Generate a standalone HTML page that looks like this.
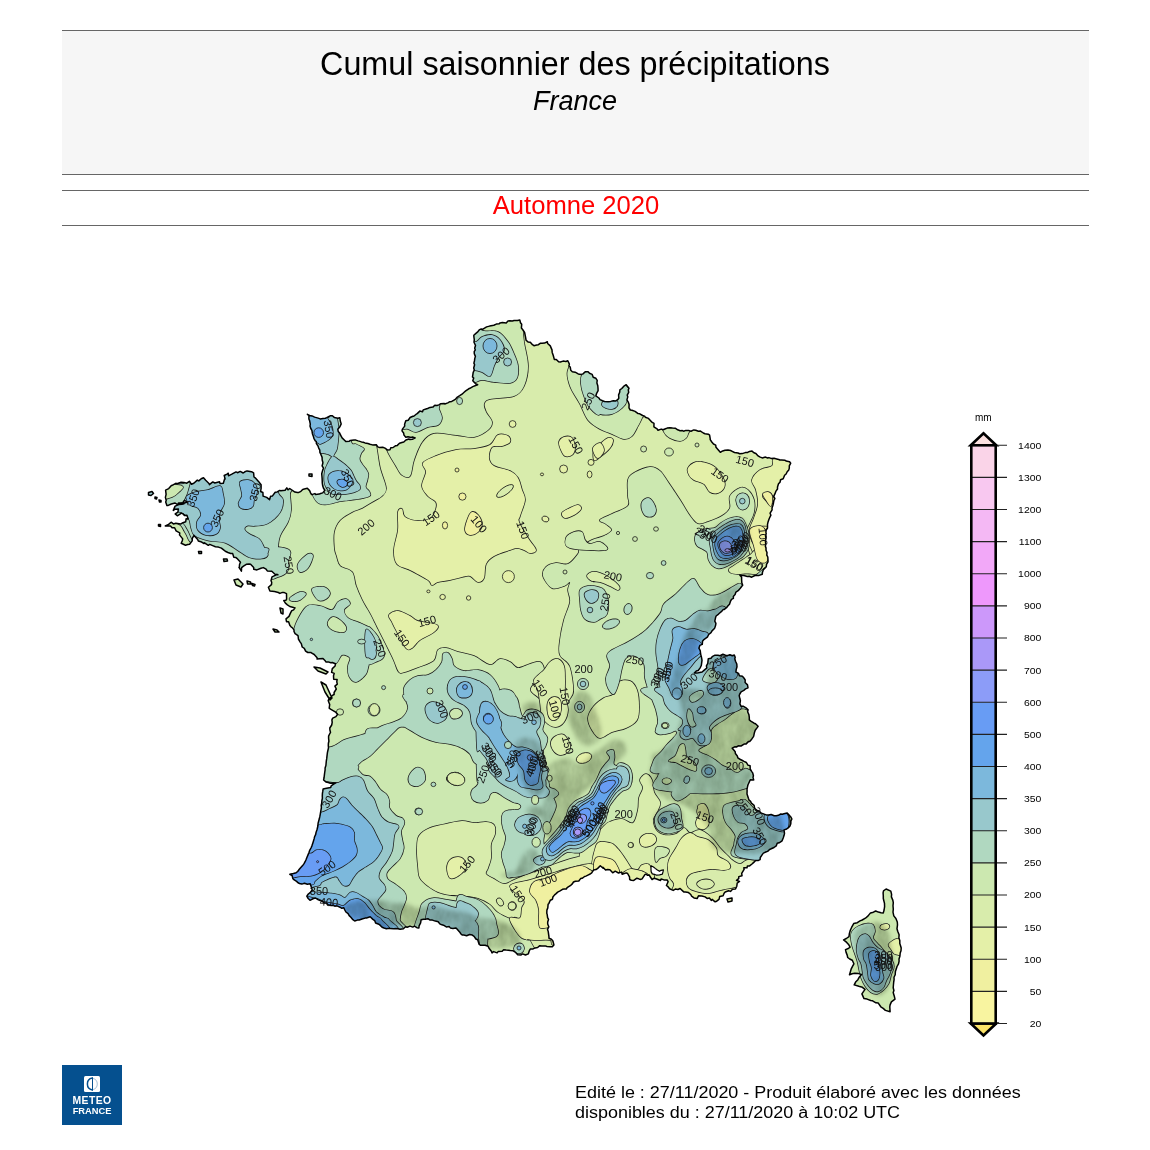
<!DOCTYPE html>
<html lang="fr"><head><meta charset="utf-8"><title>Cumul saisonnier des précipitations - France - Automne 2020</title>
<style>
html,body{margin:0;padding:0;background:#fff;}
body{width:1150px;height:1150px;position:relative;overflow:hidden;font-family:"Liberation Sans",sans-serif;color:#000;}
.hdr{position:absolute;left:62px;top:30px;width:1027px;height:145px;background:#f6f6f6;border-top:1px solid #666;border-bottom:1px solid #666;box-sizing:border-box;}
.t1{position:absolute;left:0;width:1150px;top:46px;text-align:center;font-size:32.3px;line-height:37px;white-space:nowrap;}
.t2{position:absolute;left:0;width:1150px;top:86px;text-align:center;font-size:27px;line-height:31px;font-style:italic;white-space:nowrap;}
.ln{position:absolute;left:62px;width:1027px;height:1px;background:#666;}
.t3{position:absolute;left:0;width:1152px;top:190px;text-align:center;font-size:25.6px;line-height:30px;color:#f00;white-space:nowrap;}
.logo{position:absolute;left:62px;top:1065px;width:60px;height:60px;background:#05508f;}
.logo .ic{position:absolute;left:22px;top:11px;width:16px;height:16px;}
.logo .w{position:absolute;left:0;width:60px;text-align:center;color:#fff;font-weight:bold;font-size:10.4px;line-height:11px;white-space:nowrap;}
.ft{position:absolute;left:575px;top:1083px;font-size:16px;line-height:20px;white-space:nowrap;transform:scaleX(1.122);transform-origin:0 0;}
svg{position:absolute;left:0;top:0;}
.lg{font-family:"Liberation Sans",sans-serif;font-size:9.5px;fill:#000;}
.cl{font-family:"Liberation Sans",sans-serif;font-size:11px;fill:#111;}
</style></head><body>
<div class="hdr"></div>
<div class="t1">Cumul saisonnier des précipitations</div>
<div class="t2">France</div>
<div class="ln" style="top:190px"></div>
<div class="t3">Automne 2020</div>
<div class="ln" style="top:225px"></div>
<svg width="1150" height="1150" viewBox="0 0 1150 1150">
<defs><clipPath id="fr"><path d="M519.8 320.0 L520.5 322.7 L521.7 324.2 L521.4 328.1 L522.8 329.8 L524.6 332.4 L525.1 335.0 L525.5 336.9 L526.1 340.3 L528.0 341.9 L530.3 342.2 L532.5 344.7 L533.9 345.7 L536.7 345.0 L538.4 344.7 L540.2 343.3 L542.1 343.2 L544.6 343.1 L547.3 341.7 L547.6 343.5 L550.3 345.9 L551.0 347.6 L552.0 349.9 L552.2 352.4 L553.2 355.2 L553.8 357.5 L554.3 359.4 L556.3 359.4 L558.6 361.8 L560.3 362.0 L563.1 361.1 L565.9 361.5 L567.8 360.7 L569.4 364.1 L568.9 365.9 L570.2 367.0 L570.8 370.3 L572.3 371.7 L575.2 372.2 L578.2 373.9 L581.2 374.4 L583.0 373.9 L585.2 371.7 L588.1 371.7 L589.5 373.3 L592.2 374.4 L593.2 377.2 L595.9 378.3 L597.2 380.3 L596.9 383.0 L597.8 385.7 L598.0 388.1 L598.1 390.7 L596.5 393.7 L595.8 395.9 L598.9 398.0 L600.0 399.6 L602.5 400.8 L604.5 401.5 L608.1 401.7 L610.7 401.4 L613.3 400.7 L615.9 400.9 L617.7 399.7 L618.8 398.3 L618.6 394.9 L619.7 392.2 L619.9 389.9 L621.8 388.5 L623.6 386.4 L626.2 384.7 L629.0 388.2 L628.3 389.9 L628.7 392.3 L627.2 395.1 L627.8 396.9 L626.9 399.9 L628.4 402.4 L629.1 404.4 L629.0 407.8 L630.3 410.0 L632.0 410.3 L635.1 411.4 L638.1 413.6 L639.8 413.8 L642.6 415.5 L644.6 416.1 L645.3 417.2 L648.5 418.4 L649.9 419.9 L651.5 421.8 L654.0 423.4 L653.9 426.8 L657.1 428.9 L658.0 430.3 L661.2 429.1 L663.2 429.8 L665.5 428.8 L667.2 428.1 L669.8 427.7 L672.5 428.1 L675.2 428.2 L677.7 429.8 L680.1 430.7 L682.4 430.6 L683.6 431.2 L685.8 430.4 L689.1 430.6 L691.0 431.2 L693.8 429.9 L695.8 430.3 L698.4 431.3 L700.5 431.1 L703.3 433.0 L705.0 433.7 L708.3 434.2 L709.6 435.1 L710.2 438.7 L710.2 439.6 L711.8 442.0 L713.5 444.0 L715.7 445.1 L716.0 447.3 L717.7 449.2 L720.3 452.3 L721.9 451.3 L725.0 450.3 L727.9 450.1 L730.6 450.5 L732.2 451.3 L734.5 452.5 L738.0 453.0 L739.7 453.8 L742.2 453.6 L745.3 452.6 L747.7 452.4 L749.5 451.4 L752.0 451.1 L753.9 452.8 L755.9 453.5 L758.1 455.9 L759.7 456.9 L762.2 457.9 L765.5 457.1 L767.7 458.0 L768.9 457.6 L771.0 458.4 L774.1 458.3 L776.7 458.9 L778.7 459.4 L779.7 460.0 L781.6 459.9 L785.1 460.3 L786.0 461.0 L789.6 461.8 L790.7 463.2 L789.3 465.9 L789.3 468.1 L788.8 469.9 L787.2 471.7 L786.1 474.0 L784.6 475.3 L783.2 478.8 L780.6 479.7 L780.0 482.2 L778.5 483.8 L777.5 487.0 L777.5 489.0 L775.8 491.4 L774.9 493.9 L773.7 496.3 L774.9 498.5 L773.9 500.4 L773.3 503.8 L772.8 505.7 L772.0 508.1 L772.1 509.8 L770.1 513.2 L770.9 515.2 L769.5 518.0 L768.8 519.8 L767.9 522.6 L767.5 524.3 L767.5 528.0 L766.2 530.0 L765.9 532.3 L766.2 533.8 L765.5 535.6 L766.0 538.5 L765.4 540.7 L765.7 543.7 L765.4 546.4 L766.0 547.9 L766.0 550.2 L767.0 552.5 L766.8 555.2 L767.8 557.0 L768.0 560.4 L768.0 561.8 L766.5 564.4 L766.3 566.8 L765.6 567.5 L763.4 569.6 L762.4 572.4 L762.3 574.3 L759.1 575.4 L756.7 575.4 L754.9 575.5 L751.7 577.2 L749.2 576.3 L747.3 576.5 L743.9 575.5 L742.3 575.4 L739.8 575.1 L741.6 577.3 L741.6 579.3 L741.8 582.8 L742.7 585.3 L742.0 586.0 L740.3 588.3 L738.2 590.7 L735.9 592.1 L735.1 594.6 L733.3 596.5 L733.4 598.3 L731.5 599.3 L730.3 601.7 L729.5 604.3 L728.0 605.8 L726.5 607.7 L724.0 609.6 L723.1 609.6 L721.9 611.1 L719.1 613.5 L717.9 614.7 L716.1 616.0 L715.5 617.8 L714.8 621.2 L715.9 623.3 L715.6 625.3 L714.8 627.9 L714.2 628.8 L712.0 630.9 L711.0 632.7 L708.7 634.5 L707.6 636.8 L705.9 638.2 L703.9 639.6 L702.5 641.3 L702.3 644.4 L699.8 645.4 L698.9 648.2 L700.2 650.6 L700.4 651.8 L700.6 654.0 L701.4 656.9 L701.8 658.8 L702.0 660.4 L701.5 664.2 L701.3 665.5 L700.0 668.1 L698.2 670.5 L696.3 671.0 L694.3 673.0 L696.8 673.1 L698.4 672.8 L702.1 672.0 L704.5 669.9 L706.8 668.0 L706.4 665.8 L707.8 663.4 L707.9 662.1 L708.3 658.7 L711.0 658.2 L712.2 656.7 L715.0 655.2 L718.0 655.3 L720.0 655.7 L722.9 654.3 L725.5 655.2 L727.9 655.4 L729.9 654.7 L732.3 655.8 L734.3 655.0 L735.2 657.2 L734.8 658.7 L735.5 661.2 L736.8 664.0 L737.0 666.7 L736.2 669.6 L735.9 672.0 L738.5 673.3 L739.4 675.7 L742.4 676.3 L743.9 678.0 L745.2 680.0 L745.1 682.5 L747.5 684.9 L748.0 687.8 L745.5 688.9 L743.8 690.4 L741.1 691.8 L739.8 694.0 L739.2 695.6 L739.9 698.8 L740.4 700.7 L739.9 703.9 L741.1 706.3 L743.5 706.3 L746.0 707.9 L748.1 709.9 L747.6 711.7 L748.9 714.6 L749.3 717.4 L749.3 719.9 L750.8 721.1 L754.1 723.2 L755.5 723.8 L758.1 726.3 L757.2 727.6 L755.2 730.3 L754.4 732.7 L753.7 736.1 L753.1 737.1 L751.7 739.2 L749.7 741.6 L748.4 741.6 L745.9 744.1 L744.5 743.9 L741.0 746.0 L738.3 745.8 L736.4 747.0 L735.1 746.7 L732.2 748.2 L733.8 750.1 L735.2 751.8 L735.4 753.5 L737.3 756.0 L737.8 757.8 L740.4 759.5 L742.4 760.5 L744.0 761.4 L746.4 762.5 L747.9 765.1 L750.1 765.7 L750.2 769.0 L751.6 771.3 L752.7 772.9 L753.4 775.8 L753.0 777.4 L753.7 779.9 L750.3 779.7 L749.5 781.5 L748.0 784.7 L747.7 785.8 L747.0 789.1 L747.1 790.6 L747.0 794.1 L747.5 795.6 L748.4 798.3 L749.1 800.2 L750.6 801.4 L751.4 803.2 L754.1 805.3 L754.7 808.3 L756.7 810.2 L758.8 810.9 L761.3 813.1 L764.1 814.1 L766.9 815.1 L768.5 815.0 L771.1 814.5 L774.2 815.8 L776.2 815.8 L778.3 815.3 L780.8 814.0 L782.3 814.2 L784.0 813.7 L787.2 812.9 L789.3 815.2 L790.8 816.9 L791.9 819.0 L790.9 820.9 L790.8 823.8 L790.0 825.9 L788.2 827.9 L786.0 829.3 L784.0 829.9 L784.5 833.4 L784.1 835.3 L783.2 837.9 L782.1 840.8 L779.1 842.8 L777.2 843.3 L776.2 845.9 L774.0 847.5 L771.2 848.8 L769.6 849.5 L767.6 851.4 L766.3 851.8 L763.4 853.1 L762.6 854.1 L760.3 857.5 L760.1 859.6 L758.5 860.4 L755.7 860.5 L753.5 862.6 L752.0 864.0 L749.6 865.9 L747.4 865.9 L747.0 867.8 L743.8 867.7 L744.1 869.4 L741.7 873.4 L742.0 875.7 L738.8 876.6 L738.7 878.6 L736.5 880.3 L739.5 881.5 L737.2 883.1 L736.8 886.2 L735.5 889.0 L732.5 889.3 L730.5 891.4 L728.6 890.8 L725.2 892.0 L724.1 893.2 L723.1 895.8 L719.7 896.6 L719.0 899.4 L716.7 901.2 L715.1 901.8 L712.1 899.4 L711.4 900.4 L709.4 898.0 L707.1 898.4 L705.1 896.9 L701.9 896.0 L698.5 895.8 L697.1 898.6 L694.0 897.9 L691.6 896.2 L690.8 894.5 L688.5 892.6 L685.5 892.1 L683.8 891.9 L682.9 891.1 L680.1 888.5 L677.9 889.5 L675.3 889.1 L673.2 890.4 L669.6 888.8 L668.0 886.7 L666.4 885.5 L668.1 881.7 L667.1 880.0 L663.9 879.9 L661.2 878.9 L660.5 880.5 L656.6 879.0 L654.2 878.2 L652.1 879.5 L650.0 876.5 L649.4 875.0 L647.7 875.3 L645.9 874.1 L644.9 874.6 L642.1 878.9 L640.9 879.4 L639.0 878.9 L636.9 878.2 L633.8 880.4 L631.3 880.2 L629.7 879.5 L629.5 876.9 L627.6 873.5 L626.2 872.9 L622.2 874.3 L621.5 872.1 L618.5 873.0 L615.2 871.2 L612.7 872.8 L609.9 869.8 L607.6 869.6 L605.6 870.1 L602.9 867.2 L603.1 868.3 L600.3 865.8 L597.7 868.4 L596.0 869.6 L593.7 869.9 L591.7 872.8 L590.2 874.0 L587.9 875.1 L585.9 876.1 L584.6 876.5 L582.1 878.3 L580.6 878.6 L578.8 881.0 L575.4 881.2 L573.5 882.0 L572.3 883.9 L570.3 885.7 L567.1 887.7 L566.5 888.9 L564.3 889.0 L562.5 889.3 L560.1 890.9 L557.7 892.1 L556.1 893.6 L554.6 894.9 L552.9 897.0 L552.5 899.2 L550.3 900.2 L548.9 903.4 L548.1 904.3 L547.8 907.9 L546.9 910.1 L546.8 913.2 L547.2 914.6 L547.6 917.7 L548.5 919.4 L547.7 921.9 L547.7 923.9 L548.8 926.8 L547.5 929.3 L548.3 931.9 L548.4 932.8 L548.9 936.4 L549.0 938.3 L551.4 939.3 L552.9 941.0 L553.9 944.9 L552.3 946.7 L550.1 946.7 L547.0 946.5 L545.2 945.9 L541.7 945.9 L539.8 945.7 L537.6 947.5 L535.1 947.9 L533.1 948.9 L530.3 949.0 L529.3 950.8 L528.3 953.9 L525.5 955.0 L522.6 953.9 L521.1 954.9 L517.7 954.7 L515.2 952.1 L513.2 950.8 L510.3 950.5 L508.4 950.2 L506.1 950.1 L503.6 949.8 L502.2 951.3 L498.3 951.4 L497.1 952.9 L493.6 951.6 L492.0 952.9 L491.4 951.3 L489.0 948.2 L488.1 946.3 L485.2 945.3 L482.8 945.3 L480.4 945.3 L479.0 944.1 L477.7 939.8 L475.9 939.0 L474.1 936.3 L472.3 935.1 L469.6 934.5 L466.6 935.7 L463.8 935.1 L462.1 934.9 L461.0 934.0 L459.6 931.9 L457.0 929.0 L456.0 927.9 L452.9 928.4 L450.5 928.1 L449.3 926.6 L446.3 926.9 L443.5 925.2 L441.2 924.5 L439.8 923.9 L438.2 921.7 L435.3 921.1 L432.4 920.1 L430.1 920.1 L427.9 918.7 L425.2 919.2 L423.5 919.2 L421.1 919.8 L420.6 922.9 L419.1 925.8 L418.9 928.0 L416.9 927.7 L414.4 926.2 L412.8 927.1 L410.0 926.1 L407.2 927.3 L405.5 926.7 L403.4 928.7 L400.1 929.3 L398.0 928.8 L396.1 928.5 L393.8 928.8 L390.3 928.6 L389.3 928.3 L386.4 928.8 L384.0 928.0 L382.1 927.2 L379.5 924.6 L378.2 924.0 L375.6 923.0 L374.7 920.6 L372.9 919.4 L370.2 916.8 L366.5 918.0 L365.1 918.1 L362.0 919.0 L359.2 920.0 L357.4 920.1 L354.7 921.0 L352.9 919.7 L350.9 917.3 L349.2 915.6 L348.1 913.7 L345.9 912.0 L344.8 910.0 L343.8 907.7 L341.8 908.3 L340.1 907.2 L337.0 905.9 L334.5 906.0 L333.4 905.2 L331.1 905.4 L328.0 904.8 L326.8 903.3 L324.1 902.7 L321.5 901.0 L320.9 900.9 L318.4 899.9 L315.7 898.1 L313.5 898.5 L310.0 900.3 L308.2 898.5 L306.8 896.1 L308.3 894.0 L310.1 892.7 L312.2 890.0 L311.3 886.9 L310.2 883.8 L307.4 884.2 L304.5 883.2 L301.8 884.1 L299.5 883.5 L298.0 882.8 L296.6 881.4 L293.9 879.7 L292.8 878.4 L292.1 875.5 L289.8 874.3 L293.4 873.5 L296.2 872.7 L297.7 871.5 L299.3 869.2 L300.6 867.7 L302.6 865.6 L303.9 863.9 L305.1 861.7 L306.0 859.7 L307.1 857.0 L308.1 854.6 L308.9 852.7 L309.8 850.1 L311.0 848.0 L312.0 845.6 L312.7 843.4 L313.4 841.2 L314.1 838.9 L314.6 836.7 L315.7 834.4 L316.1 832.2 L316.9 830.0 L317.5 827.8 L317.9 825.5 L318.1 823.1 L318.7 821.0 L319.3 818.8 L319.8 816.7 L320.2 814.6 L320.6 812.2 L321.0 809.9 L321.4 807.7 L321.2 805.5 L321.7 803.1 L321.9 800.5 L322.4 798.2 L322.3 796.2 L322.4 793.7 L322.8 791.2 L323.1 789.0 L325.3 788.5 L327.9 788.0 L330.7 787.5 L331.2 785.8 L333.6 784.2 L335.9 782.9 L332.8 783.0 L330.3 783.3 L328.3 782.5 L325.9 781.9 L323.6 780.0 L324.1 777.5 L324.4 774.8 L324.7 772.5 L325.1 769.9 L325.1 767.9 L325.9 765.5 L326.1 763.4 L326.3 761.1 L326.7 758.7 L326.9 756.8 L327.2 754.4 L327.5 752.2 L328.0 750.0 L328.5 747.8 L328.3 745.5 L328.4 743.2 L328.9 741.2 L328.6 738.3 L328.6 736.1 L329.6 734.0 L330.5 732.3 L329.9 730.0 L329.8 728.0 L331.7 725.0 L332.2 722.4 L331.9 719.9 L332.7 718.1 L335.9 716.6 L337.6 714.3 L335.7 712.2 L333.5 710.8 L330.5 709.2 L329.2 708.2 L329.7 704.5 L329.3 703.4 L328.2 700.5 L329.1 698.7 L333.0 695.0 L334.1 694.5 L334.1 692.5 L336.3 689.0 L334.9 686.1 L337.3 684.2 L336.8 681.9 L337.1 679.4 L333.7 679.2 L333.5 675.7 L334.2 673.4 L331.6 672.4 L332.3 668.6 L335.1 666.0 L335.4 663.8 L332.3 662.5 L330.8 662.7 L328.3 661.9 L325.9 662.0 L325.4 661.1 L323.0 658.6 L319.7 658.7 L317.1 659.1 L317.1 657.7 L314.2 654.5 L311.8 653.2 L311.1 652.6 L307.8 652.5 L305.6 651.1 L304.3 648.4 L302.2 647.0 L301.3 643.6 L300.2 642.1 L298.4 639.0 L298.2 636.8 L298.0 635.6 L295.1 633.6 L294.0 631.5 L294.0 629.9 L292.2 627.6 L291.3 627.1 L289.8 625.2 L288.6 621.7 L286.5 621.7 L286.0 618.9 L289.0 616.4 L290.2 613.6 L291.7 610.7 L293.6 609.9 L295.0 607.9 L292.7 607.2 L289.8 606.5 L287.4 604.8 L285.4 603.2 L283.8 600.6 L286.0 600.2 L286.6 599.1 L286.5 593.6 L283.8 592.4 L282.4 592.4 L279.9 593.4 L278.3 592.5 L274.5 591.6 L269.9 591.1 L268.4 587.2 L271.5 584.6 L271.7 582.3 L271.0 580.8 L272.0 576.9 L276.8 574.6 L277.9 574.8 L275.0 574.2 L271.8 571.3 L267.3 570.9 L266.1 569.2 L263.3 567.6 L261.0 568.3 L256.9 569.9 L253.7 569.2 L253.7 567.6 L250.6 564.3 L249.1 564.1 L246.3 564.3 L243.5 566.2 L241.6 567.7 L241.4 571.2 L239.0 567.3 L239.3 567.4 L239.6 564.3 L240.5 562.2 L236.9 558.3 L236.0 557.6 L233.8 557.2 L232.7 553.6 L230.7 553.5 L227.9 552.5 L225.3 551.3 L223.3 549.6 L221.4 548.1 L218.4 547.1 L215.4 546.8 L213.3 545.9 L209.7 544.4 L208.3 545.3 L204.5 542.8 L204.0 543.5 L200.8 541.7 L198.3 541.0 L197.7 539.4 L194.0 535.4 L192.3 538.4 L192.2 540.9 L189.6 544.2 L187.8 544.6 L185.5 545.2 L181.2 543.3 L182.2 541.0 L182.7 538.9 L179.5 534.9 L179.7 533.7 L179.7 532.8 L176.1 530.9 L174.6 527.7 L172.1 527.8 L170.5 525.9 L165.3 526.0 L168.6 524.4 L171.1 522.2 L173.4 523.9 L175.8 523.3 L180.6 524.1 L182.9 522.7 L185.7 521.7 L186.1 518.8 L188.2 518.9 L186.9 515.2 L184.7 515.6 L183.0 513.9 L181.5 513.1 L177.3 515.8 L175.2 513.9 L177.9 512.1 L178.4 509.0 L174.8 509.3 L173.3 510.4 L175.1 506.1 L178.8 504.6 L182.0 504.2 L184.0 503.7 L184.3 502.9 L187.5 502.1 L184.4 500.3 L182.8 502.9 L178.5 503.1 L177.8 504.9 L175.1 503.0 L171.3 504.0 L168.2 505.4 L166.9 505.5 L165.7 501.9 L166.2 500.4 L165.4 497.4 L166.1 494.3 L165.6 490.1 L168.7 488.6 L171.4 485.5 L171.7 485.6 L175.8 483.3 L177.0 483.7 L181.1 482.2 L183.9 482.4 L186.8 483.2 L189.4 481.3 L191.4 484.2 L193.8 483.2 L197.3 480.1 L198.8 480.9 L201.2 478.8 L203.5 477.7 L205.7 480.3 L209.2 483.7 L209.4 484.7 L212.8 481.9 L214.8 483.0 L219.5 481.7 L220.0 483.4 L223.3 483.2 L224.6 479.0 L225.1 478.9 L224.2 475.5 L227.0 474.1 L228.3 473.2 L228.5 475.8 L231.8 474.2 L236.0 471.9 L237.5 472.7 L240.2 471.4 L243.2 473.0 L244.8 471.8 L247.1 470.9 L251.5 471.7 L253.6 472.9 L254.0 477.0 L255.2 477.8 L258.5 481.4 L261.1 484.8 L261.1 488.5 L260.6 491.5 L262.9 492.5 L263.1 496.1 L266.7 497.4 L269.5 499.7 L270.6 496.2 L272.5 495.9 L275.2 492.2 L277.2 491.9 L279.7 490.4 L280.7 490.8 L285.1 490.2 L286.8 487.9 L288.0 489.8 L289.7 488.5 L294.9 492.1 L297.4 492.6 L298.4 492.6 L300.9 491.3 L302.7 489.4 L304.3 489.0 L307.3 488.3 L309.6 490.6 L310.7 493.1 L311.6 494.6 L314.9 493.6 L315.6 494.4 L319.2 494.1 L320.6 493.5 L322.7 492.9 L324.9 490.2 L323.5 488.3 L322.7 485.8 L322.3 483.1 L322.2 480.3 L322.1 478.1 L321.9 476.0 L321.7 473.8 L322.7 470.1 L323.5 468.2 L322.1 465.9 L322.7 463.8 L322.9 462.5 L322.2 460.0 L322.1 457.4 L320.8 454.2 L319.9 452.4 L319.8 450.2 L318.7 448.1 L318.1 446.2 L316.4 443.6 L316.3 441.5 L315.3 440.8 L313.9 438.3 L313.4 436.4 L312.4 433.7 L311.9 430.3 L310.8 428.5 L310.0 426.1 L310.3 424.1 L309.6 420.6 L308.9 419.0 L308.9 415.5 L307.4 414.3 L309.6 415.4 L312.1 415.9 L314.6 417.1 L318.2 418.1 L320.2 418.9 L322.9 418.4 L325.4 418.2 L326.7 417.6 L330.1 415.8 L332.4 415.8 L334.5 417.6 L337.9 418.2 L339.8 417.7 L340.3 421.0 L341.2 423.9 L339.9 426.7 L337.8 429.2 L338.2 431.4 L339.4 432.7 L341.0 435.8 L342.1 437.9 L344.8 440.5 L345.8 441.6 L349.3 441.3 L350.3 440.4 L353.9 439.9 L355.9 440.1 L358.1 440.9 L361.5 441.9 L363.2 442.2 L365.0 442.9 L367.9 443.5 L370.0 444.2 L372.5 444.9 L376.3 444.7 L377.8 446.9 L379.6 447.6 L382.7 447.2 L385.0 448.1 L387.3 449.9 L390.0 449.7 L390.8 447.8 L393.1 447.5 L395.7 445.7 L397.3 445.4 L399.5 443.3 L401.9 442.5 L403.8 442.0 L405.9 440.0 L408.9 439.0 L409.9 439.6 L412.4 439.2 L415.2 437.9 L412.4 437.0 L411.2 437.4 L408.0 436.7 L405.8 437.3 L404.0 435.1 L403.6 433.0 L402.0 430.9 L402.4 429.1 L404.7 426.1 L404.6 424.2 L405.8 420.8 L408.2 420.2 L410.1 417.5 L412.9 416.2 L413.7 416.3 L416.2 414.2 L417.2 413.6 L419.8 411.1 L422.5 411.8 L423.2 409.9 L426.7 408.7 L427.6 408.5 L430.0 407.4 L432.9 407.1 L434.8 405.3 L437.0 405.5 L438.9 404.9 L440.8 403.7 L444.1 403.4 L444.8 404.0 L447.8 402.9 L449.9 401.7 L451.7 401.4 L453.6 400.3 L455.6 399.1 L457.4 397.1 L459.7 395.7 L462.0 394.2 L464.1 392.3 L465.7 390.9 L468.7 388.8 L469.9 388.3 L472.8 386.6 L476.2 385.3 L477.7 384.7 L475.4 383.6 L472.8 380.8 L473.7 378.0 L472.5 376.9 L472.9 374.4 L473.2 372.4 L474.3 370.0 L473.7 368.0 L474.6 364.8 L473.9 363.1 L474.5 360.7 L474.8 358.4 L475.4 356.4 L474.3 353.7 L474.2 351.7 L475.3 349.9 L474.7 348.3 L475.5 345.5 L474.0 342.2 L474.3 339.6 L473.9 337.0 L473.8 335.2 L475.9 333.4 L477.4 332.2 L479.6 329.6 L481.2 329.0 L482.9 329.2 L485.8 327.4 L486.6 326.9 L489.6 326.1 L491.1 325.8 L493.8 325.2 L496.3 324.1 L499.2 323.8 L500.1 322.9 L502.3 322.6 L506.2 322.9 L508.0 320.9 L509.8 320.8 L512.3 321.0 L514.1 320.5 L517.4 320.5Z M886.1 889.0 L890.8 891.1 L891.6 894.4 L891.4 896.9 L892.8 900.1 L893.3 902.6 L893.0 905.8 L893.3 909.2 L893.0 912.1 L893.8 915.9 L895.9 918.5 L897.3 922.0 L897.5 924.8 L897.0 928.7 L897.7 931.2 L899.1 934.8 L898.9 937.9 L899.8 940.5 L899.8 943.6 L900.7 946.2 L901.2 948.0 L901.0 950.7 L900.2 953.0 L899.9 956.2 L899.0 958.9 L899.1 961.2 L898.5 963.9 L897.0 966.5 L896.4 968.6 L895.4 971.5 L895.2 974.8 L894.0 977.3 L894.1 979.7 L893.7 982.0 L893.4 985.3 L893.2 987.7 L893.9 990.5 L893.2 992.5 L894.3 996.2 L895.0 999.2 L891.4 1001.9 L890.1 1004.9 L889.8 1006.9 L890.1 1011.7 L885.4 1010.4 L883.2 1008.4 L880.8 1006.8 L878.1 1002.9 L875.9 1002.8 L872.6 1000.8 L870.7 1000.5 L867.1 999.1 L864.0 998.6 L861.9 993.9 L863.1 992.1 L865.0 989.3 L862.4 987.3 L858.8 986.3 L854.2 984.9 L855.6 982.1 L857.9 979.7 L859.4 976.9 L861.5 974.5 L858.6 973.6 L854.8 973.2 L852.1 973.8 L849.5 974.8 L850.1 972.7 L851.1 969.2 L852.5 966.3 L853.9 963.8 L852.3 960.2 L849.7 959.0 L847.7 957.5 L847.2 955.1 L846.1 952.4 L845.5 949.6 L848.3 948.5 L850.1 947.2 L848.8 944.8 L846.7 942.4 L843.6 939.9 L846.3 938.5 L849.0 936.7 L849.4 933.4 L850.3 930.2 L851.7 927.2 L853.7 923.6 L857.3 922.7 L860.0 920.9 L862.2 920.0 L865.4 918.2 L868.1 915.9 L870.5 912.9 L873.4 912.2 L875.7 911.0 L878.4 912.1 L881.0 912.7 L883.3 912.9 L884.1 910.0 L884.6 906.6 L884.5 903.4 L883.9 901.0 L883.3 898.5 L883.3 895.7 L883.1 892.9 L883.5 890.8Z M234.0 580.0 L238.0 579.0 L243.0 584.0 L241.0 587.0 L236.0 585.0ZM280.0 608.0 L283.0 609.0 L283.0 614.0 L281.0 613.0ZM273.0 629.0 L277.0 630.0 L279.0 632.0 L275.0 632.0ZM314.0 667.0 L320.0 668.0 L328.0 672.0 L326.0 674.0 L318.0 671.0ZM321.0 682.0 L326.0 685.0 L332.0 698.0 L330.0 700.0 L325.0 692.0ZM148.5 492.5 L152.0 491.5 L153.5 493.5 L151.0 495.5 L148.5 495.0ZM155.0 497.0 L157.0 497.5 L156.5 499.0 L155.0 498.5ZM159.0 500.0 L161.0 500.5 L161.0 502.0 L159.5 502.0ZM158.5 524.5 L160.5 524.5 L160.5 526.5 L158.5 526.0ZM198.5 551.5 L201.5 551.5 L201.5 553.5 L199.0 553.5ZM223.5 559.0 L227.0 559.0 L227.5 561.0 L224.0 561.5ZM247.0 581.0 L250.5 582.0 L251.0 584.0 L247.5 584.0ZM252.0 583.5 L255.0 584.5 L254.5 586.0 L252.5 585.5ZM727.0 899.0 L732.0 898.0 L732.0 901.0 L728.0 902.0ZM309.0 474.0 L312.0 474.0 L312.0 476.5 L309.0 476.0Z"/></clipPath>
<filter id="b1" x="-20%" y="-20%" width="140%" height="140%"><feGaussianBlur stdDeviation="1.6"/></filter>
<filter id="rl" x="0" y="0" width="100%" height="100%" filterUnits="userSpaceOnUse" color-interpolation-filters="sRGB"><feTurbulence type="fractalNoise" baseFrequency="0.09 0.05" numOctaves="3" seed="7" result="n"/><feColorMatrix in="n" type="matrix" values="0 0 0 0 0.58  0 0 0 0 0.60  0 0 0 0 0.55  0.55 0 0 0 0.22" result="na"/><feGaussianBlur in="SourceGraphic" stdDeviation="2.2" result="b"/><feComposite in="na" in2="b" operator="in"/></filter>
</defs>
<g clip-path="url(#fr)">
<rect x="130" y="310" width="790" height="720" fill="#d8ecac"/>
<path d="M130.0 460.0 C158.3 393.3 259.7 403.3 300.0 400.0 C340.3 396.7 359.3 432.5 372.0 440.0 C384.7 447.5 374.7 440.3 376.0 445.0 C377.3 449.7 378.3 460.8 380.0 468.0 C381.7 475.2 385.7 483.3 386.0 488.0 C386.3 492.7 384.3 493.7 382.0 496.0 C379.7 498.3 375.3 500.0 372.0 502.0 C368.7 504.0 365.3 506.3 362.0 508.0 C358.7 509.7 355.7 510.0 352.0 512.0 C348.3 514.0 343.0 516.7 340.0 520.0 C337.0 523.3 335.0 527.3 334.0 532.0 C333.0 536.7 333.7 544.0 334.0 548.0 C334.3 552.0 335.0 553.0 336.0 556.0 C337.0 559.0 337.3 563.3 340.0 566.0 C342.7 568.7 349.3 568.7 352.0 572.0 C354.7 575.3 354.3 581.3 356.0 586.0 C357.7 590.7 359.7 595.3 362.0 600.0 C364.3 604.7 367.3 609.0 370.0 614.0 C372.7 619.0 374.3 622.7 378.0 630.0 C381.7 637.3 388.7 651.0 392.0 658.0 C395.3 665.0 396.0 669.5 398.0 672.0 C400.0 674.5 400.7 673.7 404.0 673.0 C407.3 672.3 413.0 670.0 418.0 668.0 C423.0 666.0 430.7 664.0 434.0 661.0 C437.3 658.0 436.0 652.2 438.0 650.0 C440.0 647.8 442.7 647.7 446.0 648.0 C449.3 648.3 453.3 650.7 458.0 652.0 C462.7 653.3 468.7 653.8 474.0 656.0 C479.3 658.2 485.7 664.5 490.0 665.0 C494.3 665.5 496.7 659.5 500.0 659.0 C503.3 658.5 507.0 660.5 510.0 662.0 C513.0 663.5 514.7 667.7 518.0 668.0 C521.3 668.3 526.3 665.0 530.0 664.0 C533.7 663.0 537.7 661.0 540.0 662.0 C542.3 663.0 544.3 667.3 544.0 670.0 C543.7 672.7 540.3 674.7 538.0 678.0 C535.7 681.3 529.7 686.3 530.0 690.0 C530.3 693.7 537.0 696.3 540.0 700.0 C543.0 703.7 545.3 708.7 548.0 712.0 C550.7 715.3 553.7 720.0 556.0 720.0 C558.3 720.0 559.7 715.3 562.0 712.0 C564.3 708.7 568.0 703.7 570.0 700.0 C572.0 696.3 574.0 695.7 574.0 690.0 C574.0 684.3 572.3 671.8 570.0 666.0 C567.7 660.2 561.7 659.3 560.0 655.0 C558.3 650.7 559.3 645.8 560.0 640.0 C560.7 634.2 562.3 626.3 564.0 620.0 C565.7 613.7 569.3 607.0 570.0 602.0 C570.7 597.0 568.0 593.3 568.0 590.0 C568.0 586.7 570.7 582.7 570.0 582.0 C569.3 581.3 567.0 585.0 564.0 586.0 C561.0 587.0 555.5 589.7 552.0 588.0 C548.5 586.3 544.0 579.5 543.0 576.0 C542.0 572.5 543.8 569.2 546.0 567.0 C548.2 564.8 552.3 563.5 556.0 563.0 C559.7 562.5 564.3 565.5 568.0 564.0 C571.7 562.5 576.0 556.7 578.0 554.0 C580.0 551.3 577.7 550.3 580.0 548.0 C582.3 545.7 588.0 542.0 592.0 540.0 C596.0 538.0 600.7 537.7 604.0 536.0 C607.3 534.3 611.7 532.0 612.0 530.0 C612.3 528.0 608.0 525.7 606.0 524.0 C604.0 522.3 599.0 521.7 600.0 520.0 C601.0 518.3 607.3 516.3 612.0 514.0 C616.7 511.7 625.3 509.0 628.0 506.0 C630.7 503.0 628.0 500.3 628.0 496.0 C628.0 491.7 627.0 483.8 628.0 480.0 C629.0 476.2 630.3 475.2 634.0 473.0 C637.7 470.8 645.7 467.3 650.0 467.0 C654.3 466.7 657.0 468.5 660.0 471.0 C663.0 473.5 664.7 477.2 668.0 482.0 C671.3 486.8 676.3 494.3 680.0 500.0 C683.7 505.7 687.0 512.0 690.0 516.0 C693.0 520.0 695.0 523.0 698.0 524.0 C701.0 525.0 704.0 523.3 708.0 522.0 C712.0 520.7 718.3 518.3 722.0 516.0 C725.7 513.7 728.7 511.3 730.0 508.0 C731.3 504.7 728.3 499.3 730.0 496.0 C731.7 492.7 737.0 489.0 740.0 488.0 C743.0 487.0 745.7 488.0 748.0 490.0 C750.3 492.0 753.0 496.3 754.0 500.0 C755.0 503.7 754.7 508.3 754.0 512.0 C753.3 515.7 751.7 518.0 750.0 522.0 C748.3 526.0 744.3 531.3 744.0 536.0 C743.7 540.7 746.7 546.0 748.0 550.0 C749.3 554.0 750.0 556.3 752.0 560.0 C754.0 563.7 752.0 570.0 760.0 572.0 C768.0 574.0 793.3 500.7 800.0 572.0 C806.7 643.3 840.0 928.7 800.0 1000.0 C760.0 1071.3 643.3 1000.0 560.0 1000.0 C476.7 1000.0 371.7 1033.3 300.0 1000.0 C228.3 966.7 158.3 890.0 130.0 800.0 C101.7 710.0 101.7 526.7 130.0 460.0Z M390.0 420.0 C398.0 411.3 420.0 398.0 430.0 380.0 C440.0 362.0 435.3 323.3 450.0 312.0 C464.7 300.7 506.0 310.0 518.0 312.0 C530.0 314.0 521.0 319.0 522.0 324.0 C523.0 329.0 523.0 335.0 524.0 342.0 C525.0 349.0 528.0 358.7 528.0 366.0 C528.0 373.3 526.3 381.0 524.0 386.0 C521.7 391.0 519.7 393.8 514.0 396.0 C508.3 398.2 495.0 397.7 490.0 399.0 C485.0 400.3 484.7 401.8 484.0 404.0 C483.3 406.2 484.7 409.0 486.0 412.0 C487.3 415.0 491.7 419.0 492.0 422.0 C492.3 425.0 491.0 427.5 488.0 430.0 C485.0 432.5 479.3 436.2 474.0 437.0 C468.7 437.8 462.7 435.7 456.0 435.0 C449.3 434.3 439.7 431.8 434.0 433.0 C428.3 434.2 425.3 437.5 422.0 442.0 C418.7 446.5 416.0 454.3 414.0 460.0 C412.0 465.7 412.0 473.5 410.0 476.0 C408.0 478.5 404.3 476.7 402.0 475.0 C399.7 473.3 398.5 470.2 396.0 466.0 C393.5 461.8 389.3 455.7 387.0 450.0 C384.7 444.3 381.5 437.0 382.0 432.0 C382.5 427.0 382.0 428.7 390.0 420.0Z M580.0 360.0 C588.7 361.7 609.0 372.0 620.0 380.0 C631.0 388.0 642.3 401.7 646.0 408.0 C649.7 414.3 643.3 415.0 642.0 418.0 C640.7 421.0 639.7 423.0 638.0 426.0 C636.3 429.0 634.3 433.8 632.0 436.0 C629.7 438.2 627.3 439.3 624.0 439.0 C620.7 438.7 616.0 435.7 612.0 434.0 C608.0 432.3 604.0 431.3 600.0 429.0 C596.0 426.7 591.3 424.2 588.0 420.0 C584.7 415.8 583.0 409.7 580.0 404.0 C577.0 398.3 572.0 391.7 570.0 386.0 C568.0 380.3 566.3 374.3 568.0 370.0 C569.7 365.7 571.3 358.3 580.0 360.0Z M690.0 424.0 C694.0 425.7 688.7 431.7 688.0 434.0 C687.3 436.3 687.3 436.8 686.0 438.0 C684.7 439.2 682.7 441.0 680.0 441.0 C677.3 441.0 672.7 439.5 670.0 438.0 C667.3 436.5 665.0 434.3 664.0 432.0 C663.0 429.7 659.7 425.3 664.0 424.0 C668.3 422.7 686.0 422.3 690.0 424.0Z M733.3 501.7 C734.1 499.7 734.4 496.4 735.6 494.3 C736.7 492.2 738.2 489.9 740.1 489.2 C742.0 488.6 745.0 489.2 746.9 490.3 C748.8 491.5 750.3 493.7 751.4 496.0 C752.5 498.3 753.7 501.3 753.7 503.9 C753.7 506.6 752.3 509.6 751.4 511.8 C750.4 514.1 748.8 515.6 748.0 517.5 C747.2 519.4 747.8 522.8 746.9 523.1 C745.9 523.5 744.0 520.7 742.3 519.7 C740.7 518.8 738.4 518.6 736.7 517.5 C735.0 516.3 733.1 514.8 732.2 513.0 C731.2 511.1 730.9 508.1 731.0 506.2 C731.2 504.3 732.6 503.6 733.3 501.7Z M839.1 883.0 C850.0 861.3 893.5 861.3 904.3 883.0 C915.2 904.8 915.2 991.7 904.3 1013.5 C893.5 1035.2 850.0 1035.2 839.1 1013.5 C828.3 991.7 828.3 904.8 839.1 883.0Z" fill="none" stroke="#1c1c1c" stroke-width="1.5"/>
<path d="M130.0 460.0 C158.3 393.3 259.7 403.3 300.0 400.0 C340.3 396.7 359.3 432.5 372.0 440.0 C384.7 447.5 374.7 440.3 376.0 445.0 C377.3 449.7 378.3 460.8 380.0 468.0 C381.7 475.2 385.7 483.3 386.0 488.0 C386.3 492.7 384.3 493.7 382.0 496.0 C379.7 498.3 375.3 500.0 372.0 502.0 C368.7 504.0 365.3 506.3 362.0 508.0 C358.7 509.7 355.7 510.0 352.0 512.0 C348.3 514.0 343.0 516.7 340.0 520.0 C337.0 523.3 335.0 527.3 334.0 532.0 C333.0 536.7 333.7 544.0 334.0 548.0 C334.3 552.0 335.0 553.0 336.0 556.0 C337.0 559.0 337.3 563.3 340.0 566.0 C342.7 568.7 349.3 568.7 352.0 572.0 C354.7 575.3 354.3 581.3 356.0 586.0 C357.7 590.7 359.7 595.3 362.0 600.0 C364.3 604.7 367.3 609.0 370.0 614.0 C372.7 619.0 374.3 622.7 378.0 630.0 C381.7 637.3 388.7 651.0 392.0 658.0 C395.3 665.0 396.0 669.5 398.0 672.0 C400.0 674.5 400.7 673.7 404.0 673.0 C407.3 672.3 413.0 670.0 418.0 668.0 C423.0 666.0 430.7 664.0 434.0 661.0 C437.3 658.0 436.0 652.2 438.0 650.0 C440.0 647.8 442.7 647.7 446.0 648.0 C449.3 648.3 453.3 650.7 458.0 652.0 C462.7 653.3 468.7 653.8 474.0 656.0 C479.3 658.2 485.7 664.5 490.0 665.0 C494.3 665.5 496.7 659.5 500.0 659.0 C503.3 658.5 507.0 660.5 510.0 662.0 C513.0 663.5 514.7 667.7 518.0 668.0 C521.3 668.3 526.3 665.0 530.0 664.0 C533.7 663.0 537.7 661.0 540.0 662.0 C542.3 663.0 544.3 667.3 544.0 670.0 C543.7 672.7 540.3 674.7 538.0 678.0 C535.7 681.3 529.7 686.3 530.0 690.0 C530.3 693.7 537.0 696.3 540.0 700.0 C543.0 703.7 545.3 708.7 548.0 712.0 C550.7 715.3 553.7 720.0 556.0 720.0 C558.3 720.0 559.7 715.3 562.0 712.0 C564.3 708.7 568.0 703.7 570.0 700.0 C572.0 696.3 574.0 695.7 574.0 690.0 C574.0 684.3 572.3 671.8 570.0 666.0 C567.7 660.2 561.7 659.3 560.0 655.0 C558.3 650.7 559.3 645.8 560.0 640.0 C560.7 634.2 562.3 626.3 564.0 620.0 C565.7 613.7 569.3 607.0 570.0 602.0 C570.7 597.0 568.0 593.3 568.0 590.0 C568.0 586.7 570.7 582.7 570.0 582.0 C569.3 581.3 567.0 585.0 564.0 586.0 C561.0 587.0 555.5 589.7 552.0 588.0 C548.5 586.3 544.0 579.5 543.0 576.0 C542.0 572.5 543.8 569.2 546.0 567.0 C548.2 564.8 552.3 563.5 556.0 563.0 C559.7 562.5 564.3 565.5 568.0 564.0 C571.7 562.5 576.0 556.7 578.0 554.0 C580.0 551.3 577.7 550.3 580.0 548.0 C582.3 545.7 588.0 542.0 592.0 540.0 C596.0 538.0 600.7 537.7 604.0 536.0 C607.3 534.3 611.7 532.0 612.0 530.0 C612.3 528.0 608.0 525.7 606.0 524.0 C604.0 522.3 599.0 521.7 600.0 520.0 C601.0 518.3 607.3 516.3 612.0 514.0 C616.7 511.7 625.3 509.0 628.0 506.0 C630.7 503.0 628.0 500.3 628.0 496.0 C628.0 491.7 627.0 483.8 628.0 480.0 C629.0 476.2 630.3 475.2 634.0 473.0 C637.7 470.8 645.7 467.3 650.0 467.0 C654.3 466.7 657.0 468.5 660.0 471.0 C663.0 473.5 664.7 477.2 668.0 482.0 C671.3 486.8 676.3 494.3 680.0 500.0 C683.7 505.7 687.0 512.0 690.0 516.0 C693.0 520.0 695.0 523.0 698.0 524.0 C701.0 525.0 704.0 523.3 708.0 522.0 C712.0 520.7 718.3 518.3 722.0 516.0 C725.7 513.7 728.7 511.3 730.0 508.0 C731.3 504.7 728.3 499.3 730.0 496.0 C731.7 492.7 737.0 489.0 740.0 488.0 C743.0 487.0 745.7 488.0 748.0 490.0 C750.3 492.0 753.0 496.3 754.0 500.0 C755.0 503.7 754.7 508.3 754.0 512.0 C753.3 515.7 751.7 518.0 750.0 522.0 C748.3 526.0 744.3 531.3 744.0 536.0 C743.7 540.7 746.7 546.0 748.0 550.0 C749.3 554.0 750.0 556.3 752.0 560.0 C754.0 563.7 752.0 570.0 760.0 572.0 C768.0 574.0 793.3 500.7 800.0 572.0 C806.7 643.3 840.0 928.7 800.0 1000.0 C760.0 1071.3 643.3 1000.0 560.0 1000.0 C476.7 1000.0 371.7 1033.3 300.0 1000.0 C228.3 966.7 158.3 890.0 130.0 800.0 C101.7 710.0 101.7 526.7 130.0 460.0Z M390.0 420.0 C398.0 411.3 420.0 398.0 430.0 380.0 C440.0 362.0 435.3 323.3 450.0 312.0 C464.7 300.7 506.0 310.0 518.0 312.0 C530.0 314.0 521.0 319.0 522.0 324.0 C523.0 329.0 523.0 335.0 524.0 342.0 C525.0 349.0 528.0 358.7 528.0 366.0 C528.0 373.3 526.3 381.0 524.0 386.0 C521.7 391.0 519.7 393.8 514.0 396.0 C508.3 398.2 495.0 397.7 490.0 399.0 C485.0 400.3 484.7 401.8 484.0 404.0 C483.3 406.2 484.7 409.0 486.0 412.0 C487.3 415.0 491.7 419.0 492.0 422.0 C492.3 425.0 491.0 427.5 488.0 430.0 C485.0 432.5 479.3 436.2 474.0 437.0 C468.7 437.8 462.7 435.7 456.0 435.0 C449.3 434.3 439.7 431.8 434.0 433.0 C428.3 434.2 425.3 437.5 422.0 442.0 C418.7 446.5 416.0 454.3 414.0 460.0 C412.0 465.7 412.0 473.5 410.0 476.0 C408.0 478.5 404.3 476.7 402.0 475.0 C399.7 473.3 398.5 470.2 396.0 466.0 C393.5 461.8 389.3 455.7 387.0 450.0 C384.7 444.3 381.5 437.0 382.0 432.0 C382.5 427.0 382.0 428.7 390.0 420.0Z M580.0 360.0 C588.7 361.7 609.0 372.0 620.0 380.0 C631.0 388.0 642.3 401.7 646.0 408.0 C649.7 414.3 643.3 415.0 642.0 418.0 C640.7 421.0 639.7 423.0 638.0 426.0 C636.3 429.0 634.3 433.8 632.0 436.0 C629.7 438.2 627.3 439.3 624.0 439.0 C620.7 438.7 616.0 435.7 612.0 434.0 C608.0 432.3 604.0 431.3 600.0 429.0 C596.0 426.7 591.3 424.2 588.0 420.0 C584.7 415.8 583.0 409.7 580.0 404.0 C577.0 398.3 572.0 391.7 570.0 386.0 C568.0 380.3 566.3 374.3 568.0 370.0 C569.7 365.7 571.3 358.3 580.0 360.0Z M690.0 424.0 C694.0 425.7 688.7 431.7 688.0 434.0 C687.3 436.3 687.3 436.8 686.0 438.0 C684.7 439.2 682.7 441.0 680.0 441.0 C677.3 441.0 672.7 439.5 670.0 438.0 C667.3 436.5 665.0 434.3 664.0 432.0 C663.0 429.7 659.7 425.3 664.0 424.0 C668.3 422.7 686.0 422.3 690.0 424.0Z M733.3 501.7 C734.1 499.7 734.4 496.4 735.6 494.3 C736.7 492.2 738.2 489.9 740.1 489.2 C742.0 488.6 745.0 489.2 746.9 490.3 C748.8 491.5 750.3 493.7 751.4 496.0 C752.5 498.3 753.7 501.3 753.7 503.9 C753.7 506.6 752.3 509.6 751.4 511.8 C750.4 514.1 748.8 515.6 748.0 517.5 C747.2 519.4 747.8 522.8 746.9 523.1 C745.9 523.5 744.0 520.7 742.3 519.7 C740.7 518.8 738.4 518.6 736.7 517.5 C735.0 516.3 733.1 514.8 732.2 513.0 C731.2 511.1 730.9 508.1 731.0 506.2 C731.2 504.3 732.6 503.6 733.3 501.7Z M839.1 883.0 C850.0 861.3 893.5 861.3 904.3 883.0 C915.2 904.8 915.2 991.7 904.3 1013.5 C893.5 1035.2 850.0 1035.2 839.1 1013.5 C828.3 991.7 828.3 904.8 839.1 883.0Z" fill="#cce8b0"/>
<path d="M888.7 944.3 C889.6 942.6 893.9 939.7 896.5 939.1 C899.1 938.6 903.0 938.5 904.3 941.1 C905.7 943.7 905.4 952.5 904.3 954.8 C903.3 957.1 899.6 955.0 897.8 954.8 C896.1 954.6 895.0 954.3 893.9 953.5 C892.8 952.6 892.2 951.1 891.3 949.6 C890.4 948.0 887.8 946.1 888.7 944.3Z M880.2 927.4 C880.2 926.6 881.0 925.3 882.2 924.8 C883.4 924.2 886.2 923.8 887.4 924.1 C888.6 924.5 889.5 925.9 889.3 926.7 C889.2 927.6 887.9 928.9 886.7 929.3 C885.5 929.8 883.3 929.7 882.2 929.3 C881.1 929.0 880.2 928.2 880.2 927.4Z" fill="none" stroke="#1c1c1c" stroke-width="1.5"/>
<path d="M888.7 944.3 C889.6 942.6 893.9 939.7 896.5 939.1 C899.1 938.6 903.0 938.5 904.3 941.1 C905.7 943.7 905.4 952.5 904.3 954.8 C903.3 957.1 899.6 955.0 897.8 954.8 C896.1 954.6 895.0 954.3 893.9 953.5 C892.8 952.6 892.2 951.1 891.3 949.6 C890.4 948.0 887.8 946.1 888.7 944.3Z M880.2 927.4 C880.2 926.6 881.0 925.3 882.2 924.8 C883.4 924.2 886.2 923.8 887.4 924.1 C888.6 924.5 889.5 925.9 889.3 926.7 C889.2 927.6 887.9 928.9 886.7 929.3 C885.5 929.8 883.3 929.7 882.2 929.3 C881.1 929.0 880.2 928.2 880.2 927.4Z" fill="#e4f0a8"/>
<path d="M419.0 836.0 C421.2 832.3 425.5 830.0 430.0 828.0 C434.5 826.0 440.7 825.2 446.0 824.0 C451.3 822.8 457.3 821.2 462.0 821.0 C466.7 820.8 470.0 822.8 474.0 823.0 C478.0 823.2 482.7 821.7 486.0 822.0 C489.3 822.3 492.5 823.0 494.0 825.0 C495.5 827.0 495.5 830.8 495.0 834.0 C494.5 837.2 491.7 840.0 491.0 844.0 C490.3 848.0 491.5 854.0 491.0 858.0 C490.5 862.0 488.8 865.3 488.0 868.0 C487.2 870.7 485.0 872.2 486.0 874.0 C487.0 875.8 491.0 877.3 494.0 879.0 C497.0 880.7 500.7 883.8 504.0 884.0 C507.3 884.2 510.0 881.7 514.0 880.0 C518.0 878.3 524.0 875.5 528.0 874.0 C532.0 872.5 534.3 872.3 538.0 871.0 C541.7 869.7 544.7 868.0 550.0 866.0 C555.3 864.0 563.3 861.0 570.0 859.0 C576.7 857.0 583.3 856.2 590.0 854.0 C596.7 851.8 606.7 835.0 610.0 846.0 C613.3 857.0 620.0 901.0 610.0 920.0 C600.0 939.0 565.0 960.0 550.0 960.0 C535.0 960.0 526.7 927.0 520.0 920.0 C513.3 913.0 513.7 919.3 510.0 918.0 C506.3 916.7 501.3 914.3 498.0 912.0 C494.7 909.7 493.3 906.3 490.0 904.0 C486.7 901.7 482.0 899.3 478.0 898.0 C474.0 896.7 470.7 896.5 466.0 896.0 C461.3 895.5 454.7 895.7 450.0 895.0 C445.3 894.3 441.7 893.5 438.0 892.0 C434.3 890.5 431.0 888.3 428.0 886.0 C425.0 883.7 421.7 881.3 420.0 878.0 C418.3 874.7 418.5 870.7 418.0 866.0 C417.5 861.3 416.8 855.0 417.0 850.0 C417.2 845.0 416.8 839.7 419.0 836.0Z M604.0 826.0 C608.0 821.8 609.0 822.2 612.0 821.0 C615.0 819.8 618.5 818.7 622.0 819.0 C625.5 819.3 630.3 824.5 633.0 823.0 C635.7 821.5 637.0 814.2 638.0 810.0 C639.0 805.8 638.2 801.7 639.0 798.0 C639.8 794.3 642.8 791.0 643.0 788.0 C643.2 785.0 639.5 782.3 640.0 780.0 C640.5 777.7 644.0 774.0 646.0 774.0 C648.0 774.0 650.7 777.0 652.0 780.0 C653.3 783.0 652.7 788.3 654.0 792.0 C655.3 795.7 659.3 799.0 660.0 802.0 C660.7 805.0 659.2 807.0 658.0 810.0 C656.8 813.0 653.3 816.7 653.0 820.0 C652.7 823.3 654.2 827.5 656.0 830.0 C657.8 832.5 660.7 834.3 664.0 835.0 C667.3 835.7 672.7 835.2 676.0 834.0 C679.3 832.8 681.7 828.2 684.0 828.0 C686.3 827.8 687.3 832.7 690.0 833.0 C692.7 833.3 696.3 829.2 700.0 830.0 C703.7 830.8 708.7 835.0 712.0 838.0 C715.3 841.0 717.3 845.0 720.0 848.0 C722.7 851.0 726.0 854.0 728.0 856.0 C730.0 858.0 730.0 858.7 732.0 860.0 C734.0 861.3 737.3 864.0 740.0 864.0 C742.7 864.0 744.7 860.0 748.0 860.0 C751.3 860.0 758.0 854.0 760.0 864.0 C762.0 874.0 786.7 910.7 760.0 920.0 C733.3 929.3 630.0 930.0 600.0 920.0 C570.0 910.0 582.0 872.3 580.0 860.0 C578.0 847.7 584.0 851.7 588.0 846.0 C592.0 840.3 600.0 830.2 604.0 826.0Z M614.0 694.0 C616.5 691.3 616.3 684.2 619.0 682.0 C621.7 679.8 627.0 679.7 630.0 681.0 C633.0 682.3 635.5 685.8 637.0 690.0 C638.5 694.2 639.0 701.0 639.0 706.0 C639.0 711.0 639.2 716.3 637.0 720.0 C634.8 723.7 630.2 726.0 626.0 728.0 C621.8 730.0 616.3 730.3 612.0 732.0 C607.7 733.7 603.3 738.3 600.0 738.0 C596.7 737.7 594.0 733.3 592.0 730.0 C590.0 726.7 587.7 722.0 588.0 718.0 C588.3 714.0 591.3 709.3 594.0 706.0 C596.7 702.7 600.7 700.0 604.0 698.0 C607.3 696.0 611.5 696.7 614.0 694.0Z M544.0 670.0 C546.7 667.0 547.7 663.8 550.0 662.0 C552.3 660.2 555.7 658.3 558.0 659.0 C560.3 659.7 562.8 662.5 564.0 666.0 C565.2 669.5 564.8 675.0 565.0 680.0 C565.2 685.0 564.5 691.0 565.0 696.0 C565.5 701.0 568.2 705.7 568.0 710.0 C567.8 714.3 566.0 719.2 564.0 722.0 C562.0 724.8 558.7 726.7 556.0 727.0 C553.3 727.3 550.3 725.8 548.0 724.0 C545.7 722.2 543.3 719.7 542.0 716.0 C540.7 712.3 540.7 706.3 540.0 702.0 C539.3 697.7 539.0 693.7 538.0 690.0 C537.0 686.3 533.0 683.3 534.0 680.0 C535.0 676.7 541.3 673.0 544.0 670.0Z M551.0 742.0 C551.5 739.7 553.8 737.2 556.0 736.0 C558.2 734.8 561.7 733.5 564.0 735.0 C566.3 736.5 569.3 742.2 570.0 745.0 C570.7 747.8 569.7 750.3 568.0 752.0 C566.3 753.7 562.5 755.3 560.0 755.0 C557.5 754.7 554.5 752.2 553.0 750.0 C551.5 747.8 550.5 744.3 551.0 742.0Z M587.0 576.0 C587.0 574.5 589.8 572.5 592.0 572.0 C594.2 571.5 597.0 572.0 600.0 573.0 C603.0 574.0 606.8 575.8 610.0 578.0 C613.2 580.2 617.7 584.0 619.0 586.0 C620.3 588.0 619.5 590.0 618.0 590.0 C616.5 590.0 613.0 587.3 610.0 586.0 C607.0 584.7 603.0 582.8 600.0 582.0 C597.0 581.2 594.2 582.0 592.0 581.0 C589.8 580.0 587.0 577.5 587.0 576.0Z M447.0 780.0 C446.0 778.2 448.2 775.2 450.0 774.0 C451.8 772.8 455.7 772.0 458.0 773.0 C460.3 774.0 464.3 778.0 464.0 780.0 C463.7 782.0 458.8 785.0 456.0 785.0 C453.2 785.0 448.0 781.8 447.0 780.0Z" fill="none" stroke="#1c1c1c" stroke-width="1.5"/>
<path d="M419.0 836.0 C421.2 832.3 425.5 830.0 430.0 828.0 C434.5 826.0 440.7 825.2 446.0 824.0 C451.3 822.8 457.3 821.2 462.0 821.0 C466.7 820.8 470.0 822.8 474.0 823.0 C478.0 823.2 482.7 821.7 486.0 822.0 C489.3 822.3 492.5 823.0 494.0 825.0 C495.5 827.0 495.5 830.8 495.0 834.0 C494.5 837.2 491.7 840.0 491.0 844.0 C490.3 848.0 491.5 854.0 491.0 858.0 C490.5 862.0 488.8 865.3 488.0 868.0 C487.2 870.7 485.0 872.2 486.0 874.0 C487.0 875.8 491.0 877.3 494.0 879.0 C497.0 880.7 500.7 883.8 504.0 884.0 C507.3 884.2 510.0 881.7 514.0 880.0 C518.0 878.3 524.0 875.5 528.0 874.0 C532.0 872.5 534.3 872.3 538.0 871.0 C541.7 869.7 544.7 868.0 550.0 866.0 C555.3 864.0 563.3 861.0 570.0 859.0 C576.7 857.0 583.3 856.2 590.0 854.0 C596.7 851.8 606.7 835.0 610.0 846.0 C613.3 857.0 620.0 901.0 610.0 920.0 C600.0 939.0 565.0 960.0 550.0 960.0 C535.0 960.0 526.7 927.0 520.0 920.0 C513.3 913.0 513.7 919.3 510.0 918.0 C506.3 916.7 501.3 914.3 498.0 912.0 C494.7 909.7 493.3 906.3 490.0 904.0 C486.7 901.7 482.0 899.3 478.0 898.0 C474.0 896.7 470.7 896.5 466.0 896.0 C461.3 895.5 454.7 895.7 450.0 895.0 C445.3 894.3 441.7 893.5 438.0 892.0 C434.3 890.5 431.0 888.3 428.0 886.0 C425.0 883.7 421.7 881.3 420.0 878.0 C418.3 874.7 418.5 870.7 418.0 866.0 C417.5 861.3 416.8 855.0 417.0 850.0 C417.2 845.0 416.8 839.7 419.0 836.0Z M604.0 826.0 C608.0 821.8 609.0 822.2 612.0 821.0 C615.0 819.8 618.5 818.7 622.0 819.0 C625.5 819.3 630.3 824.5 633.0 823.0 C635.7 821.5 637.0 814.2 638.0 810.0 C639.0 805.8 638.2 801.7 639.0 798.0 C639.8 794.3 642.8 791.0 643.0 788.0 C643.2 785.0 639.5 782.3 640.0 780.0 C640.5 777.7 644.0 774.0 646.0 774.0 C648.0 774.0 650.7 777.0 652.0 780.0 C653.3 783.0 652.7 788.3 654.0 792.0 C655.3 795.7 659.3 799.0 660.0 802.0 C660.7 805.0 659.2 807.0 658.0 810.0 C656.8 813.0 653.3 816.7 653.0 820.0 C652.7 823.3 654.2 827.5 656.0 830.0 C657.8 832.5 660.7 834.3 664.0 835.0 C667.3 835.7 672.7 835.2 676.0 834.0 C679.3 832.8 681.7 828.2 684.0 828.0 C686.3 827.8 687.3 832.7 690.0 833.0 C692.7 833.3 696.3 829.2 700.0 830.0 C703.7 830.8 708.7 835.0 712.0 838.0 C715.3 841.0 717.3 845.0 720.0 848.0 C722.7 851.0 726.0 854.0 728.0 856.0 C730.0 858.0 730.0 858.7 732.0 860.0 C734.0 861.3 737.3 864.0 740.0 864.0 C742.7 864.0 744.7 860.0 748.0 860.0 C751.3 860.0 758.0 854.0 760.0 864.0 C762.0 874.0 786.7 910.7 760.0 920.0 C733.3 929.3 630.0 930.0 600.0 920.0 C570.0 910.0 582.0 872.3 580.0 860.0 C578.0 847.7 584.0 851.7 588.0 846.0 C592.0 840.3 600.0 830.2 604.0 826.0Z M614.0 694.0 C616.5 691.3 616.3 684.2 619.0 682.0 C621.7 679.8 627.0 679.7 630.0 681.0 C633.0 682.3 635.5 685.8 637.0 690.0 C638.5 694.2 639.0 701.0 639.0 706.0 C639.0 711.0 639.2 716.3 637.0 720.0 C634.8 723.7 630.2 726.0 626.0 728.0 C621.8 730.0 616.3 730.3 612.0 732.0 C607.7 733.7 603.3 738.3 600.0 738.0 C596.7 737.7 594.0 733.3 592.0 730.0 C590.0 726.7 587.7 722.0 588.0 718.0 C588.3 714.0 591.3 709.3 594.0 706.0 C596.7 702.7 600.7 700.0 604.0 698.0 C607.3 696.0 611.5 696.7 614.0 694.0Z M544.0 670.0 C546.7 667.0 547.7 663.8 550.0 662.0 C552.3 660.2 555.7 658.3 558.0 659.0 C560.3 659.7 562.8 662.5 564.0 666.0 C565.2 669.5 564.8 675.0 565.0 680.0 C565.2 685.0 564.5 691.0 565.0 696.0 C565.5 701.0 568.2 705.7 568.0 710.0 C567.8 714.3 566.0 719.2 564.0 722.0 C562.0 724.8 558.7 726.7 556.0 727.0 C553.3 727.3 550.3 725.8 548.0 724.0 C545.7 722.2 543.3 719.7 542.0 716.0 C540.7 712.3 540.7 706.3 540.0 702.0 C539.3 697.7 539.0 693.7 538.0 690.0 C537.0 686.3 533.0 683.3 534.0 680.0 C535.0 676.7 541.3 673.0 544.0 670.0Z M551.0 742.0 C551.5 739.7 553.8 737.2 556.0 736.0 C558.2 734.8 561.7 733.5 564.0 735.0 C566.3 736.5 569.3 742.2 570.0 745.0 C570.7 747.8 569.7 750.3 568.0 752.0 C566.3 753.7 562.5 755.3 560.0 755.0 C557.5 754.7 554.5 752.2 553.0 750.0 C551.5 747.8 550.5 744.3 551.0 742.0Z M587.0 576.0 C587.0 574.5 589.8 572.5 592.0 572.0 C594.2 571.5 597.0 572.0 600.0 573.0 C603.0 574.0 606.8 575.8 610.0 578.0 C613.2 580.2 617.7 584.0 619.0 586.0 C620.3 588.0 619.5 590.0 618.0 590.0 C616.5 590.0 613.0 587.3 610.0 586.0 C607.0 584.7 603.0 582.8 600.0 582.0 C597.0 581.2 594.2 582.0 592.0 581.0 C589.8 580.0 587.0 577.5 587.0 576.0Z M447.0 780.0 C446.0 778.2 448.2 775.2 450.0 774.0 C451.8 772.8 455.7 772.0 458.0 773.0 C460.3 774.0 464.3 778.0 464.0 780.0 C463.7 782.0 458.8 785.0 456.0 785.0 C453.2 785.0 448.0 781.8 447.0 780.0Z" fill="#d8ecac"/>
<path d="M656.0 848.0 C657.2 846.8 659.8 846.7 662.0 847.0 C664.2 847.3 668.3 848.5 669.0 850.0 C669.7 851.5 667.5 854.7 666.0 856.0 C664.5 857.3 661.7 857.0 660.0 858.0 C658.3 859.0 656.8 862.7 656.0 862.0 C655.2 861.3 655.0 856.3 655.0 854.0 C655.0 851.7 654.8 849.2 656.0 848.0Z" fill="none" stroke="#1c1c1c" stroke-width="1.5"/>
<path d="M656.0 848.0 C657.2 846.8 659.8 846.7 662.0 847.0 C664.2 847.3 668.3 848.5 669.0 850.0 C669.7 851.5 667.5 854.7 666.0 856.0 C664.5 857.3 661.7 857.0 660.0 858.0 C658.3 859.0 656.8 862.7 656.0 862.0 C655.2 861.3 655.0 856.3 655.0 854.0 C655.0 851.7 654.8 849.2 656.0 848.0Z" fill="#cce8b0"/>
<path d="M596.0 846.0 C598.3 839.2 606.3 842.5 610.0 843.0 C613.7 843.5 615.3 846.2 618.0 849.0 C620.7 851.8 623.7 856.7 626.0 860.0 C628.3 863.3 630.0 867.3 632.0 869.0 C634.0 870.7 636.3 870.7 638.0 870.0 C639.7 869.3 640.0 865.7 642.0 865.0 C644.0 864.3 648.7 862.8 650.0 866.0 C651.3 869.2 659.0 881.0 650.0 884.0 C641.0 887.0 605.0 890.3 596.0 884.0 C587.0 877.7 593.7 852.8 596.0 846.0Z" fill="none" stroke="#1c1c1c" stroke-width="1.5"/>
<path d="M596.0 846.0 C598.3 839.2 606.3 842.5 610.0 843.0 C613.7 843.5 615.3 846.2 618.0 849.0 C620.7 851.8 623.7 856.7 626.0 860.0 C628.3 863.3 630.0 867.3 632.0 869.0 C634.0 870.7 636.3 870.7 638.0 870.0 C639.7 869.3 640.0 865.7 642.0 865.0 C644.0 864.3 648.7 862.8 650.0 866.0 C651.3 869.2 659.0 881.0 650.0 884.0 C641.0 887.0 605.0 890.3 596.0 884.0 C587.0 877.7 593.7 852.8 596.0 846.0Z" fill="#e4f0a8"/>
<path d="M423.0 463.0 C424.7 460.3 430.5 458.2 436.0 456.0 C441.5 453.8 449.7 451.2 456.0 450.0 C462.3 448.8 468.3 449.8 474.0 449.0 C479.7 448.2 486.0 447.3 490.0 445.0 C494.0 442.7 495.0 436.5 498.0 435.0 C501.0 433.5 506.0 434.8 508.0 436.0 C510.0 437.2 511.0 440.3 510.0 442.0 C509.0 443.7 505.0 445.2 502.0 446.0 C499.0 446.8 494.2 445.0 492.0 447.0 C489.8 449.0 488.7 454.8 489.0 458.0 C489.3 461.2 490.5 463.8 494.0 466.0 C497.5 468.2 506.0 469.0 510.0 471.0 C514.0 473.0 516.0 474.8 518.0 478.0 C520.0 481.2 520.8 486.3 522.0 490.0 C523.2 493.7 525.3 495.7 525.0 500.0 C524.7 504.3 521.0 512.3 520.0 516.0 C519.0 519.7 517.7 518.3 519.0 522.0 C520.3 525.7 525.2 533.3 528.0 538.0 C530.8 542.7 535.7 547.5 536.0 550.0 C536.3 552.5 532.0 553.0 530.0 553.0 C528.0 553.0 526.2 550.8 524.0 550.0 C521.8 549.2 519.3 548.0 517.0 548.0 C514.7 548.0 513.8 548.7 510.0 550.0 C506.2 551.3 498.0 553.7 494.0 556.0 C490.0 558.3 487.7 560.3 486.0 564.0 C484.3 567.7 485.3 575.0 484.0 578.0 C482.7 581.0 480.3 582.3 478.0 582.0 C475.7 581.7 472.7 576.8 470.0 576.0 C467.3 575.2 465.3 576.3 462.0 577.0 C458.7 577.7 454.0 579.2 450.0 580.0 C446.0 580.8 441.0 581.2 438.0 582.0 C435.0 582.8 433.7 585.3 432.0 585.0 C430.3 584.7 431.7 582.5 428.0 580.0 C424.3 577.5 415.2 572.7 410.0 570.0 C404.8 567.3 399.7 567.3 397.0 564.0 C394.3 560.7 393.8 555.7 394.0 550.0 C394.2 544.3 397.3 536.3 398.0 530.0 C398.7 523.7 397.3 515.5 398.0 512.0 C398.7 508.5 400.8 508.2 402.0 509.0 C403.2 509.8 402.3 515.0 405.0 517.0 C407.7 519.0 413.7 520.8 418.0 521.0 C422.3 521.2 428.0 520.0 431.0 518.0 C434.0 516.0 435.2 511.7 436.0 509.0 C436.8 506.3 437.3 504.2 436.0 502.0 C434.7 499.8 430.3 498.7 428.0 496.0 C425.7 493.3 422.3 490.0 422.0 486.0 C421.7 482.0 425.8 475.8 426.0 472.0 C426.2 468.2 421.3 465.7 423.0 463.0Z M389.0 615.0 C390.0 613.2 394.5 610.8 398.0 611.0 C401.5 611.2 406.7 614.3 410.0 616.0 C413.3 617.7 413.5 619.5 418.0 621.0 C422.5 622.5 434.3 623.2 437.0 625.0 C439.7 626.8 436.8 629.5 434.0 632.0 C431.2 634.5 423.7 637.3 420.0 640.0 C416.3 642.7 414.3 646.7 412.0 648.0 C409.7 649.3 408.7 651.0 406.0 648.0 C403.3 645.0 398.3 634.3 396.0 630.0 C393.7 625.7 393.2 624.5 392.0 622.0 C390.8 619.5 388.0 616.8 389.0 615.0Z M548.0 702.0 C549.0 699.2 552.0 697.3 554.0 697.0 C556.0 696.7 558.8 697.8 560.0 700.0 C561.2 702.2 561.3 707.0 561.0 710.0 C560.7 713.0 559.5 716.3 558.0 718.0 C556.5 719.7 553.7 720.7 552.0 720.0 C550.3 719.3 548.7 717.0 548.0 714.0 C547.3 711.0 547.0 704.8 548.0 702.0Z M594.0 448.0 C595.0 445.3 597.7 445.7 600.0 444.0 C602.3 442.3 605.8 438.7 608.0 438.0 C610.2 437.3 612.7 438.3 613.0 440.0 C613.3 441.7 612.2 445.2 610.0 448.0 C607.8 450.8 602.7 455.0 600.0 457.0 C597.3 459.0 595.0 461.5 594.0 460.0 C593.0 458.5 593.0 450.7 594.0 448.0Z M688.0 468.0 C689.2 465.8 693.0 462.8 696.0 462.0 C699.0 461.2 702.7 462.0 706.0 463.0 C709.3 464.0 713.0 465.2 716.0 468.0 C719.0 470.8 722.7 476.7 724.0 480.0 C725.3 483.3 725.0 485.8 724.0 488.0 C723.0 490.2 720.3 492.3 718.0 493.0 C715.7 493.7 712.3 493.5 710.0 492.0 C707.7 490.5 706.7 486.0 704.0 484.0 C701.3 482.0 696.5 481.5 694.0 480.0 C691.5 478.5 690.0 477.0 689.0 475.0 C688.0 473.0 686.8 470.2 688.0 468.0Z M800.0 458.0 C804.2 476.7 803.3 550.7 800.0 570.0 C796.7 589.3 785.3 573.7 780.0 574.0 C774.7 574.3 771.3 573.0 768.0 572.0 C764.7 571.0 762.0 570.0 760.0 568.0 C758.0 566.0 757.3 563.0 756.0 560.0 C754.7 557.0 753.3 553.3 752.0 550.0 C750.7 546.7 748.3 543.7 748.0 540.0 C747.7 536.3 749.0 531.7 750.0 528.0 C751.0 524.3 752.7 522.0 754.0 518.0 C755.3 514.0 757.7 508.7 758.0 504.0 C758.3 499.3 757.0 494.0 756.0 490.0 C755.0 486.0 751.3 483.3 752.0 480.0 C752.7 476.7 756.7 472.3 760.0 470.0 C763.3 467.7 769.5 468.0 772.0 466.0 C774.5 464.0 770.3 459.3 775.0 458.0 C779.7 456.7 795.8 439.3 800.0 458.0Z M530.0 880.0 C536.7 878.0 543.3 876.0 550.0 874.0 C556.7 872.0 563.3 869.7 570.0 868.0 C576.7 866.3 585.0 864.0 590.0 864.0 C595.0 864.0 597.0 867.0 600.0 868.0 C603.0 869.0 604.7 869.0 608.0 870.0 C611.3 871.0 616.0 874.2 620.0 874.0 C624.0 873.8 627.0 868.0 632.0 869.0 C637.0 870.0 650.3 871.5 650.0 880.0 C649.7 888.5 645.0 909.3 630.0 920.0 C615.0 930.7 573.3 940.7 560.0 944.0 C546.7 947.3 554.3 940.7 550.0 940.0 C545.7 939.3 538.7 940.3 534.0 940.0 C529.3 939.7 525.3 940.0 522.0 938.0 C518.7 936.0 516.0 931.3 514.0 928.0 C512.0 924.7 509.0 919.7 510.0 918.0 C511.0 916.3 518.0 919.7 520.0 918.0 C522.0 916.3 521.3 911.0 522.0 908.0 C522.7 905.0 526.0 903.7 524.0 900.0 C522.0 896.3 509.0 889.3 510.0 886.0 C511.0 882.7 523.3 882.0 530.0 880.0Z M669.0 860.0 C670.3 856.3 673.8 851.7 676.0 848.0 C678.2 844.3 679.7 840.5 682.0 838.0 C684.3 835.5 687.3 833.2 690.0 833.0 C692.7 832.8 695.0 835.8 698.0 837.0 C701.0 838.2 705.0 838.2 708.0 840.0 C711.0 841.8 714.3 845.3 716.0 848.0 C717.7 850.7 716.0 853.7 718.0 856.0 C720.0 858.3 726.0 860.0 728.0 862.0 C730.0 864.0 730.7 866.7 730.0 868.0 C729.3 869.3 727.0 869.8 724.0 870.0 C721.0 870.2 716.0 868.8 712.0 869.0 C708.0 869.2 703.7 870.2 700.0 871.0 C696.3 871.8 692.3 872.5 690.0 874.0 C687.7 875.5 686.3 877.7 686.0 880.0 C685.7 882.3 686.3 886.0 688.0 888.0 C689.7 890.0 692.7 891.0 696.0 892.0 C699.3 893.0 704.0 894.2 708.0 894.0 C712.0 893.8 716.3 891.8 720.0 891.0 C723.7 890.2 726.7 889.3 730.0 889.0 C733.3 888.7 738.3 885.5 740.0 889.0 C741.7 892.5 750.7 908.2 740.0 910.0 C729.3 911.8 687.0 904.3 676.0 900.0 C665.0 895.7 675.0 887.7 674.0 884.0 C673.0 880.3 671.0 880.3 670.0 878.0 C669.0 875.7 668.2 873.0 668.0 870.0 C667.8 867.0 667.7 863.7 669.0 860.0Z M640.0 839.0 C640.7 837.0 643.7 834.7 646.0 834.0 C648.3 833.3 652.3 833.8 654.0 835.0 C655.7 836.2 656.7 839.2 656.0 841.0 C655.3 842.8 652.3 845.2 650.0 846.0 C647.7 846.8 643.7 847.2 642.0 846.0 C640.3 844.8 639.3 841.0 640.0 839.0Z M698.0 806.0 C698.8 804.3 702.3 803.3 704.0 804.0 C705.7 804.7 707.2 807.7 708.0 810.0 C708.8 812.3 709.0 816.0 709.0 818.0 C709.0 820.0 708.8 820.3 708.0 822.0 C707.2 823.7 705.7 827.0 704.0 828.0 C702.3 829.0 699.3 829.0 698.0 828.0 C696.7 827.0 695.8 824.3 696.0 822.0 C696.2 819.7 698.7 816.7 699.0 814.0 C699.3 811.3 697.2 807.7 698.0 806.0Z M447.0 868.0 C447.0 865.0 448.2 861.8 450.0 860.0 C451.8 858.2 455.7 857.0 458.0 857.0 C460.3 857.0 462.7 858.2 464.0 860.0 C465.3 861.8 467.0 865.3 466.0 868.0 C465.0 870.7 460.7 874.3 458.0 876.0 C455.3 877.7 451.8 879.3 450.0 878.0 C448.2 876.7 447.0 871.0 447.0 868.0Z M697.9 808.3 C698.7 806.9 700.7 804.3 702.1 804.1 C703.5 803.9 705.4 805.0 706.3 806.9 C707.1 808.7 706.5 812.7 707.0 815.2 C707.4 817.8 709.2 820.1 709.0 822.2 C708.9 824.3 707.7 826.6 706.3 827.7 C704.9 828.9 702.3 829.6 700.7 829.1 C699.1 828.7 696.8 826.8 696.5 825.0 C696.3 823.1 699.2 820.1 699.3 818.0 C699.4 815.9 697.4 814.1 697.2 812.4 C697.0 810.8 697.1 809.7 697.9 808.3Z" fill="none" stroke="#1c1c1c" stroke-width="1.5"/>
<path d="M423.0 463.0 C424.7 460.3 430.5 458.2 436.0 456.0 C441.5 453.8 449.7 451.2 456.0 450.0 C462.3 448.8 468.3 449.8 474.0 449.0 C479.7 448.2 486.0 447.3 490.0 445.0 C494.0 442.7 495.0 436.5 498.0 435.0 C501.0 433.5 506.0 434.8 508.0 436.0 C510.0 437.2 511.0 440.3 510.0 442.0 C509.0 443.7 505.0 445.2 502.0 446.0 C499.0 446.8 494.2 445.0 492.0 447.0 C489.8 449.0 488.7 454.8 489.0 458.0 C489.3 461.2 490.5 463.8 494.0 466.0 C497.5 468.2 506.0 469.0 510.0 471.0 C514.0 473.0 516.0 474.8 518.0 478.0 C520.0 481.2 520.8 486.3 522.0 490.0 C523.2 493.7 525.3 495.7 525.0 500.0 C524.7 504.3 521.0 512.3 520.0 516.0 C519.0 519.7 517.7 518.3 519.0 522.0 C520.3 525.7 525.2 533.3 528.0 538.0 C530.8 542.7 535.7 547.5 536.0 550.0 C536.3 552.5 532.0 553.0 530.0 553.0 C528.0 553.0 526.2 550.8 524.0 550.0 C521.8 549.2 519.3 548.0 517.0 548.0 C514.7 548.0 513.8 548.7 510.0 550.0 C506.2 551.3 498.0 553.7 494.0 556.0 C490.0 558.3 487.7 560.3 486.0 564.0 C484.3 567.7 485.3 575.0 484.0 578.0 C482.7 581.0 480.3 582.3 478.0 582.0 C475.7 581.7 472.7 576.8 470.0 576.0 C467.3 575.2 465.3 576.3 462.0 577.0 C458.7 577.7 454.0 579.2 450.0 580.0 C446.0 580.8 441.0 581.2 438.0 582.0 C435.0 582.8 433.7 585.3 432.0 585.0 C430.3 584.7 431.7 582.5 428.0 580.0 C424.3 577.5 415.2 572.7 410.0 570.0 C404.8 567.3 399.7 567.3 397.0 564.0 C394.3 560.7 393.8 555.7 394.0 550.0 C394.2 544.3 397.3 536.3 398.0 530.0 C398.7 523.7 397.3 515.5 398.0 512.0 C398.7 508.5 400.8 508.2 402.0 509.0 C403.2 509.8 402.3 515.0 405.0 517.0 C407.7 519.0 413.7 520.8 418.0 521.0 C422.3 521.2 428.0 520.0 431.0 518.0 C434.0 516.0 435.2 511.7 436.0 509.0 C436.8 506.3 437.3 504.2 436.0 502.0 C434.7 499.8 430.3 498.7 428.0 496.0 C425.7 493.3 422.3 490.0 422.0 486.0 C421.7 482.0 425.8 475.8 426.0 472.0 C426.2 468.2 421.3 465.7 423.0 463.0Z M389.0 615.0 C390.0 613.2 394.5 610.8 398.0 611.0 C401.5 611.2 406.7 614.3 410.0 616.0 C413.3 617.7 413.5 619.5 418.0 621.0 C422.5 622.5 434.3 623.2 437.0 625.0 C439.7 626.8 436.8 629.5 434.0 632.0 C431.2 634.5 423.7 637.3 420.0 640.0 C416.3 642.7 414.3 646.7 412.0 648.0 C409.7 649.3 408.7 651.0 406.0 648.0 C403.3 645.0 398.3 634.3 396.0 630.0 C393.7 625.7 393.2 624.5 392.0 622.0 C390.8 619.5 388.0 616.8 389.0 615.0Z M548.0 702.0 C549.0 699.2 552.0 697.3 554.0 697.0 C556.0 696.7 558.8 697.8 560.0 700.0 C561.2 702.2 561.3 707.0 561.0 710.0 C560.7 713.0 559.5 716.3 558.0 718.0 C556.5 719.7 553.7 720.7 552.0 720.0 C550.3 719.3 548.7 717.0 548.0 714.0 C547.3 711.0 547.0 704.8 548.0 702.0Z M594.0 448.0 C595.0 445.3 597.7 445.7 600.0 444.0 C602.3 442.3 605.8 438.7 608.0 438.0 C610.2 437.3 612.7 438.3 613.0 440.0 C613.3 441.7 612.2 445.2 610.0 448.0 C607.8 450.8 602.7 455.0 600.0 457.0 C597.3 459.0 595.0 461.5 594.0 460.0 C593.0 458.5 593.0 450.7 594.0 448.0Z M688.0 468.0 C689.2 465.8 693.0 462.8 696.0 462.0 C699.0 461.2 702.7 462.0 706.0 463.0 C709.3 464.0 713.0 465.2 716.0 468.0 C719.0 470.8 722.7 476.7 724.0 480.0 C725.3 483.3 725.0 485.8 724.0 488.0 C723.0 490.2 720.3 492.3 718.0 493.0 C715.7 493.7 712.3 493.5 710.0 492.0 C707.7 490.5 706.7 486.0 704.0 484.0 C701.3 482.0 696.5 481.5 694.0 480.0 C691.5 478.5 690.0 477.0 689.0 475.0 C688.0 473.0 686.8 470.2 688.0 468.0Z M800.0 458.0 C804.2 476.7 803.3 550.7 800.0 570.0 C796.7 589.3 785.3 573.7 780.0 574.0 C774.7 574.3 771.3 573.0 768.0 572.0 C764.7 571.0 762.0 570.0 760.0 568.0 C758.0 566.0 757.3 563.0 756.0 560.0 C754.7 557.0 753.3 553.3 752.0 550.0 C750.7 546.7 748.3 543.7 748.0 540.0 C747.7 536.3 749.0 531.7 750.0 528.0 C751.0 524.3 752.7 522.0 754.0 518.0 C755.3 514.0 757.7 508.7 758.0 504.0 C758.3 499.3 757.0 494.0 756.0 490.0 C755.0 486.0 751.3 483.3 752.0 480.0 C752.7 476.7 756.7 472.3 760.0 470.0 C763.3 467.7 769.5 468.0 772.0 466.0 C774.5 464.0 770.3 459.3 775.0 458.0 C779.7 456.7 795.8 439.3 800.0 458.0Z M530.0 880.0 C536.7 878.0 543.3 876.0 550.0 874.0 C556.7 872.0 563.3 869.7 570.0 868.0 C576.7 866.3 585.0 864.0 590.0 864.0 C595.0 864.0 597.0 867.0 600.0 868.0 C603.0 869.0 604.7 869.0 608.0 870.0 C611.3 871.0 616.0 874.2 620.0 874.0 C624.0 873.8 627.0 868.0 632.0 869.0 C637.0 870.0 650.3 871.5 650.0 880.0 C649.7 888.5 645.0 909.3 630.0 920.0 C615.0 930.7 573.3 940.7 560.0 944.0 C546.7 947.3 554.3 940.7 550.0 940.0 C545.7 939.3 538.7 940.3 534.0 940.0 C529.3 939.7 525.3 940.0 522.0 938.0 C518.7 936.0 516.0 931.3 514.0 928.0 C512.0 924.7 509.0 919.7 510.0 918.0 C511.0 916.3 518.0 919.7 520.0 918.0 C522.0 916.3 521.3 911.0 522.0 908.0 C522.7 905.0 526.0 903.7 524.0 900.0 C522.0 896.3 509.0 889.3 510.0 886.0 C511.0 882.7 523.3 882.0 530.0 880.0Z M669.0 860.0 C670.3 856.3 673.8 851.7 676.0 848.0 C678.2 844.3 679.7 840.5 682.0 838.0 C684.3 835.5 687.3 833.2 690.0 833.0 C692.7 832.8 695.0 835.8 698.0 837.0 C701.0 838.2 705.0 838.2 708.0 840.0 C711.0 841.8 714.3 845.3 716.0 848.0 C717.7 850.7 716.0 853.7 718.0 856.0 C720.0 858.3 726.0 860.0 728.0 862.0 C730.0 864.0 730.7 866.7 730.0 868.0 C729.3 869.3 727.0 869.8 724.0 870.0 C721.0 870.2 716.0 868.8 712.0 869.0 C708.0 869.2 703.7 870.2 700.0 871.0 C696.3 871.8 692.3 872.5 690.0 874.0 C687.7 875.5 686.3 877.7 686.0 880.0 C685.7 882.3 686.3 886.0 688.0 888.0 C689.7 890.0 692.7 891.0 696.0 892.0 C699.3 893.0 704.0 894.2 708.0 894.0 C712.0 893.8 716.3 891.8 720.0 891.0 C723.7 890.2 726.7 889.3 730.0 889.0 C733.3 888.7 738.3 885.5 740.0 889.0 C741.7 892.5 750.7 908.2 740.0 910.0 C729.3 911.8 687.0 904.3 676.0 900.0 C665.0 895.7 675.0 887.7 674.0 884.0 C673.0 880.3 671.0 880.3 670.0 878.0 C669.0 875.7 668.2 873.0 668.0 870.0 C667.8 867.0 667.7 863.7 669.0 860.0Z M640.0 839.0 C640.7 837.0 643.7 834.7 646.0 834.0 C648.3 833.3 652.3 833.8 654.0 835.0 C655.7 836.2 656.7 839.2 656.0 841.0 C655.3 842.8 652.3 845.2 650.0 846.0 C647.7 846.8 643.7 847.2 642.0 846.0 C640.3 844.8 639.3 841.0 640.0 839.0Z M698.0 806.0 C698.8 804.3 702.3 803.3 704.0 804.0 C705.7 804.7 707.2 807.7 708.0 810.0 C708.8 812.3 709.0 816.0 709.0 818.0 C709.0 820.0 708.8 820.3 708.0 822.0 C707.2 823.7 705.7 827.0 704.0 828.0 C702.3 829.0 699.3 829.0 698.0 828.0 C696.7 827.0 695.8 824.3 696.0 822.0 C696.2 819.7 698.7 816.7 699.0 814.0 C699.3 811.3 697.2 807.7 698.0 806.0Z M447.0 868.0 C447.0 865.0 448.2 861.8 450.0 860.0 C451.8 858.2 455.7 857.0 458.0 857.0 C460.3 857.0 462.7 858.2 464.0 860.0 C465.3 861.8 467.0 865.3 466.0 868.0 C465.0 870.7 460.7 874.3 458.0 876.0 C455.3 877.7 451.8 879.3 450.0 878.0 C448.2 876.7 447.0 871.0 447.0 868.0Z M697.9 808.3 C698.7 806.9 700.7 804.3 702.1 804.1 C703.5 803.9 705.4 805.0 706.3 806.9 C707.1 808.7 706.5 812.7 707.0 815.2 C707.4 817.8 709.2 820.1 709.0 822.2 C708.9 824.3 707.7 826.6 706.3 827.7 C704.9 828.9 702.3 829.6 700.7 829.1 C699.1 828.7 696.8 826.8 696.5 825.0 C696.3 823.1 699.2 820.1 699.3 818.0 C699.4 815.9 697.4 814.1 697.2 812.4 C697.0 810.8 697.1 809.7 697.9 808.3Z" fill="#e4f0a8"/>
<path d="M750.3 531.0 C751.1 529.3 753.8 528.4 755.9 527.7 C758.0 526.9 760.1 526.3 762.7 526.5 C765.3 526.7 770.2 525.8 771.7 528.8 C773.2 531.8 772.9 542.0 771.7 544.6 C770.6 547.2 767.0 544.2 765.0 544.6 C762.9 545.0 761.2 547.1 759.3 546.9 C757.4 546.7 755.1 545.0 753.7 543.5 C752.2 542.0 751.4 539.9 750.8 537.8 C750.3 535.8 749.4 532.7 750.3 531.0Z M762.7 496.0 C762.7 494.7 764.8 493.0 766.1 492.6 C767.4 492.2 769.3 492.6 770.6 493.7 C771.9 494.9 773.8 497.7 774.0 499.4 C774.2 501.1 772.5 503.2 771.7 503.9 C771.0 504.7 770.4 504.5 769.5 503.9 C768.5 503.3 767.2 501.8 766.1 500.5 C765.0 499.2 762.7 497.3 762.7 496.0Z" fill="none" stroke="#1c1c1c" stroke-width="1.5"/>
<path d="M750.3 531.0 C751.1 529.3 753.8 528.4 755.9 527.7 C758.0 526.9 760.1 526.3 762.7 526.5 C765.3 526.7 770.2 525.8 771.7 528.8 C773.2 531.8 772.9 542.0 771.7 544.6 C770.6 547.2 767.0 544.2 765.0 544.6 C762.9 545.0 761.2 547.1 759.3 546.9 C757.4 546.7 755.1 545.0 753.7 543.5 C752.2 542.0 751.4 539.9 750.8 537.8 C750.3 535.8 749.4 532.7 750.3 531.0Z M762.7 496.0 C762.7 494.7 764.8 493.0 766.1 492.6 C767.4 492.2 769.3 492.6 770.6 493.7 C771.9 494.9 773.8 497.7 774.0 499.4 C774.2 501.1 772.5 503.2 771.7 503.9 C771.0 504.7 770.4 504.5 769.5 503.9 C768.5 503.3 767.2 501.8 766.1 500.5 C765.0 499.2 762.7 497.3 762.7 496.0Z" fill="#f0f0a0"/>
<path d="M728.8 569.5 C729.2 568.3 731.4 567.4 733.3 566.1 C735.2 564.8 737.8 563.1 740.1 561.6 C742.3 560.1 745.0 558.4 746.9 557.0 C748.8 555.7 749.9 555.0 751.4 553.7 C752.9 552.3 754.4 550.1 755.9 549.1 C757.4 548.2 757.8 548.0 760.4 548.0 C763.1 548.0 769.9 545.2 771.7 549.1 C773.6 553.1 773.2 568.0 771.7 571.7 C770.2 575.5 765.3 571.4 762.7 571.7 C760.1 572.1 758.6 573.7 755.9 574.0 C753.3 574.3 749.9 573.4 746.9 573.4 C743.9 573.4 740.5 574.1 737.8 574.0 C735.2 573.9 732.6 573.6 731.0 572.9 C729.5 572.1 728.4 570.6 728.8 569.5Z" fill="none" stroke="#1c1c1c" stroke-width="1.5"/>
<path d="M728.8 569.5 C729.2 568.3 731.4 567.4 733.3 566.1 C735.2 564.8 737.8 563.1 740.1 561.6 C742.3 560.1 745.0 558.4 746.9 557.0 C748.8 555.7 749.9 555.0 751.4 553.7 C752.9 552.3 754.4 550.1 755.9 549.1 C757.4 548.2 757.8 548.0 760.4 548.0 C763.1 548.0 769.9 545.2 771.7 549.1 C773.6 553.1 773.2 568.0 771.7 571.7 C770.2 575.5 765.3 571.4 762.7 571.7 C760.1 572.1 758.6 573.7 755.9 574.0 C753.3 574.3 749.9 573.4 746.9 573.4 C743.9 573.4 740.5 574.1 737.8 574.0 C735.2 573.9 732.6 573.6 731.0 572.9 C729.5 572.1 728.4 570.6 728.8 569.5Z" fill="#d8ecac"/>
<path d="M559.0 442.0 C559.5 439.8 561.8 437.7 564.0 437.0 C566.2 436.3 570.2 436.2 572.0 438.0 C573.8 439.8 575.0 445.2 575.0 448.0 C575.0 450.8 573.7 453.7 572.0 455.0 C570.3 456.3 566.8 456.8 565.0 456.0 C563.2 455.2 562.0 452.3 561.0 450.0 C560.0 447.7 558.5 444.2 559.0 442.0Z M593.0 448.0 C593.7 445.7 598.2 442.7 600.0 443.0 C601.8 443.3 604.0 447.7 604.0 450.0 C604.0 452.3 601.3 455.8 600.0 457.0 C598.7 458.2 597.2 458.5 596.0 457.0 C594.8 455.5 592.3 450.3 593.0 448.0Z M562.0 513.0 C562.8 511.3 567.3 509.3 570.0 508.0 C572.7 506.7 576.2 504.8 578.0 505.0 C579.8 505.2 581.7 507.3 581.0 509.0 C580.3 510.7 576.7 513.5 574.0 515.0 C571.3 516.5 567.0 518.3 565.0 518.0 C563.0 517.7 561.2 514.7 562.0 513.0Z" fill="none" stroke="#1c1c1c" stroke-width="1.5"/>
<path d="M559.0 442.0 C559.5 439.8 561.8 437.7 564.0 437.0 C566.2 436.3 570.2 436.2 572.0 438.0 C573.8 439.8 575.0 445.2 575.0 448.0 C575.0 450.8 573.7 453.7 572.0 455.0 C570.3 456.3 566.8 456.8 565.0 456.0 C563.2 455.2 562.0 452.3 561.0 450.0 C560.0 447.7 558.5 444.2 559.0 442.0Z M593.0 448.0 C593.7 445.7 598.2 442.7 600.0 443.0 C601.8 443.3 604.0 447.7 604.0 450.0 C604.0 452.3 601.3 455.8 600.0 457.0 C598.7 458.2 597.2 458.5 596.0 457.0 C594.8 455.5 592.3 450.3 593.0 448.0Z M562.0 513.0 C562.8 511.3 567.3 509.3 570.0 508.0 C572.7 506.7 576.2 504.8 578.0 505.0 C579.8 505.2 581.7 507.3 581.0 509.0 C580.3 510.7 576.7 513.5 574.0 515.0 C571.3 516.5 567.0 518.3 565.0 518.0 C563.0 517.7 561.2 514.7 562.0 513.0Z" fill="#e4f0a8"/>
<path d="M566.0 538.0 C566.7 535.3 571.3 533.0 574.0 532.0 C576.7 531.0 580.2 530.7 582.0 532.0 C583.8 533.3 583.7 538.0 585.0 540.0 C586.3 542.0 587.5 543.7 590.0 544.0 C592.5 544.3 597.3 541.0 600.0 542.0 C602.7 543.0 611.0 549.0 606.0 550.0 C601.0 551.0 576.7 550.0 570.0 548.0 C563.3 546.0 565.3 540.7 566.0 538.0Z" fill="none" stroke="#1c1c1c" stroke-width="1.5"/>
<path d="M566.0 538.0 C566.7 535.3 571.3 533.0 574.0 532.0 C576.7 531.0 580.2 530.7 582.0 532.0 C583.8 533.3 583.7 538.0 585.0 540.0 C586.3 542.0 587.5 543.7 590.0 544.0 C592.5 544.3 597.3 541.0 600.0 542.0 C602.7 543.0 611.0 549.0 606.0 550.0 C601.0 551.0 576.7 550.0 570.0 548.0 C563.3 546.0 565.3 540.7 566.0 538.0Z" fill="#cce8b0"/>
<path d="M464.0 778.0 C465.5 779.2 458.8 785.0 456.0 785.0 C453.2 785.0 445.7 779.2 447.0 778.0 C448.3 776.8 462.5 776.8 464.0 778.0Z" fill="none" stroke="#1c1c1c" stroke-width="1.5"/>
<path d="M464.0 778.0 C465.5 779.2 458.8 785.0 456.0 785.0 C453.2 785.0 445.7 779.2 447.0 778.0 C448.3 776.8 462.5 776.8 464.0 778.0Z" fill="#e4f0a8"/>
<path d="M697.0 884.0 C697.0 882.6 699.8 880.7 702.0 880.0 C704.2 879.3 708.0 879.3 710.0 880.0 C712.0 880.7 714.0 882.7 714.0 884.0 C714.0 885.3 712.0 887.3 710.0 888.0 C708.0 888.7 704.2 889.1 702.0 888.4 C699.8 887.7 697.0 885.4 697.0 884.0Z" fill="none" stroke="#1c1c1c" stroke-width="1.5"/>
<path d="M697.0 884.0 C697.0 882.6 699.8 880.7 702.0 880.0 C704.2 879.3 708.0 879.3 710.0 880.0 C712.0 880.7 714.0 882.7 714.0 884.0 C714.0 885.3 712.0 887.3 710.0 888.0 C708.0 888.7 704.2 889.1 702.0 888.4 C699.8 887.7 697.0 885.4 697.0 884.0Z" fill="#d8ecac"/>
<path d="M596.0 858.0 C598.3 855.5 606.7 858.0 610.0 859.0 C613.3 860.0 614.7 861.5 616.0 864.0 C617.3 866.5 621.3 872.3 618.0 874.0 C614.7 875.7 599.7 876.7 596.0 874.0 C592.3 871.3 593.7 860.5 596.0 858.0Z" fill="none" stroke="#1c1c1c" stroke-width="1.5"/>
<path d="M596.0 858.0 C598.3 855.5 606.7 858.0 610.0 859.0 C613.3 860.0 614.7 861.5 616.0 864.0 C617.3 866.5 621.3 872.3 618.0 874.0 C614.7 875.7 599.7 876.7 596.0 874.0 C592.3 871.3 593.7 860.5 596.0 858.0Z" fill="#f0f0a0"/>
<path d="M548.0 878.0 C552.3 876.3 554.7 874.0 560.0 872.0 C565.3 870.0 575.0 866.3 580.0 866.0 C585.0 865.7 586.7 868.3 590.0 870.0 C593.3 871.7 597.0 874.3 600.0 876.0 C603.0 877.7 605.0 878.7 608.0 880.0 C611.0 881.3 616.0 882.0 618.0 884.0 C620.0 886.0 628.0 886.0 620.0 892.0 C612.0 898.0 582.7 914.0 570.0 920.0 C557.3 926.0 549.2 927.3 544.0 928.0 C538.8 928.7 539.8 927.0 539.0 924.0 C538.2 921.0 539.5 914.0 539.0 910.0 C538.5 906.0 537.5 903.0 536.0 900.0 C534.5 897.0 530.3 895.0 530.0 892.0 C529.7 889.0 531.0 884.3 534.0 882.0 C537.0 879.7 543.7 879.7 548.0 878.0Z M763.0 494.0 C763.3 492.7 766.5 491.7 768.0 492.0 C769.5 492.3 771.5 493.7 772.0 496.0 C772.5 498.3 772.0 505.3 771.0 506.0 C770.0 506.7 767.3 502.0 766.0 500.0 C764.7 498.0 762.7 495.3 763.0 494.0Z M750.0 530.0 C751.0 526.7 757.3 525.7 760.0 526.0 C762.7 526.3 764.3 528.0 766.0 532.0 C767.7 536.0 770.0 545.0 770.0 550.0 C770.0 555.0 768.0 560.3 766.0 562.0 C764.0 563.7 760.0 562.7 758.0 560.0 C756.0 557.3 755.3 551.0 754.0 546.0 C752.7 541.0 749.0 533.3 750.0 530.0Z" fill="none" stroke="#1c1c1c" stroke-width="1.5"/>
<path d="M548.0 878.0 C552.3 876.3 554.7 874.0 560.0 872.0 C565.3 870.0 575.0 866.3 580.0 866.0 C585.0 865.7 586.7 868.3 590.0 870.0 C593.3 871.7 597.0 874.3 600.0 876.0 C603.0 877.7 605.0 878.7 608.0 880.0 C611.0 881.3 616.0 882.0 618.0 884.0 C620.0 886.0 628.0 886.0 620.0 892.0 C612.0 898.0 582.7 914.0 570.0 920.0 C557.3 926.0 549.2 927.3 544.0 928.0 C538.8 928.7 539.8 927.0 539.0 924.0 C538.2 921.0 539.5 914.0 539.0 910.0 C538.5 906.0 537.5 903.0 536.0 900.0 C534.5 897.0 530.3 895.0 530.0 892.0 C529.7 889.0 531.0 884.3 534.0 882.0 C537.0 879.7 543.7 879.7 548.0 878.0Z M763.0 494.0 C763.3 492.7 766.5 491.7 768.0 492.0 C769.5 492.3 771.5 493.7 772.0 496.0 C772.5 498.3 772.0 505.3 771.0 506.0 C770.0 506.7 767.3 502.0 766.0 500.0 C764.7 498.0 762.7 495.3 763.0 494.0Z M750.0 530.0 C751.0 526.7 757.3 525.7 760.0 526.0 C762.7 526.3 764.3 528.0 766.0 532.0 C767.7 536.0 770.0 545.0 770.0 550.0 C770.0 555.0 768.0 560.3 766.0 562.0 C764.0 563.7 760.0 562.7 758.0 560.0 C756.0 557.3 755.3 551.0 754.0 546.0 C752.7 541.0 749.0 533.3 750.0 530.0Z" fill="#f0f0a0"/>
<path d="M465.0 530.0 C464.7 527.2 466.8 521.0 468.0 518.0 C469.2 515.0 470.3 512.5 472.0 512.0 C473.7 511.5 476.3 513.0 478.0 515.0 C479.7 517.0 482.0 521.2 482.0 524.0 C482.0 526.8 480.0 530.2 478.0 532.0 C476.0 533.8 472.2 535.3 470.0 535.0 C467.8 534.7 465.3 532.8 465.0 530.0Z" fill="none" stroke="#1c1c1c" stroke-width="1.5"/>
<path d="M465.0 530.0 C464.7 527.2 466.8 521.0 468.0 518.0 C469.2 515.0 470.3 512.5 472.0 512.0 C473.7 511.5 476.3 513.0 478.0 515.0 C479.7 517.0 482.0 521.2 482.0 524.0 C482.0 526.8 480.0 530.2 478.0 532.0 C476.0 533.8 472.2 535.3 470.0 535.0 C467.8 534.7 465.3 532.8 465.0 530.0Z" fill="#f0f0a0"/>
<path d="M130.0 460.0 C145.0 443.3 193.3 456.7 220.0 460.0 C246.7 463.3 278.3 474.3 290.0 480.0 C301.7 485.7 289.8 489.0 290.0 494.0 C290.2 499.0 291.3 505.3 291.0 510.0 C290.7 514.7 289.8 517.7 288.0 522.0 C286.2 526.3 281.7 531.3 280.0 536.0 C278.3 540.7 278.0 546.0 278.0 550.0 C278.0 554.0 278.3 557.8 280.0 560.0 C281.7 562.2 286.8 561.0 288.0 563.0 C289.2 565.0 288.7 569.7 287.0 572.0 C285.3 574.3 282.5 575.7 278.0 577.0 C273.5 578.3 273.0 581.2 260.0 580.0 C247.0 578.8 221.7 573.3 200.0 570.0 C178.3 566.7 141.7 578.3 130.0 560.0 C118.3 541.7 115.0 476.7 130.0 460.0Z M303.0 408.7 C310.3 401.4 338.6 403.3 346.5 408.7 C354.5 414.1 349.3 434.9 350.9 440.9 C352.5 446.8 353.9 443.0 356.1 444.3 C358.3 445.7 363.0 447.2 363.9 448.7 C364.8 450.1 362.0 451.3 361.3 453.0 C360.6 454.8 359.4 457.2 359.6 459.1 C359.7 461.0 361.2 462.8 362.2 464.3 C363.2 465.9 364.6 467.1 365.7 468.7 C366.7 470.3 368.0 472.0 368.3 473.9 C368.6 475.8 367.8 477.8 367.4 480.0 C367.0 482.2 365.4 485.1 365.7 487.0 C365.9 488.8 368.4 489.9 369.1 491.3 C369.9 492.8 371.2 494.5 370.0 495.7 C368.8 496.8 365.4 497.5 362.2 498.3 C359.0 499.0 354.2 499.6 350.9 500.0 C347.5 500.4 348.0 500.7 342.2 500.9 C336.4 501.0 322.6 509.0 316.1 500.9 C309.6 492.8 305.2 467.5 303.0 452.2 C300.9 436.8 295.8 415.9 303.0 408.7Z M466.0 328.0 C469.0 319.8 478.7 330.3 484.0 331.0 C489.3 331.7 494.0 330.2 498.0 332.0 C502.0 333.8 505.3 338.3 508.0 342.0 C510.7 345.7 512.3 350.0 514.0 354.0 C515.7 358.0 517.5 362.0 518.0 366.0 C518.5 370.0 518.3 375.2 517.0 378.0 C515.7 380.8 513.8 382.3 510.0 383.0 C506.2 383.7 498.7 382.5 494.0 382.0 C489.3 381.5 486.7 380.3 482.0 380.0 C477.3 379.7 468.7 388.7 466.0 380.0 C463.3 371.3 463.0 336.2 466.0 328.0Z M400.0 416.0 C403.0 412.7 411.7 410.0 418.0 408.0 C424.3 406.0 434.5 403.8 438.0 404.0 C441.5 404.2 438.3 406.7 439.0 409.0 C439.7 411.3 442.2 415.3 442.0 418.0 C441.8 420.7 440.3 423.5 438.0 425.0 C435.7 426.5 431.7 425.8 428.0 427.0 C424.3 428.2 419.3 431.7 416.0 432.0 C412.7 432.3 410.7 429.7 408.0 429.0 C405.3 428.3 401.3 430.2 400.0 428.0 C398.7 425.8 397.0 419.3 400.0 416.0Z M600.0 386.0 C606.3 384.3 621.5 383.7 626.0 386.0 C630.5 388.3 627.7 396.3 627.0 400.0 C626.3 403.7 624.5 405.7 622.0 408.0 C619.5 410.3 615.7 413.0 612.0 414.0 C608.3 415.0 603.3 415.0 600.0 414.0 C596.7 413.0 594.0 411.0 592.0 408.0 C590.0 405.0 586.7 399.7 588.0 396.0 C589.3 392.3 593.7 387.7 600.0 386.0Z M642.0 502.0 C643.0 500.0 646.2 498.0 648.0 498.0 C649.8 498.0 651.7 500.0 653.0 502.0 C654.3 504.0 656.0 507.7 656.0 510.0 C656.0 512.3 654.7 515.0 653.0 516.0 C651.3 517.0 647.8 517.0 646.0 516.0 C644.2 515.0 642.7 512.3 642.0 510.0 C641.3 507.7 641.0 504.0 642.0 502.0Z M582.0 375.0 C583.2 373.0 585.7 371.5 588.0 372.0 C590.3 372.5 594.0 375.3 596.0 378.0 C598.0 380.7 599.3 382.0 600.0 388.0 C600.7 394.0 601.7 410.7 600.0 414.0 C598.3 417.3 592.7 411.0 590.0 408.0 C587.3 405.0 585.5 400.0 584.0 396.0 C582.5 392.0 581.3 387.5 581.0 384.0 C580.7 380.5 580.8 377.0 582.0 375.0Z M216.0 548.0 C225.0 546.5 272.0 545.7 284.0 548.0 C296.0 550.3 287.7 558.0 288.0 562.0 C288.3 566.0 287.7 569.8 286.0 572.0 C284.3 574.2 282.3 575.3 278.0 575.0 C273.7 574.7 265.7 571.7 260.0 570.0 C254.3 568.3 249.0 567.2 244.0 565.0 C239.0 562.8 234.7 559.8 230.0 557.0 C225.3 554.2 207.0 549.5 216.0 548.0Z M294.0 630.0 C295.0 623.8 301.7 611.0 306.0 607.0 C310.3 603.0 315.7 605.5 320.0 606.0 C324.3 606.5 329.0 610.7 332.0 610.0 C335.0 609.3 335.7 603.8 338.0 602.0 C340.3 600.2 344.0 598.7 346.0 599.0 C348.0 599.3 350.3 602.2 350.0 604.0 C349.7 605.8 344.3 607.7 344.0 610.0 C343.7 612.3 345.3 615.8 348.0 618.0 C350.7 620.2 356.3 621.3 360.0 623.0 C363.7 624.7 367.3 626.2 370.0 628.0 C372.7 629.8 374.0 631.0 376.0 634.0 C378.0 637.0 380.7 642.3 382.0 646.0 C383.3 649.7 384.7 653.5 384.0 656.0 C383.3 658.5 380.3 660.0 378.0 661.0 C375.7 662.0 372.0 659.8 370.0 662.0 C368.0 664.2 368.3 670.7 366.0 674.0 C363.7 677.3 358.8 681.7 356.0 682.0 C353.2 682.3 350.3 678.7 349.0 676.0 C347.7 673.3 347.8 669.0 348.0 666.0 C348.2 663.0 351.0 659.8 350.0 658.0 C349.0 656.2 344.5 654.0 342.0 655.0 C339.5 656.0 338.7 662.8 335.0 664.0 C331.3 665.2 325.8 665.3 320.0 662.0 C314.2 658.7 304.3 649.3 300.0 644.0 C295.7 638.7 293.0 636.2 294.0 630.0Z M312.0 589.0 C313.0 586.8 321.0 586.3 324.0 587.0 C327.0 587.7 329.7 591.0 330.0 593.0 C330.3 595.0 328.0 597.8 326.0 599.0 C324.0 600.2 320.3 601.7 318.0 600.0 C315.7 598.3 311.0 591.2 312.0 589.0Z M290.0 598.0 C291.3 596.5 297.3 592.7 300.0 592.0 C302.7 591.3 306.0 592.7 306.0 594.0 C306.0 595.3 302.3 598.8 300.0 600.0 C297.7 601.2 293.7 601.3 292.0 601.0 C290.3 600.7 288.7 599.5 290.0 598.0Z M298.0 564.0 C299.3 561.0 305.5 555.3 308.0 554.0 C310.5 552.7 313.0 553.7 313.0 556.0 C313.0 558.3 310.2 565.3 308.0 568.0 C305.8 570.7 301.7 572.7 300.0 572.0 C298.3 571.3 296.7 567.0 298.0 564.0Z M310.0 748.0 C313.5 742.5 325.3 748.3 331.0 747.0 C336.7 745.7 339.5 741.8 344.0 740.0 C348.5 738.2 353.7 737.3 358.0 736.0 C362.3 734.7 366.0 733.7 370.0 732.0 C374.0 730.3 378.0 727.7 382.0 726.0 C386.0 724.3 390.7 723.3 394.0 722.0 C397.3 720.7 399.7 719.7 402.0 718.0 C404.3 716.3 406.8 714.3 408.0 712.0 C409.2 709.7 409.5 706.0 409.0 704.0 C408.5 702.0 405.7 701.7 405.0 700.0 C404.3 698.3 400.8 695.3 405.0 694.0 C409.2 692.7 421.8 689.0 430.0 692.0 C438.2 695.0 448.7 703.0 454.0 712.0 C459.3 721.0 461.7 740.7 462.0 746.0 C462.3 751.3 459.3 744.8 456.0 744.0 C452.7 743.2 446.3 742.2 442.0 741.0 C437.7 739.8 433.3 738.5 430.0 737.0 C426.7 735.5 425.3 733.5 422.0 732.0 C418.7 730.5 413.7 728.8 410.0 728.0 C406.3 727.2 402.7 726.3 400.0 727.0 C397.3 727.7 396.3 729.8 394.0 732.0 C391.7 734.2 388.7 737.3 386.0 740.0 C383.3 742.7 380.7 745.3 378.0 748.0 C375.3 750.7 372.7 753.8 370.0 756.0 C367.3 758.2 364.2 759.2 362.0 761.0 C359.8 762.8 357.5 765.0 357.0 767.0 C356.5 769.0 360.2 770.8 359.0 773.0 C357.8 775.2 358.2 778.8 350.0 780.0 C341.8 781.2 316.7 785.3 310.0 780.0 C303.3 774.7 306.5 753.5 310.0 748.0Z M298.0 764.8 C307.2 736.7 342.8 763.9 352.8 764.8 C362.8 765.7 356.3 768.3 358.0 770.0 C359.8 771.7 361.3 774.1 363.3 775.2 C365.2 776.3 367.8 775.4 369.8 776.5 C371.7 777.6 373.3 779.6 375.0 781.7 C376.7 783.9 378.3 787.4 380.2 789.6 C382.2 791.7 385.2 792.8 386.7 794.8 C388.3 796.7 388.9 799.1 389.3 801.3 C389.8 803.5 388.3 805.4 389.3 807.8 C390.4 810.2 393.7 813.9 395.9 815.7 C398.0 817.4 401.0 817.0 402.4 818.3 C403.8 819.6 404.6 821.3 404.3 823.5 C404.1 825.7 401.4 828.5 401.1 831.3 C400.8 834.1 402.0 837.6 402.4 840.4 C402.8 843.3 404.1 845.2 403.7 848.3 C403.3 851.3 401.7 855.7 399.8 858.7 C397.8 861.7 394.1 864.1 392.0 866.5 C389.8 868.9 387.4 870.9 386.7 873.0 C386.1 875.2 386.5 877.6 388.0 879.6 C389.6 881.5 393.3 882.8 395.9 884.8 C398.5 886.7 402.0 889.1 403.7 891.3 C405.4 893.5 406.3 895.4 406.3 897.8 C406.3 900.2 404.6 903.3 403.7 905.7 C402.8 908.0 401.7 909.8 401.1 912.2 C400.4 914.6 400.0 916.5 399.8 920.0 C399.6 923.5 416.7 930.9 399.8 933.0 C382.8 935.2 315.0 961.1 298.0 933.0 C281.1 905.0 288.9 792.8 298.0 764.8Z M366.0 731.0 C368.0 726.3 374.0 729.2 378.0 728.0 C382.0 726.8 386.0 725.7 390.0 724.0 C394.0 722.3 399.0 720.7 402.0 718.0 C405.0 715.3 407.5 711.3 408.0 708.0 C408.5 704.7 405.7 701.3 405.0 698.0 C404.3 694.7 403.2 691.0 404.0 688.0 C404.8 685.0 407.7 682.0 410.0 680.0 C412.3 678.0 415.0 676.8 418.0 676.0 C421.0 675.2 425.0 676.0 428.0 675.0 C431.0 674.0 433.7 672.2 436.0 670.0 C438.3 667.8 440.8 664.7 442.0 662.0 C443.2 659.3 442.0 655.5 443.0 654.0 C444.0 652.5 446.5 652.2 448.0 653.0 C449.5 653.8 451.0 656.8 452.0 659.0 C453.0 661.2 452.0 664.0 454.0 666.0 C456.0 668.0 460.0 670.3 464.0 671.0 C468.0 671.7 473.7 669.3 478.0 670.0 C482.3 670.7 486.7 672.3 490.0 675.0 C493.3 677.7 496.0 682.2 498.0 686.0 C500.0 689.8 500.0 695.8 502.0 698.0 C504.0 700.2 507.7 699.2 510.0 699.0 C512.3 698.8 514.5 695.8 516.0 697.0 C517.5 698.2 518.7 703.2 519.0 706.0 C519.3 708.8 517.2 711.7 518.0 714.0 C518.8 716.3 522.0 717.3 524.0 720.0 C526.0 722.7 529.7 725.0 530.0 730.0 C530.3 735.0 529.3 743.3 526.0 750.0 C522.7 756.7 516.0 765.0 510.0 770.0 C504.0 775.0 493.7 779.0 490.0 780.0 C486.3 781.0 489.3 778.0 488.0 776.0 C486.7 774.0 484.3 770.3 482.0 768.0 C479.7 765.7 476.0 764.3 474.0 762.0 C472.0 759.7 472.0 756.3 470.0 754.0 C468.0 751.7 465.3 749.7 462.0 748.0 C458.7 746.3 454.3 745.0 450.0 744.0 C445.7 743.0 440.7 743.2 436.0 742.0 C431.3 740.8 426.3 739.0 422.0 737.0 C417.7 735.0 413.3 731.8 410.0 730.0 C406.7 728.2 404.7 726.2 402.0 726.0 C399.3 725.8 397.3 727.0 394.0 729.0 C390.7 731.0 385.3 734.8 382.0 738.0 C378.7 741.2 376.7 745.0 374.0 748.0 C371.3 751.0 367.3 758.8 366.0 756.0 C364.7 753.2 364.0 735.7 366.0 731.0Z M366.0 628.0 C367.7 623.3 373.3 631.0 376.0 634.0 C378.7 637.0 380.7 642.3 382.0 646.0 C383.3 649.7 384.7 653.5 384.0 656.0 C383.3 658.5 381.0 660.0 378.0 661.0 C375.0 662.0 368.0 667.5 366.0 662.0 C364.0 656.5 364.3 632.7 366.0 628.0Z M475.4 695.0 C475.4 693.3 477.8 690.0 479.0 690.0 C480.2 690.0 482.6 693.3 482.6 695.0 C482.6 696.7 480.2 700.0 479.0 700.0 C477.8 700.0 475.4 696.7 475.4 695.0Z M580.0 590.0 C581.3 587.7 585.0 586.5 588.0 586.0 C591.0 585.5 595.3 586.3 598.0 587.0 C600.7 587.7 602.3 587.8 604.0 590.0 C605.7 592.2 607.5 596.0 608.0 600.0 C608.5 604.0 608.3 610.8 607.0 614.0 C605.7 617.2 602.2 617.7 600.0 619.0 C597.8 620.3 596.5 622.0 594.0 622.0 C591.5 622.0 587.2 621.0 585.0 619.0 C582.8 617.0 581.8 613.2 581.0 610.0 C580.2 606.8 580.2 603.3 580.0 600.0 C579.8 596.7 578.7 592.3 580.0 590.0Z M409.0 776.0 C410.0 773.3 413.7 769.0 416.0 768.0 C418.3 767.0 421.5 768.0 423.0 770.0 C424.5 772.0 425.8 777.3 425.0 780.0 C424.2 782.7 420.5 785.3 418.0 786.0 C415.5 786.7 411.5 785.7 410.0 784.0 C408.5 782.3 408.0 778.7 409.0 776.0Z M476.9 686.3 C479.0 671.9 486.3 686.8 489.4 687.8 C492.5 688.9 493.6 692.3 495.7 692.5 C497.7 692.8 499.3 689.7 501.9 689.4 C504.5 689.1 509.0 689.7 511.3 691.0 C513.7 692.3 514.7 694.6 516.0 697.2 C517.3 699.8 518.1 703.5 519.1 706.6 C520.2 709.7 521.0 715.3 522.3 716.0 C523.6 716.7 524.9 711.6 527.0 710.5 C529.0 709.5 532.2 709.1 534.8 709.7 C537.4 710.4 541.0 712.3 542.6 714.4 C544.2 716.5 544.2 719.7 544.2 722.3 C544.2 724.9 542.1 727.5 542.6 730.1 C543.1 732.7 546.8 735.3 547.3 737.9 C547.8 740.5 546.5 743.4 545.7 745.7 C545.0 748.1 542.7 749.4 542.6 752.0 C542.5 754.6 544.4 757.7 545.0 761.4 C545.5 765.0 545.1 769.7 545.7 773.9 C546.4 778.1 547.3 783.8 548.9 786.4 C550.4 789.0 553.6 788.3 555.1 789.6 C556.7 790.9 559.0 792.4 558.3 794.3 C557.5 796.1 552.5 798.7 550.4 800.5 C548.3 802.3 547.0 803.4 545.7 805.2 C544.4 807.0 542.6 809.4 542.6 811.5 C542.6 813.6 545.0 815.1 545.7 817.7 C546.5 820.3 547.8 824.3 547.3 827.1 C546.8 830.0 545.0 833.1 542.6 835.0 C540.3 836.8 536.3 838.1 533.2 838.1 C530.1 838.1 526.7 836.5 523.8 835.0 C521.0 833.4 517.7 831.0 516.0 828.7 C514.3 826.3 513.1 823.2 513.7 820.9 C514.2 818.5 516.9 816.2 519.1 814.6 C521.3 813.0 525.4 813.0 527.0 811.5 C528.5 809.9 528.8 807.3 528.5 805.2 C528.3 803.1 527.2 800.3 525.4 799.0 C523.6 797.7 520.4 798.4 517.6 797.4 C514.7 796.3 511.3 794.3 508.2 792.7 C505.0 791.1 501.9 788.5 498.8 788.0 C495.7 787.5 492.0 789.8 489.4 789.6 C486.8 789.3 484.7 788.0 483.1 786.4 C481.6 784.9 481.0 782.3 480.0 780.2 C479.0 778.1 477.4 789.6 476.9 773.9 C476.3 758.3 474.8 700.6 476.9 686.3Z M736.1 500.5 C735.9 498.4 736.8 496.7 737.8 495.4 C738.9 494.2 740.8 493.3 742.3 493.2 C743.9 493.1 745.7 493.7 746.9 494.9 C748.0 496.0 748.9 498.1 749.1 500.0 C749.3 501.8 748.9 504.6 748.0 506.2 C747.1 507.8 745.0 509.3 743.5 509.6 C742.0 509.8 740.2 509.4 739.0 507.9 C737.7 506.4 736.3 502.6 736.1 500.5Z M696.0 534.4 C696.9 532.9 698.6 532.0 700.5 531.0 C702.4 530.1 704.9 529.3 707.3 528.8 C709.8 528.2 713.0 528.6 715.2 527.7 C717.5 526.7 718.6 524.6 720.9 523.1 C723.1 521.6 726.1 519.6 728.8 518.6 C731.4 517.6 734.4 516.9 736.7 516.9 C739.0 516.9 740.8 517.4 742.3 518.6 C743.9 519.8 744.8 522.2 745.7 524.3 C746.7 526.3 747.4 528.4 748.0 531.0 C748.6 533.7 749.1 537.1 749.1 540.1 C749.1 543.1 748.9 546.5 748.0 549.1 C747.1 551.8 745.4 554.0 743.5 555.9 C741.6 557.8 738.8 559.1 736.7 560.4 C734.6 561.8 733.1 562.7 731.0 563.8 C729.0 565.0 726.5 566.5 724.3 567.2 C722.0 568.0 719.6 568.7 717.5 568.3 C715.4 568.0 713.3 566.5 711.8 565.0 C710.3 563.4 709.2 561.4 708.4 559.3 C707.7 557.2 708.2 554.2 707.3 552.5 C706.4 550.8 704.5 550.3 702.8 549.1 C701.1 548.0 698.4 547.2 697.1 545.7 C695.8 544.2 695.1 542.0 694.9 540.1 C694.7 538.2 695.1 535.9 696.0 534.4Z M780.0 578.0 C784.7 606.7 786.7 714.7 780.0 750.0 C773.3 785.3 760.0 783.3 740.0 790.0 C720.0 796.7 673.7 792.3 660.0 790.0 C646.3 787.7 657.0 779.7 658.0 776.0 C659.0 772.3 663.0 770.3 666.0 768.0 C669.0 765.7 673.0 765.0 676.0 762.0 C679.0 759.0 683.5 754.0 684.0 750.0 C684.5 746.0 680.3 741.2 679.0 738.0 C677.7 734.8 677.5 731.8 676.0 731.0 C674.5 730.2 672.3 732.5 670.0 733.0 C667.7 733.5 664.3 734.5 662.0 734.0 C659.7 733.5 656.7 732.0 656.0 730.0 C655.3 728.0 658.0 725.3 658.0 722.0 C658.0 718.7 657.3 714.7 656.0 710.0 C654.7 705.3 651.8 699.3 650.0 694.0 C648.2 688.7 646.0 683.0 645.0 678.0 C644.0 673.0 645.7 667.7 644.0 664.0 C642.3 660.3 638.0 657.0 635.0 656.0 C632.0 655.0 628.2 656.0 626.0 658.0 C623.8 660.0 623.2 664.0 622.0 668.0 C620.8 672.0 620.3 677.7 619.0 682.0 C617.7 686.3 615.8 693.0 614.0 694.0 C612.2 695.0 609.3 690.7 608.0 688.0 C606.7 685.3 605.7 681.7 606.0 678.0 C606.3 674.3 609.8 669.7 610.0 666.0 C610.2 662.3 606.7 658.7 607.0 656.0 C607.3 653.3 608.5 652.3 612.0 650.0 C615.5 647.7 622.3 645.3 628.0 642.0 C633.7 638.7 640.7 634.7 646.0 630.0 C651.3 625.3 657.0 618.3 660.0 614.0 C663.0 609.7 661.3 607.3 664.0 604.0 C666.7 600.7 672.0 597.7 676.0 594.0 C680.0 590.3 685.0 584.5 688.0 582.0 C691.0 579.5 692.0 578.0 694.0 579.0 C696.0 580.0 697.7 585.3 700.0 588.0 C702.3 590.7 704.7 594.0 708.0 595.0 C711.3 596.0 715.0 595.8 720.0 594.0 C725.0 592.2 734.2 585.5 738.0 584.0 C741.8 582.5 740.7 586.0 743.0 585.0 C745.3 584.0 745.8 579.2 752.0 578.0 C758.2 576.8 775.3 549.3 780.0 578.0Z M759.1 687.2 C777.7 694.6 761.4 718.8 759.1 731.7 C756.8 744.7 748.5 759.1 745.2 765.1 C742.0 771.2 741.3 767.0 739.7 767.9 C738.0 768.8 736.6 769.8 735.5 770.7 C734.3 771.6 734.3 772.1 732.7 773.5 C731.1 774.9 728.8 777.4 725.7 779.0 C722.7 780.7 718.3 782.1 714.6 783.2 C710.9 784.4 707.0 784.8 703.5 786.0 C700.0 787.2 696.8 788.3 693.7 790.2 C690.7 792.0 688.2 795.4 685.4 797.1 C682.6 798.9 679.4 801.1 677.0 800.6 C674.7 800.1 671.9 796.3 671.5 794.3 C671.0 792.4 673.3 790.6 674.3 788.8 C675.2 786.9 677.0 785.3 677.0 783.2 C677.0 781.1 676.1 778.1 674.3 776.3 C672.4 774.4 668.9 772.6 665.9 772.1 C662.9 771.6 658.7 773.7 656.2 773.5 C653.6 773.2 651.3 772.1 650.6 770.7 C649.9 769.3 651.3 767.2 652.0 765.1 C652.7 763.0 653.2 760.5 654.8 758.2 C656.4 755.9 659.7 753.5 661.7 751.2 C663.8 748.9 665.4 746.3 667.3 744.3 C669.2 742.2 671.2 740.6 672.9 738.7 C674.5 736.8 676.6 734.5 677.0 733.1 C677.5 731.7 677.3 730.3 675.7 730.3 C674.0 730.3 669.9 732.4 667.3 733.1 C664.8 733.8 662.3 734.8 660.3 734.5 C658.4 734.3 655.9 732.9 655.5 731.7 C655.0 730.6 656.8 729.2 657.6 727.6 C658.4 725.9 660.5 724.6 660.3 722.0 C660.2 719.4 658.0 715.7 656.9 712.3 C655.7 708.8 654.9 705.3 653.4 701.1 C651.9 697.0 630.2 689.5 647.8 687.2 C665.4 684.9 740.6 679.8 759.1 687.2Z M654.8 819.4 C655.0 816.4 657.1 813.1 659.0 811.0 C660.8 809.0 663.4 808.0 665.9 806.9 C668.5 805.7 671.9 803.9 674.3 804.1 C676.6 804.3 678.7 805.9 679.8 808.3 C681.0 810.6 680.8 814.8 681.2 818.0 C681.7 821.2 683.5 825.4 682.6 827.7 C681.7 830.1 678.4 831.0 675.7 831.9 C672.9 832.8 668.9 833.8 665.9 833.3 C662.9 832.8 659.4 831.4 657.6 829.1 C655.7 826.8 654.6 822.4 654.8 819.4Z M724.3 805.5 C725.7 803.9 729.0 803.4 731.3 802.7 C733.6 802.0 735.9 801.8 738.3 801.3 C740.6 800.8 742.7 798.8 745.2 799.9 C747.8 801.1 751.2 806.2 753.6 808.3 C755.9 810.3 753.6 811.3 759.1 812.4 C764.7 813.6 782.3 807.8 787.0 815.2 C791.6 822.6 795.5 850.0 787.0 857.0 C778.4 863.9 744.3 859.0 735.5 857.0 C726.7 854.9 734.1 847.9 734.1 844.4 C734.1 841.0 735.9 838.6 735.5 836.1 C735.0 833.5 732.9 831.4 731.3 829.1 C729.7 826.8 727.1 825.0 725.7 822.2 C724.3 819.4 723.2 815.2 723.0 812.4 C722.7 809.7 723.0 807.1 724.3 805.5Z M617.2 765.1 C618.8 761.2 624.5 763.7 627.0 765.1 C629.4 766.5 631.2 770.0 631.8 773.5 C632.4 777.0 631.7 783.2 630.4 786.0 C629.2 788.8 626.4 789.7 624.2 790.2 C622.0 790.6 618.4 793.0 617.2 788.8 C616.1 784.6 615.6 769.1 617.2 765.1Z M543.5 767.2 C553.9 768.6 545.3 772.8 546.3 775.6 C547.2 778.3 548.6 781.4 549.0 783.9 C549.5 786.5 548.3 788.6 549.0 790.9 C549.7 793.2 552.1 795.3 553.2 797.8 C554.4 800.4 556.2 802.9 556.0 806.2 C555.8 809.4 553.4 813.6 551.8 817.3 C550.2 821.0 547.7 824.7 546.3 828.4 C544.9 832.1 543.7 836.3 543.5 839.6 C543.2 842.8 543.9 845.6 544.9 847.9 C545.8 850.2 548.1 851.3 549.0 853.5 C550.0 855.7 551.4 859.0 550.4 861.1 C549.5 863.2 546.0 864.5 543.5 866.0 C540.9 867.5 537.4 869.0 535.1 870.2 C532.8 871.3 531.9 872.0 529.6 873.0 C527.2 873.9 524.0 875.0 521.2 875.7 C518.4 876.4 515.2 876.9 512.9 877.1 C510.6 877.4 508.5 878.3 507.3 877.1 C506.1 876.0 506.6 872.7 505.9 870.2 C505.2 867.6 503.8 864.6 503.1 861.8 C502.4 859.0 501.5 856.3 501.7 853.5 C502.0 850.7 503.8 847.9 504.5 845.1 C505.2 842.3 506.1 839.6 505.9 836.8 C505.7 834.0 503.8 831.2 503.1 828.4 C502.4 825.7 501.7 822.6 501.7 820.1 C501.7 817.5 502.0 814.8 503.1 813.1 C504.3 811.5 506.1 810.9 508.7 810.3 C511.2 809.8 516.3 810.3 518.4 809.7 C520.5 809.0 521.2 807.2 521.2 806.2 C521.2 805.1 519.8 804.1 518.4 803.4 C517.0 802.7 515.4 803.2 512.9 802.0 C510.3 800.8 505.9 798.1 503.1 796.4 C500.3 794.8 498.3 792.7 496.2 792.3 C494.1 791.8 492.0 792.4 490.6 793.7 C489.2 794.9 489.4 798.4 487.8 799.9 C486.2 801.4 483.2 802.6 480.9 802.7 C478.6 802.8 475.5 801.9 473.9 800.6 C472.3 799.3 471.4 796.9 471.1 795.0 C470.9 793.2 471.4 791.3 472.5 789.5 C473.7 787.6 476.2 787.6 478.1 783.9 C479.9 780.2 472.8 770.0 483.7 767.2 C494.6 764.4 533.0 765.8 543.5 767.2Z M457.2 898.0 C459.1 891.4 464.9 897.0 468.3 897.3 C471.8 897.7 475.1 898.6 478.1 900.1 C481.1 901.6 483.9 903.9 486.4 906.3 C489.0 908.8 491.8 911.9 493.4 914.7 C495.0 917.5 495.9 919.3 496.2 923.0 C496.4 926.8 501.3 934.6 494.8 937.0 C488.3 939.3 463.5 943.4 457.2 937.0 C451.0 930.5 455.4 904.6 457.2 898.0Z M420.0 910.0 C421.3 903.7 421.7 904.0 424.0 902.0 C426.3 900.0 430.0 898.3 434.0 898.0 C438.0 897.7 443.0 899.2 448.0 900.0 C453.0 900.8 459.3 902.0 464.0 903.0 C468.7 904.0 473.3 904.2 476.0 906.0 C478.7 907.8 478.0 912.0 480.0 914.0 C482.0 916.0 486.0 916.0 488.0 918.0 C490.0 920.0 492.0 923.0 492.0 926.0 C492.0 929.0 489.3 932.0 488.0 936.0 C486.7 940.0 488.7 947.7 484.0 950.0 C479.3 952.3 471.3 951.7 460.0 950.0 C448.7 948.3 422.7 946.7 416.0 940.0 C409.3 933.3 418.7 916.3 420.0 910.0Z M514.0 948.0 C514.2 946.6 515.7 944.7 517.0 944.0 C518.3 943.3 520.8 943.2 522.0 944.0 C523.2 944.8 524.2 947.5 524.0 949.0 C523.8 950.5 522.3 952.4 521.0 953.0 C519.7 953.6 517.2 953.2 516.0 952.4 C514.8 951.6 513.8 949.4 514.0 948.0Z M852.2 931.3 C853.5 929.3 856.1 927.4 858.7 926.1 C861.3 924.8 865.4 923.7 867.8 923.5 C870.2 923.3 871.8 923.5 873.0 924.8 C874.2 926.1 875.0 929.1 875.0 931.3 C875.0 933.5 872.7 935.9 873.0 937.8 C873.4 939.8 875.7 941.5 877.0 943.0 C878.3 944.6 879.3 945.2 880.9 947.0 C882.4 948.7 884.3 951.5 886.1 953.5 C887.8 955.4 890.0 956.5 891.3 958.7 C892.6 960.9 893.9 963.9 893.9 966.5 C893.9 969.1 892.2 971.5 891.3 974.3 C890.4 977.2 890.0 980.9 888.7 983.5 C887.4 986.1 885.4 988.3 883.5 990.0 C881.5 991.7 879.1 993.6 877.0 993.9 C874.8 994.2 872.4 993.3 870.4 992.0 C868.5 990.7 866.7 988.4 865.2 986.1 C863.7 983.8 862.3 980.9 861.3 978.3 C860.3 975.7 860.0 973.3 859.3 970.4 C858.7 967.6 858.2 964.1 857.4 961.3 C856.6 958.5 855.7 956.1 854.8 953.5 C853.9 950.9 852.8 948.3 852.2 945.7 C851.5 943.0 850.9 940.2 850.9 937.8 C850.9 935.4 850.9 933.3 852.2 931.3Z M538.3 852.0 C539.4 848.2 542.8 846.2 545.2 843.3 C547.7 840.4 550.6 837.5 553.0 834.6 C555.5 831.7 557.8 828.8 560.0 825.9 C562.2 823.0 564.6 820.1 566.1 817.2 C567.5 814.3 567.2 811.1 568.7 808.5 C570.1 805.9 572.6 803.3 574.8 801.5 C577.0 799.8 579.4 799.3 581.7 798.0 C584.1 796.7 587.0 795.6 588.7 793.7 C590.4 791.8 590.9 789.1 592.2 786.7 C593.5 784.4 595.1 782.5 596.5 779.8 C598.0 777.0 599.4 772.8 600.9 770.2 C602.3 767.7 603.5 766.5 605.0 764.5 C606.6 762.4 609.7 760.1 610.0 758.0 C610.3 756.0 606.4 753.3 607.0 752.0 C607.5 750.6 611.8 749.2 613.0 750.0 C614.3 750.8 614.4 754.3 614.5 756.7 C614.7 759.1 612.8 762.7 613.9 764.5 C615.0 766.3 618.9 766.1 621.0 767.6 C623.2 769.1 625.4 771.5 627.0 773.7 C628.5 775.9 630.1 778.5 630.4 780.7 C630.7 782.8 629.9 785.1 628.7 786.7 C627.5 788.3 625.2 788.9 623.5 790.2 C621.7 791.5 619.9 793.0 618.3 794.6 C616.7 796.2 615.4 797.9 613.9 799.8 C612.5 801.7 610.7 803.6 609.6 805.9 C608.4 808.2 607.7 811.2 607.0 813.7 C606.2 816.2 606.2 818.6 605.2 820.7 C604.2 822.7 601.9 823.7 600.9 825.9 C599.9 828.0 600.0 831.1 599.1 833.7 C598.3 836.3 597.4 839.3 595.7 841.5 C593.9 843.7 591.0 845.0 588.7 846.7 C586.4 848.5 584.1 850.9 581.7 852.0 C579.4 853.0 577.1 852.8 574.8 852.8 C572.5 852.8 570.0 851.5 567.8 852.0 C565.7 852.4 563.8 854.0 561.7 855.4 C559.7 856.9 557.5 859.1 555.7 860.7 C553.8 862.2 553.3 864.1 550.4 865.0 C547.5 865.9 540.3 868.0 538.3 865.9 C536.2 863.7 537.1 855.7 538.3 852.0Z" fill="none" stroke="#1c1c1c" stroke-width="1.5"/>
<path d="M130.0 460.0 C145.0 443.3 193.3 456.7 220.0 460.0 C246.7 463.3 278.3 474.3 290.0 480.0 C301.7 485.7 289.8 489.0 290.0 494.0 C290.2 499.0 291.3 505.3 291.0 510.0 C290.7 514.7 289.8 517.7 288.0 522.0 C286.2 526.3 281.7 531.3 280.0 536.0 C278.3 540.7 278.0 546.0 278.0 550.0 C278.0 554.0 278.3 557.8 280.0 560.0 C281.7 562.2 286.8 561.0 288.0 563.0 C289.2 565.0 288.7 569.7 287.0 572.0 C285.3 574.3 282.5 575.7 278.0 577.0 C273.5 578.3 273.0 581.2 260.0 580.0 C247.0 578.8 221.7 573.3 200.0 570.0 C178.3 566.7 141.7 578.3 130.0 560.0 C118.3 541.7 115.0 476.7 130.0 460.0Z M303.0 408.7 C310.3 401.4 338.6 403.3 346.5 408.7 C354.5 414.1 349.3 434.9 350.9 440.9 C352.5 446.8 353.9 443.0 356.1 444.3 C358.3 445.7 363.0 447.2 363.9 448.7 C364.8 450.1 362.0 451.3 361.3 453.0 C360.6 454.8 359.4 457.2 359.6 459.1 C359.7 461.0 361.2 462.8 362.2 464.3 C363.2 465.9 364.6 467.1 365.7 468.7 C366.7 470.3 368.0 472.0 368.3 473.9 C368.6 475.8 367.8 477.8 367.4 480.0 C367.0 482.2 365.4 485.1 365.7 487.0 C365.9 488.8 368.4 489.9 369.1 491.3 C369.9 492.8 371.2 494.5 370.0 495.7 C368.8 496.8 365.4 497.5 362.2 498.3 C359.0 499.0 354.2 499.6 350.9 500.0 C347.5 500.4 348.0 500.7 342.2 500.9 C336.4 501.0 322.6 509.0 316.1 500.9 C309.6 492.8 305.2 467.5 303.0 452.2 C300.9 436.8 295.8 415.9 303.0 408.7Z M466.0 328.0 C469.0 319.8 478.7 330.3 484.0 331.0 C489.3 331.7 494.0 330.2 498.0 332.0 C502.0 333.8 505.3 338.3 508.0 342.0 C510.7 345.7 512.3 350.0 514.0 354.0 C515.7 358.0 517.5 362.0 518.0 366.0 C518.5 370.0 518.3 375.2 517.0 378.0 C515.7 380.8 513.8 382.3 510.0 383.0 C506.2 383.7 498.7 382.5 494.0 382.0 C489.3 381.5 486.7 380.3 482.0 380.0 C477.3 379.7 468.7 388.7 466.0 380.0 C463.3 371.3 463.0 336.2 466.0 328.0Z M400.0 416.0 C403.0 412.7 411.7 410.0 418.0 408.0 C424.3 406.0 434.5 403.8 438.0 404.0 C441.5 404.2 438.3 406.7 439.0 409.0 C439.7 411.3 442.2 415.3 442.0 418.0 C441.8 420.7 440.3 423.5 438.0 425.0 C435.7 426.5 431.7 425.8 428.0 427.0 C424.3 428.2 419.3 431.7 416.0 432.0 C412.7 432.3 410.7 429.7 408.0 429.0 C405.3 428.3 401.3 430.2 400.0 428.0 C398.7 425.8 397.0 419.3 400.0 416.0Z M600.0 386.0 C606.3 384.3 621.5 383.7 626.0 386.0 C630.5 388.3 627.7 396.3 627.0 400.0 C626.3 403.7 624.5 405.7 622.0 408.0 C619.5 410.3 615.7 413.0 612.0 414.0 C608.3 415.0 603.3 415.0 600.0 414.0 C596.7 413.0 594.0 411.0 592.0 408.0 C590.0 405.0 586.7 399.7 588.0 396.0 C589.3 392.3 593.7 387.7 600.0 386.0Z M642.0 502.0 C643.0 500.0 646.2 498.0 648.0 498.0 C649.8 498.0 651.7 500.0 653.0 502.0 C654.3 504.0 656.0 507.7 656.0 510.0 C656.0 512.3 654.7 515.0 653.0 516.0 C651.3 517.0 647.8 517.0 646.0 516.0 C644.2 515.0 642.7 512.3 642.0 510.0 C641.3 507.7 641.0 504.0 642.0 502.0Z M582.0 375.0 C583.2 373.0 585.7 371.5 588.0 372.0 C590.3 372.5 594.0 375.3 596.0 378.0 C598.0 380.7 599.3 382.0 600.0 388.0 C600.7 394.0 601.7 410.7 600.0 414.0 C598.3 417.3 592.7 411.0 590.0 408.0 C587.3 405.0 585.5 400.0 584.0 396.0 C582.5 392.0 581.3 387.5 581.0 384.0 C580.7 380.5 580.8 377.0 582.0 375.0Z M216.0 548.0 C225.0 546.5 272.0 545.7 284.0 548.0 C296.0 550.3 287.7 558.0 288.0 562.0 C288.3 566.0 287.7 569.8 286.0 572.0 C284.3 574.2 282.3 575.3 278.0 575.0 C273.7 574.7 265.7 571.7 260.0 570.0 C254.3 568.3 249.0 567.2 244.0 565.0 C239.0 562.8 234.7 559.8 230.0 557.0 C225.3 554.2 207.0 549.5 216.0 548.0Z M294.0 630.0 C295.0 623.8 301.7 611.0 306.0 607.0 C310.3 603.0 315.7 605.5 320.0 606.0 C324.3 606.5 329.0 610.7 332.0 610.0 C335.0 609.3 335.7 603.8 338.0 602.0 C340.3 600.2 344.0 598.7 346.0 599.0 C348.0 599.3 350.3 602.2 350.0 604.0 C349.7 605.8 344.3 607.7 344.0 610.0 C343.7 612.3 345.3 615.8 348.0 618.0 C350.7 620.2 356.3 621.3 360.0 623.0 C363.7 624.7 367.3 626.2 370.0 628.0 C372.7 629.8 374.0 631.0 376.0 634.0 C378.0 637.0 380.7 642.3 382.0 646.0 C383.3 649.7 384.7 653.5 384.0 656.0 C383.3 658.5 380.3 660.0 378.0 661.0 C375.7 662.0 372.0 659.8 370.0 662.0 C368.0 664.2 368.3 670.7 366.0 674.0 C363.7 677.3 358.8 681.7 356.0 682.0 C353.2 682.3 350.3 678.7 349.0 676.0 C347.7 673.3 347.8 669.0 348.0 666.0 C348.2 663.0 351.0 659.8 350.0 658.0 C349.0 656.2 344.5 654.0 342.0 655.0 C339.5 656.0 338.7 662.8 335.0 664.0 C331.3 665.2 325.8 665.3 320.0 662.0 C314.2 658.7 304.3 649.3 300.0 644.0 C295.7 638.7 293.0 636.2 294.0 630.0Z M312.0 589.0 C313.0 586.8 321.0 586.3 324.0 587.0 C327.0 587.7 329.7 591.0 330.0 593.0 C330.3 595.0 328.0 597.8 326.0 599.0 C324.0 600.2 320.3 601.7 318.0 600.0 C315.7 598.3 311.0 591.2 312.0 589.0Z M290.0 598.0 C291.3 596.5 297.3 592.7 300.0 592.0 C302.7 591.3 306.0 592.7 306.0 594.0 C306.0 595.3 302.3 598.8 300.0 600.0 C297.7 601.2 293.7 601.3 292.0 601.0 C290.3 600.7 288.7 599.5 290.0 598.0Z M298.0 564.0 C299.3 561.0 305.5 555.3 308.0 554.0 C310.5 552.7 313.0 553.7 313.0 556.0 C313.0 558.3 310.2 565.3 308.0 568.0 C305.8 570.7 301.7 572.7 300.0 572.0 C298.3 571.3 296.7 567.0 298.0 564.0Z M310.0 748.0 C313.5 742.5 325.3 748.3 331.0 747.0 C336.7 745.7 339.5 741.8 344.0 740.0 C348.5 738.2 353.7 737.3 358.0 736.0 C362.3 734.7 366.0 733.7 370.0 732.0 C374.0 730.3 378.0 727.7 382.0 726.0 C386.0 724.3 390.7 723.3 394.0 722.0 C397.3 720.7 399.7 719.7 402.0 718.0 C404.3 716.3 406.8 714.3 408.0 712.0 C409.2 709.7 409.5 706.0 409.0 704.0 C408.5 702.0 405.7 701.7 405.0 700.0 C404.3 698.3 400.8 695.3 405.0 694.0 C409.2 692.7 421.8 689.0 430.0 692.0 C438.2 695.0 448.7 703.0 454.0 712.0 C459.3 721.0 461.7 740.7 462.0 746.0 C462.3 751.3 459.3 744.8 456.0 744.0 C452.7 743.2 446.3 742.2 442.0 741.0 C437.7 739.8 433.3 738.5 430.0 737.0 C426.7 735.5 425.3 733.5 422.0 732.0 C418.7 730.5 413.7 728.8 410.0 728.0 C406.3 727.2 402.7 726.3 400.0 727.0 C397.3 727.7 396.3 729.8 394.0 732.0 C391.7 734.2 388.7 737.3 386.0 740.0 C383.3 742.7 380.7 745.3 378.0 748.0 C375.3 750.7 372.7 753.8 370.0 756.0 C367.3 758.2 364.2 759.2 362.0 761.0 C359.8 762.8 357.5 765.0 357.0 767.0 C356.5 769.0 360.2 770.8 359.0 773.0 C357.8 775.2 358.2 778.8 350.0 780.0 C341.8 781.2 316.7 785.3 310.0 780.0 C303.3 774.7 306.5 753.5 310.0 748.0Z M298.0 764.8 C307.2 736.7 342.8 763.9 352.8 764.8 C362.8 765.7 356.3 768.3 358.0 770.0 C359.8 771.7 361.3 774.1 363.3 775.2 C365.2 776.3 367.8 775.4 369.8 776.5 C371.7 777.6 373.3 779.6 375.0 781.7 C376.7 783.9 378.3 787.4 380.2 789.6 C382.2 791.7 385.2 792.8 386.7 794.8 C388.3 796.7 388.9 799.1 389.3 801.3 C389.8 803.5 388.3 805.4 389.3 807.8 C390.4 810.2 393.7 813.9 395.9 815.7 C398.0 817.4 401.0 817.0 402.4 818.3 C403.8 819.6 404.6 821.3 404.3 823.5 C404.1 825.7 401.4 828.5 401.1 831.3 C400.8 834.1 402.0 837.6 402.4 840.4 C402.8 843.3 404.1 845.2 403.7 848.3 C403.3 851.3 401.7 855.7 399.8 858.7 C397.8 861.7 394.1 864.1 392.0 866.5 C389.8 868.9 387.4 870.9 386.7 873.0 C386.1 875.2 386.5 877.6 388.0 879.6 C389.6 881.5 393.3 882.8 395.9 884.8 C398.5 886.7 402.0 889.1 403.7 891.3 C405.4 893.5 406.3 895.4 406.3 897.8 C406.3 900.2 404.6 903.3 403.7 905.7 C402.8 908.0 401.7 909.8 401.1 912.2 C400.4 914.6 400.0 916.5 399.8 920.0 C399.6 923.5 416.7 930.9 399.8 933.0 C382.8 935.2 315.0 961.1 298.0 933.0 C281.1 905.0 288.9 792.8 298.0 764.8Z M366.0 731.0 C368.0 726.3 374.0 729.2 378.0 728.0 C382.0 726.8 386.0 725.7 390.0 724.0 C394.0 722.3 399.0 720.7 402.0 718.0 C405.0 715.3 407.5 711.3 408.0 708.0 C408.5 704.7 405.7 701.3 405.0 698.0 C404.3 694.7 403.2 691.0 404.0 688.0 C404.8 685.0 407.7 682.0 410.0 680.0 C412.3 678.0 415.0 676.8 418.0 676.0 C421.0 675.2 425.0 676.0 428.0 675.0 C431.0 674.0 433.7 672.2 436.0 670.0 C438.3 667.8 440.8 664.7 442.0 662.0 C443.2 659.3 442.0 655.5 443.0 654.0 C444.0 652.5 446.5 652.2 448.0 653.0 C449.5 653.8 451.0 656.8 452.0 659.0 C453.0 661.2 452.0 664.0 454.0 666.0 C456.0 668.0 460.0 670.3 464.0 671.0 C468.0 671.7 473.7 669.3 478.0 670.0 C482.3 670.7 486.7 672.3 490.0 675.0 C493.3 677.7 496.0 682.2 498.0 686.0 C500.0 689.8 500.0 695.8 502.0 698.0 C504.0 700.2 507.7 699.2 510.0 699.0 C512.3 698.8 514.5 695.8 516.0 697.0 C517.5 698.2 518.7 703.2 519.0 706.0 C519.3 708.8 517.2 711.7 518.0 714.0 C518.8 716.3 522.0 717.3 524.0 720.0 C526.0 722.7 529.7 725.0 530.0 730.0 C530.3 735.0 529.3 743.3 526.0 750.0 C522.7 756.7 516.0 765.0 510.0 770.0 C504.0 775.0 493.7 779.0 490.0 780.0 C486.3 781.0 489.3 778.0 488.0 776.0 C486.7 774.0 484.3 770.3 482.0 768.0 C479.7 765.7 476.0 764.3 474.0 762.0 C472.0 759.7 472.0 756.3 470.0 754.0 C468.0 751.7 465.3 749.7 462.0 748.0 C458.7 746.3 454.3 745.0 450.0 744.0 C445.7 743.0 440.7 743.2 436.0 742.0 C431.3 740.8 426.3 739.0 422.0 737.0 C417.7 735.0 413.3 731.8 410.0 730.0 C406.7 728.2 404.7 726.2 402.0 726.0 C399.3 725.8 397.3 727.0 394.0 729.0 C390.7 731.0 385.3 734.8 382.0 738.0 C378.7 741.2 376.7 745.0 374.0 748.0 C371.3 751.0 367.3 758.8 366.0 756.0 C364.7 753.2 364.0 735.7 366.0 731.0Z M366.0 628.0 C367.7 623.3 373.3 631.0 376.0 634.0 C378.7 637.0 380.7 642.3 382.0 646.0 C383.3 649.7 384.7 653.5 384.0 656.0 C383.3 658.5 381.0 660.0 378.0 661.0 C375.0 662.0 368.0 667.5 366.0 662.0 C364.0 656.5 364.3 632.7 366.0 628.0Z M475.4 695.0 C475.4 693.3 477.8 690.0 479.0 690.0 C480.2 690.0 482.6 693.3 482.6 695.0 C482.6 696.7 480.2 700.0 479.0 700.0 C477.8 700.0 475.4 696.7 475.4 695.0Z M580.0 590.0 C581.3 587.7 585.0 586.5 588.0 586.0 C591.0 585.5 595.3 586.3 598.0 587.0 C600.7 587.7 602.3 587.8 604.0 590.0 C605.7 592.2 607.5 596.0 608.0 600.0 C608.5 604.0 608.3 610.8 607.0 614.0 C605.7 617.2 602.2 617.7 600.0 619.0 C597.8 620.3 596.5 622.0 594.0 622.0 C591.5 622.0 587.2 621.0 585.0 619.0 C582.8 617.0 581.8 613.2 581.0 610.0 C580.2 606.8 580.2 603.3 580.0 600.0 C579.8 596.7 578.7 592.3 580.0 590.0Z M409.0 776.0 C410.0 773.3 413.7 769.0 416.0 768.0 C418.3 767.0 421.5 768.0 423.0 770.0 C424.5 772.0 425.8 777.3 425.0 780.0 C424.2 782.7 420.5 785.3 418.0 786.0 C415.5 786.7 411.5 785.7 410.0 784.0 C408.5 782.3 408.0 778.7 409.0 776.0Z M476.9 686.3 C479.0 671.9 486.3 686.8 489.4 687.8 C492.5 688.9 493.6 692.3 495.7 692.5 C497.7 692.8 499.3 689.7 501.9 689.4 C504.5 689.1 509.0 689.7 511.3 691.0 C513.7 692.3 514.7 694.6 516.0 697.2 C517.3 699.8 518.1 703.5 519.1 706.6 C520.2 709.7 521.0 715.3 522.3 716.0 C523.6 716.7 524.9 711.6 527.0 710.5 C529.0 709.5 532.2 709.1 534.8 709.7 C537.4 710.4 541.0 712.3 542.6 714.4 C544.2 716.5 544.2 719.7 544.2 722.3 C544.2 724.9 542.1 727.5 542.6 730.1 C543.1 732.7 546.8 735.3 547.3 737.9 C547.8 740.5 546.5 743.4 545.7 745.7 C545.0 748.1 542.7 749.4 542.6 752.0 C542.5 754.6 544.4 757.7 545.0 761.4 C545.5 765.0 545.1 769.7 545.7 773.9 C546.4 778.1 547.3 783.8 548.9 786.4 C550.4 789.0 553.6 788.3 555.1 789.6 C556.7 790.9 559.0 792.4 558.3 794.3 C557.5 796.1 552.5 798.7 550.4 800.5 C548.3 802.3 547.0 803.4 545.7 805.2 C544.4 807.0 542.6 809.4 542.6 811.5 C542.6 813.6 545.0 815.1 545.7 817.7 C546.5 820.3 547.8 824.3 547.3 827.1 C546.8 830.0 545.0 833.1 542.6 835.0 C540.3 836.8 536.3 838.1 533.2 838.1 C530.1 838.1 526.7 836.5 523.8 835.0 C521.0 833.4 517.7 831.0 516.0 828.7 C514.3 826.3 513.1 823.2 513.7 820.9 C514.2 818.5 516.9 816.2 519.1 814.6 C521.3 813.0 525.4 813.0 527.0 811.5 C528.5 809.9 528.8 807.3 528.5 805.2 C528.3 803.1 527.2 800.3 525.4 799.0 C523.6 797.7 520.4 798.4 517.6 797.4 C514.7 796.3 511.3 794.3 508.2 792.7 C505.0 791.1 501.9 788.5 498.8 788.0 C495.7 787.5 492.0 789.8 489.4 789.6 C486.8 789.3 484.7 788.0 483.1 786.4 C481.6 784.9 481.0 782.3 480.0 780.2 C479.0 778.1 477.4 789.6 476.9 773.9 C476.3 758.3 474.8 700.6 476.9 686.3Z M736.1 500.5 C735.9 498.4 736.8 496.7 737.8 495.4 C738.9 494.2 740.8 493.3 742.3 493.2 C743.9 493.1 745.7 493.7 746.9 494.9 C748.0 496.0 748.9 498.1 749.1 500.0 C749.3 501.8 748.9 504.6 748.0 506.2 C747.1 507.8 745.0 509.3 743.5 509.6 C742.0 509.8 740.2 509.4 739.0 507.9 C737.7 506.4 736.3 502.6 736.1 500.5Z M696.0 534.4 C696.9 532.9 698.6 532.0 700.5 531.0 C702.4 530.1 704.9 529.3 707.3 528.8 C709.8 528.2 713.0 528.6 715.2 527.7 C717.5 526.7 718.6 524.6 720.9 523.1 C723.1 521.6 726.1 519.6 728.8 518.6 C731.4 517.6 734.4 516.9 736.7 516.9 C739.0 516.9 740.8 517.4 742.3 518.6 C743.9 519.8 744.8 522.2 745.7 524.3 C746.7 526.3 747.4 528.4 748.0 531.0 C748.6 533.7 749.1 537.1 749.1 540.1 C749.1 543.1 748.9 546.5 748.0 549.1 C747.1 551.8 745.4 554.0 743.5 555.9 C741.6 557.8 738.8 559.1 736.7 560.4 C734.6 561.8 733.1 562.7 731.0 563.8 C729.0 565.0 726.5 566.5 724.3 567.2 C722.0 568.0 719.6 568.7 717.5 568.3 C715.4 568.0 713.3 566.5 711.8 565.0 C710.3 563.4 709.2 561.4 708.4 559.3 C707.7 557.2 708.2 554.2 707.3 552.5 C706.4 550.8 704.5 550.3 702.8 549.1 C701.1 548.0 698.4 547.2 697.1 545.7 C695.8 544.2 695.1 542.0 694.9 540.1 C694.7 538.2 695.1 535.9 696.0 534.4Z M780.0 578.0 C784.7 606.7 786.7 714.7 780.0 750.0 C773.3 785.3 760.0 783.3 740.0 790.0 C720.0 796.7 673.7 792.3 660.0 790.0 C646.3 787.7 657.0 779.7 658.0 776.0 C659.0 772.3 663.0 770.3 666.0 768.0 C669.0 765.7 673.0 765.0 676.0 762.0 C679.0 759.0 683.5 754.0 684.0 750.0 C684.5 746.0 680.3 741.2 679.0 738.0 C677.7 734.8 677.5 731.8 676.0 731.0 C674.5 730.2 672.3 732.5 670.0 733.0 C667.7 733.5 664.3 734.5 662.0 734.0 C659.7 733.5 656.7 732.0 656.0 730.0 C655.3 728.0 658.0 725.3 658.0 722.0 C658.0 718.7 657.3 714.7 656.0 710.0 C654.7 705.3 651.8 699.3 650.0 694.0 C648.2 688.7 646.0 683.0 645.0 678.0 C644.0 673.0 645.7 667.7 644.0 664.0 C642.3 660.3 638.0 657.0 635.0 656.0 C632.0 655.0 628.2 656.0 626.0 658.0 C623.8 660.0 623.2 664.0 622.0 668.0 C620.8 672.0 620.3 677.7 619.0 682.0 C617.7 686.3 615.8 693.0 614.0 694.0 C612.2 695.0 609.3 690.7 608.0 688.0 C606.7 685.3 605.7 681.7 606.0 678.0 C606.3 674.3 609.8 669.7 610.0 666.0 C610.2 662.3 606.7 658.7 607.0 656.0 C607.3 653.3 608.5 652.3 612.0 650.0 C615.5 647.7 622.3 645.3 628.0 642.0 C633.7 638.7 640.7 634.7 646.0 630.0 C651.3 625.3 657.0 618.3 660.0 614.0 C663.0 609.7 661.3 607.3 664.0 604.0 C666.7 600.7 672.0 597.7 676.0 594.0 C680.0 590.3 685.0 584.5 688.0 582.0 C691.0 579.5 692.0 578.0 694.0 579.0 C696.0 580.0 697.7 585.3 700.0 588.0 C702.3 590.7 704.7 594.0 708.0 595.0 C711.3 596.0 715.0 595.8 720.0 594.0 C725.0 592.2 734.2 585.5 738.0 584.0 C741.8 582.5 740.7 586.0 743.0 585.0 C745.3 584.0 745.8 579.2 752.0 578.0 C758.2 576.8 775.3 549.3 780.0 578.0Z M759.1 687.2 C777.7 694.6 761.4 718.8 759.1 731.7 C756.8 744.7 748.5 759.1 745.2 765.1 C742.0 771.2 741.3 767.0 739.7 767.9 C738.0 768.8 736.6 769.8 735.5 770.7 C734.3 771.6 734.3 772.1 732.7 773.5 C731.1 774.9 728.8 777.4 725.7 779.0 C722.7 780.7 718.3 782.1 714.6 783.2 C710.9 784.4 707.0 784.8 703.5 786.0 C700.0 787.2 696.8 788.3 693.7 790.2 C690.7 792.0 688.2 795.4 685.4 797.1 C682.6 798.9 679.4 801.1 677.0 800.6 C674.7 800.1 671.9 796.3 671.5 794.3 C671.0 792.4 673.3 790.6 674.3 788.8 C675.2 786.9 677.0 785.3 677.0 783.2 C677.0 781.1 676.1 778.1 674.3 776.3 C672.4 774.4 668.9 772.6 665.9 772.1 C662.9 771.6 658.7 773.7 656.2 773.5 C653.6 773.2 651.3 772.1 650.6 770.7 C649.9 769.3 651.3 767.2 652.0 765.1 C652.7 763.0 653.2 760.5 654.8 758.2 C656.4 755.9 659.7 753.5 661.7 751.2 C663.8 748.9 665.4 746.3 667.3 744.3 C669.2 742.2 671.2 740.6 672.9 738.7 C674.5 736.8 676.6 734.5 677.0 733.1 C677.5 731.7 677.3 730.3 675.7 730.3 C674.0 730.3 669.9 732.4 667.3 733.1 C664.8 733.8 662.3 734.8 660.3 734.5 C658.4 734.3 655.9 732.9 655.5 731.7 C655.0 730.6 656.8 729.2 657.6 727.6 C658.4 725.9 660.5 724.6 660.3 722.0 C660.2 719.4 658.0 715.7 656.9 712.3 C655.7 708.8 654.9 705.3 653.4 701.1 C651.9 697.0 630.2 689.5 647.8 687.2 C665.4 684.9 740.6 679.8 759.1 687.2Z M654.8 819.4 C655.0 816.4 657.1 813.1 659.0 811.0 C660.8 809.0 663.4 808.0 665.9 806.9 C668.5 805.7 671.9 803.9 674.3 804.1 C676.6 804.3 678.7 805.9 679.8 808.3 C681.0 810.6 680.8 814.8 681.2 818.0 C681.7 821.2 683.5 825.4 682.6 827.7 C681.7 830.1 678.4 831.0 675.7 831.9 C672.9 832.8 668.9 833.8 665.9 833.3 C662.9 832.8 659.4 831.4 657.6 829.1 C655.7 826.8 654.6 822.4 654.8 819.4Z M724.3 805.5 C725.7 803.9 729.0 803.4 731.3 802.7 C733.6 802.0 735.9 801.8 738.3 801.3 C740.6 800.8 742.7 798.8 745.2 799.9 C747.8 801.1 751.2 806.2 753.6 808.3 C755.9 810.3 753.6 811.3 759.1 812.4 C764.7 813.6 782.3 807.8 787.0 815.2 C791.6 822.6 795.5 850.0 787.0 857.0 C778.4 863.9 744.3 859.0 735.5 857.0 C726.7 854.9 734.1 847.9 734.1 844.4 C734.1 841.0 735.9 838.6 735.5 836.1 C735.0 833.5 732.9 831.4 731.3 829.1 C729.7 826.8 727.1 825.0 725.7 822.2 C724.3 819.4 723.2 815.2 723.0 812.4 C722.7 809.7 723.0 807.1 724.3 805.5Z M617.2 765.1 C618.8 761.2 624.5 763.7 627.0 765.1 C629.4 766.5 631.2 770.0 631.8 773.5 C632.4 777.0 631.7 783.2 630.4 786.0 C629.2 788.8 626.4 789.7 624.2 790.2 C622.0 790.6 618.4 793.0 617.2 788.8 C616.1 784.6 615.6 769.1 617.2 765.1Z M543.5 767.2 C553.9 768.6 545.3 772.8 546.3 775.6 C547.2 778.3 548.6 781.4 549.0 783.9 C549.5 786.5 548.3 788.6 549.0 790.9 C549.7 793.2 552.1 795.3 553.2 797.8 C554.4 800.4 556.2 802.9 556.0 806.2 C555.8 809.4 553.4 813.6 551.8 817.3 C550.2 821.0 547.7 824.7 546.3 828.4 C544.9 832.1 543.7 836.3 543.5 839.6 C543.2 842.8 543.9 845.6 544.9 847.9 C545.8 850.2 548.1 851.3 549.0 853.5 C550.0 855.7 551.4 859.0 550.4 861.1 C549.5 863.2 546.0 864.5 543.5 866.0 C540.9 867.5 537.4 869.0 535.1 870.2 C532.8 871.3 531.9 872.0 529.6 873.0 C527.2 873.9 524.0 875.0 521.2 875.7 C518.4 876.4 515.2 876.9 512.9 877.1 C510.6 877.4 508.5 878.3 507.3 877.1 C506.1 876.0 506.6 872.7 505.9 870.2 C505.2 867.6 503.8 864.6 503.1 861.8 C502.4 859.0 501.5 856.3 501.7 853.5 C502.0 850.7 503.8 847.9 504.5 845.1 C505.2 842.3 506.1 839.6 505.9 836.8 C505.7 834.0 503.8 831.2 503.1 828.4 C502.4 825.7 501.7 822.6 501.7 820.1 C501.7 817.5 502.0 814.8 503.1 813.1 C504.3 811.5 506.1 810.9 508.7 810.3 C511.2 809.8 516.3 810.3 518.4 809.7 C520.5 809.0 521.2 807.2 521.2 806.2 C521.2 805.1 519.8 804.1 518.4 803.4 C517.0 802.7 515.4 803.2 512.9 802.0 C510.3 800.8 505.9 798.1 503.1 796.4 C500.3 794.8 498.3 792.7 496.2 792.3 C494.1 791.8 492.0 792.4 490.6 793.7 C489.2 794.9 489.4 798.4 487.8 799.9 C486.2 801.4 483.2 802.6 480.9 802.7 C478.6 802.8 475.5 801.9 473.9 800.6 C472.3 799.3 471.4 796.9 471.1 795.0 C470.9 793.2 471.4 791.3 472.5 789.5 C473.7 787.6 476.2 787.6 478.1 783.9 C479.9 780.2 472.8 770.0 483.7 767.2 C494.6 764.4 533.0 765.8 543.5 767.2Z M457.2 898.0 C459.1 891.4 464.9 897.0 468.3 897.3 C471.8 897.7 475.1 898.6 478.1 900.1 C481.1 901.6 483.9 903.9 486.4 906.3 C489.0 908.8 491.8 911.9 493.4 914.7 C495.0 917.5 495.9 919.3 496.2 923.0 C496.4 926.8 501.3 934.6 494.8 937.0 C488.3 939.3 463.5 943.4 457.2 937.0 C451.0 930.5 455.4 904.6 457.2 898.0Z M420.0 910.0 C421.3 903.7 421.7 904.0 424.0 902.0 C426.3 900.0 430.0 898.3 434.0 898.0 C438.0 897.7 443.0 899.2 448.0 900.0 C453.0 900.8 459.3 902.0 464.0 903.0 C468.7 904.0 473.3 904.2 476.0 906.0 C478.7 907.8 478.0 912.0 480.0 914.0 C482.0 916.0 486.0 916.0 488.0 918.0 C490.0 920.0 492.0 923.0 492.0 926.0 C492.0 929.0 489.3 932.0 488.0 936.0 C486.7 940.0 488.7 947.7 484.0 950.0 C479.3 952.3 471.3 951.7 460.0 950.0 C448.7 948.3 422.7 946.7 416.0 940.0 C409.3 933.3 418.7 916.3 420.0 910.0Z M514.0 948.0 C514.2 946.6 515.7 944.7 517.0 944.0 C518.3 943.3 520.8 943.2 522.0 944.0 C523.2 944.8 524.2 947.5 524.0 949.0 C523.8 950.5 522.3 952.4 521.0 953.0 C519.7 953.6 517.2 953.2 516.0 952.4 C514.8 951.6 513.8 949.4 514.0 948.0Z M852.2 931.3 C853.5 929.3 856.1 927.4 858.7 926.1 C861.3 924.8 865.4 923.7 867.8 923.5 C870.2 923.3 871.8 923.5 873.0 924.8 C874.2 926.1 875.0 929.1 875.0 931.3 C875.0 933.5 872.7 935.9 873.0 937.8 C873.4 939.8 875.7 941.5 877.0 943.0 C878.3 944.6 879.3 945.2 880.9 947.0 C882.4 948.7 884.3 951.5 886.1 953.5 C887.8 955.4 890.0 956.5 891.3 958.7 C892.6 960.9 893.9 963.9 893.9 966.5 C893.9 969.1 892.2 971.5 891.3 974.3 C890.4 977.2 890.0 980.9 888.7 983.5 C887.4 986.1 885.4 988.3 883.5 990.0 C881.5 991.7 879.1 993.6 877.0 993.9 C874.8 994.2 872.4 993.3 870.4 992.0 C868.5 990.7 866.7 988.4 865.2 986.1 C863.7 983.8 862.3 980.9 861.3 978.3 C860.3 975.7 860.0 973.3 859.3 970.4 C858.7 967.6 858.2 964.1 857.4 961.3 C856.6 958.5 855.7 956.1 854.8 953.5 C853.9 950.9 852.8 948.3 852.2 945.7 C851.5 943.0 850.9 940.2 850.9 937.8 C850.9 935.4 850.9 933.3 852.2 931.3Z M538.3 852.0 C539.4 848.2 542.8 846.2 545.2 843.3 C547.7 840.4 550.6 837.5 553.0 834.6 C555.5 831.7 557.8 828.8 560.0 825.9 C562.2 823.0 564.6 820.1 566.1 817.2 C567.5 814.3 567.2 811.1 568.7 808.5 C570.1 805.9 572.6 803.3 574.8 801.5 C577.0 799.8 579.4 799.3 581.7 798.0 C584.1 796.7 587.0 795.6 588.7 793.7 C590.4 791.8 590.9 789.1 592.2 786.7 C593.5 784.4 595.1 782.5 596.5 779.8 C598.0 777.0 599.4 772.8 600.9 770.2 C602.3 767.7 603.5 766.5 605.0 764.5 C606.6 762.4 609.7 760.1 610.0 758.0 C610.3 756.0 606.4 753.3 607.0 752.0 C607.5 750.6 611.8 749.2 613.0 750.0 C614.3 750.8 614.4 754.3 614.5 756.7 C614.7 759.1 612.8 762.7 613.9 764.5 C615.0 766.3 618.9 766.1 621.0 767.6 C623.2 769.1 625.4 771.5 627.0 773.7 C628.5 775.9 630.1 778.5 630.4 780.7 C630.7 782.8 629.9 785.1 628.7 786.7 C627.5 788.3 625.2 788.9 623.5 790.2 C621.7 791.5 619.9 793.0 618.3 794.6 C616.7 796.2 615.4 797.9 613.9 799.8 C612.5 801.7 610.7 803.6 609.6 805.9 C608.4 808.2 607.7 811.2 607.0 813.7 C606.2 816.2 606.2 818.6 605.2 820.7 C604.2 822.7 601.9 823.7 600.9 825.9 C599.9 828.0 600.0 831.1 599.1 833.7 C598.3 836.3 597.4 839.3 595.7 841.5 C593.9 843.7 591.0 845.0 588.7 846.7 C586.4 848.5 584.1 850.9 581.7 852.0 C579.4 853.0 577.1 852.8 574.8 852.8 C572.5 852.8 570.0 851.5 567.8 852.0 C565.7 852.4 563.8 854.0 561.7 855.4 C559.7 856.9 557.5 859.1 555.7 860.7 C553.8 862.2 553.3 864.1 550.4 865.0 C547.5 865.9 540.3 868.0 538.3 865.9 C536.2 863.7 537.1 855.7 538.3 852.0Z" fill="#b0d8c0"/>
<path d="M328.0 622.0 C328.7 620.3 331.0 617.3 333.0 617.0 C335.0 616.7 337.8 618.3 340.0 620.0 C342.2 621.7 345.3 625.0 346.0 627.0 C346.7 629.0 345.8 631.3 344.0 632.0 C342.2 632.7 337.5 631.8 335.0 631.0 C332.5 630.2 330.2 628.5 329.0 627.0 C327.8 625.5 327.3 623.7 328.0 622.0Z M450.0 713.0 C450.3 711.5 452.3 709.5 454.0 709.0 C455.7 708.5 458.7 709.2 460.0 710.0 C461.3 710.8 462.3 712.7 462.0 714.0 C461.7 715.3 459.7 717.3 458.0 718.0 C456.3 718.7 453.3 718.8 452.0 718.0 C450.7 717.2 449.7 714.5 450.0 713.0Z M699.3 749.8 C700.0 748.7 704.4 747.0 706.3 745.7 C708.1 744.3 709.5 744.0 710.4 741.5 C711.4 738.9 710.7 733.1 711.8 730.3 C713.0 727.6 715.3 726.4 717.4 724.8 C719.5 723.2 722.0 722.2 724.3 720.6 C726.7 719.0 728.5 716.9 731.3 715.0 C734.1 713.2 738.3 710.2 741.0 709.5 C743.8 708.8 745.0 709.5 748.0 710.9 C751.0 712.3 757.3 708.3 759.1 717.8 C761.0 727.3 761.4 759.6 759.1 767.9 C756.8 776.3 748.9 767.2 745.2 767.9 C741.5 768.6 739.4 772.1 736.9 772.1 C734.3 772.1 732.2 769.1 729.9 767.9 C727.6 766.8 725.3 766.5 723.0 765.1 C720.6 763.7 718.3 761.2 716.0 759.6 C713.7 757.9 711.4 756.6 709.0 755.4 C706.7 754.2 703.7 753.5 702.1 752.6 C700.5 751.7 698.6 751.0 699.3 749.8Z M668.7 761.0 C668.7 759.8 673.8 757.9 675.7 755.4 C677.5 752.8 678.4 747.5 679.8 745.7 C681.2 743.8 683.1 743.6 684.0 744.3 C684.9 745.0 684.9 747.7 685.4 749.8 C685.9 751.9 685.2 754.5 686.8 756.8 C688.4 759.1 693.6 761.4 695.1 763.7 C696.6 766.1 696.8 769.8 695.8 770.7 C694.9 771.6 692.0 770.2 689.6 769.3 C687.1 768.4 683.5 766.3 681.2 765.1 C678.9 764.0 677.7 763.0 675.7 762.3 C673.6 761.7 668.7 762.1 668.7 761.0Z M662.4 781.1 C662.4 780.3 663.5 779.0 664.5 778.6 C665.6 778.2 667.6 778.2 668.7 778.6 C669.8 779.0 671.2 780.3 671.2 781.1 C671.2 782.0 669.8 783.2 668.7 783.6 C667.6 784.1 665.6 784.1 664.5 783.6 C663.5 783.2 662.4 782.0 662.4 781.1Z M661.7 725.5 C661.7 724.7 662.5 723.5 663.4 723.1 C664.3 722.7 666.1 722.7 667.0 723.1 C667.9 723.5 668.7 724.7 668.7 725.5 C668.7 726.3 667.9 727.4 667.0 727.8 C666.1 728.2 664.3 728.2 663.4 727.8 C662.5 727.4 661.7 726.3 661.7 725.5Z" fill="none" stroke="#1c1c1c" stroke-width="1.5"/>
<path d="M328.0 622.0 C328.7 620.3 331.0 617.3 333.0 617.0 C335.0 616.7 337.8 618.3 340.0 620.0 C342.2 621.7 345.3 625.0 346.0 627.0 C346.7 629.0 345.8 631.3 344.0 632.0 C342.2 632.7 337.5 631.8 335.0 631.0 C332.5 630.2 330.2 628.5 329.0 627.0 C327.8 625.5 327.3 623.7 328.0 622.0Z M450.0 713.0 C450.3 711.5 452.3 709.5 454.0 709.0 C455.7 708.5 458.7 709.2 460.0 710.0 C461.3 710.8 462.3 712.7 462.0 714.0 C461.7 715.3 459.7 717.3 458.0 718.0 C456.3 718.7 453.3 718.8 452.0 718.0 C450.7 717.2 449.7 714.5 450.0 713.0Z M699.3 749.8 C700.0 748.7 704.4 747.0 706.3 745.7 C708.1 744.3 709.5 744.0 710.4 741.5 C711.4 738.9 710.7 733.1 711.8 730.3 C713.0 727.6 715.3 726.4 717.4 724.8 C719.5 723.2 722.0 722.2 724.3 720.6 C726.7 719.0 728.5 716.9 731.3 715.0 C734.1 713.2 738.3 710.2 741.0 709.5 C743.8 708.8 745.0 709.5 748.0 710.9 C751.0 712.3 757.3 708.3 759.1 717.8 C761.0 727.3 761.4 759.6 759.1 767.9 C756.8 776.3 748.9 767.2 745.2 767.9 C741.5 768.6 739.4 772.1 736.9 772.1 C734.3 772.1 732.2 769.1 729.9 767.9 C727.6 766.8 725.3 766.5 723.0 765.1 C720.6 763.7 718.3 761.2 716.0 759.6 C713.7 757.9 711.4 756.6 709.0 755.4 C706.7 754.2 703.7 753.5 702.1 752.6 C700.5 751.7 698.6 751.0 699.3 749.8Z M668.7 761.0 C668.7 759.8 673.8 757.9 675.7 755.4 C677.5 752.8 678.4 747.5 679.8 745.7 C681.2 743.8 683.1 743.6 684.0 744.3 C684.9 745.0 684.9 747.7 685.4 749.8 C685.9 751.9 685.2 754.5 686.8 756.8 C688.4 759.1 693.6 761.4 695.1 763.7 C696.6 766.1 696.8 769.8 695.8 770.7 C694.9 771.6 692.0 770.2 689.6 769.3 C687.1 768.4 683.5 766.3 681.2 765.1 C678.9 764.0 677.7 763.0 675.7 762.3 C673.6 761.7 668.7 762.1 668.7 761.0Z M662.4 781.1 C662.4 780.3 663.5 779.0 664.5 778.6 C665.6 778.2 667.6 778.2 668.7 778.6 C669.8 779.0 671.2 780.3 671.2 781.1 C671.2 782.0 669.8 783.2 668.7 783.6 C667.6 784.1 665.6 784.1 664.5 783.6 C663.5 783.2 662.4 782.0 662.4 781.1Z M661.7 725.5 C661.7 724.7 662.5 723.5 663.4 723.1 C664.3 722.7 666.1 722.7 667.0 723.1 C667.9 723.5 668.7 724.7 668.7 725.5 C668.7 726.3 667.9 727.4 667.0 727.8 C666.1 728.2 664.3 728.2 663.4 727.8 C662.5 727.4 661.7 726.3 661.7 725.5Z" fill="#cce8b0"/>
<path d="M130.0 470.0 C154.7 463.7 253.3 468.3 278.0 472.0 C302.7 475.7 277.2 487.3 278.0 492.0 C278.8 496.7 282.7 496.6 283.0 500.0 C283.3 503.4 282.5 508.5 280.0 512.4 C277.5 516.3 271.9 521.2 267.8 523.4 C263.7 525.6 259.0 525.4 255.6 525.8 C252.2 526.2 249.0 525.2 247.2 525.8 C245.4 526.4 244.2 528.0 244.6 529.4 C245.0 530.8 247.1 532.6 249.6 534.2 C252.1 535.8 257.0 537.0 259.4 539.2 C261.8 541.4 262.8 545.0 264.2 547.6 C265.6 550.2 268.2 553.2 267.8 555.0 C267.4 556.8 264.8 558.2 261.8 558.6 C258.8 559.0 253.7 558.8 249.6 557.4 C245.5 556.0 241.5 552.4 237.4 550.0 C233.3 547.6 230.1 544.4 225.2 542.8 C220.3 541.2 213.3 541.6 208.2 540.4 C203.1 539.2 197.6 537.4 194.8 535.4 C192.0 533.4 192.2 531.0 191.2 528.2 C190.2 525.4 190.5 521.1 188.6 518.4 C186.7 515.7 184.8 513.4 180.0 512.0 C175.2 510.6 168.3 510.3 160.0 510.0 C151.7 509.7 135.0 516.7 130.0 510.0 C125.0 503.3 105.3 476.3 130.0 470.0Z M303.0 408.7 C308.7 406.5 331.3 411.6 337.0 413.0 C342.6 414.5 336.7 414.8 337.0 417.4 C337.2 420.0 338.5 425.2 338.7 428.7 C338.9 432.2 338.6 434.9 338.3 438.3 C338.0 441.6 337.6 446.1 337.0 448.7 C336.3 451.3 335.1 452.6 334.3 453.9 C333.6 455.2 333.6 456.4 332.6 456.5 C331.6 456.6 330.0 454.9 328.3 454.3 C326.5 453.8 324.9 453.4 322.2 453.0 C319.4 452.7 314.9 456.7 311.7 452.2 C308.6 447.7 304.5 433.3 303.0 426.1 C301.6 418.8 297.4 410.9 303.0 408.7Z M332.6 456.5 C334.5 455.8 336.5 458.6 338.7 460.0 C340.9 461.4 343.6 463.5 345.7 465.2 C347.7 467.0 349.6 468.7 350.9 470.4 C352.2 472.2 352.6 473.9 353.5 475.7 C354.3 477.4 355.1 479.3 356.1 480.9 C357.1 482.5 359.0 483.8 359.6 485.2 C360.1 486.7 360.4 488.4 359.6 489.6 C358.7 490.7 356.7 491.4 354.3 492.2 C352.0 492.9 348.3 493.6 345.7 493.9 C343.0 494.3 341.0 494.4 338.7 494.3 C336.4 494.3 333.8 494.6 331.7 493.5 C329.7 492.4 327.8 489.9 326.5 487.8 C325.3 485.7 324.6 483.6 324.3 480.9 C324.1 478.1 324.3 474.1 324.8 471.3 C325.3 468.6 326.1 466.8 327.4 464.3 C328.7 461.9 330.7 457.2 332.6 456.5Z M466.0 342.0 C467.7 337.3 473.3 342.8 476.0 342.0 C478.7 341.2 479.3 338.2 482.0 337.0 C484.7 335.8 489.0 334.5 492.0 335.0 C495.0 335.5 498.0 337.5 500.0 340.0 C502.0 342.5 504.3 347.0 504.0 350.0 C503.7 353.0 499.7 355.3 498.0 358.0 C496.3 360.7 495.3 363.0 494.0 366.0 C492.7 369.0 492.0 375.0 490.0 376.0 C488.0 377.0 484.7 373.0 482.0 372.0 C479.3 371.0 476.7 370.3 474.0 370.0 C471.3 369.7 467.3 374.7 466.0 370.0 C464.7 365.3 464.3 346.7 466.0 342.0Z M604.0 401.0 C605.3 400.2 607.8 400.0 610.0 400.0 C612.2 400.0 615.8 400.0 617.0 401.0 C618.2 402.0 617.8 404.7 617.0 406.0 C616.2 407.3 613.8 408.7 612.0 409.0 C610.2 409.3 607.7 408.7 606.0 408.0 C604.3 407.3 602.3 406.2 602.0 405.0 C601.7 403.8 602.7 401.8 604.0 401.0Z M266.0 548.0 C270.3 548.7 268.3 550.3 268.0 552.0 C267.7 553.7 266.7 557.3 264.0 558.0 C261.3 558.7 255.7 557.7 252.0 556.0 C248.3 554.3 239.7 549.3 242.0 548.0 C244.3 546.7 261.7 547.3 266.0 548.0Z M366.0 644.0 C366.3 641.3 368.7 640.0 370.0 640.0 C371.3 640.0 373.0 641.7 374.0 644.0 C375.0 646.3 376.2 651.5 376.0 654.0 C375.8 656.5 374.3 658.7 373.0 659.0 C371.7 659.3 369.2 658.5 368.0 656.0 C366.8 653.5 365.7 646.7 366.0 644.0Z M311.1 783.0 C317.4 778.7 330.7 783.5 335.9 783.0 C341.1 782.6 340.0 781.4 342.4 780.4 C344.8 779.5 347.6 777.8 350.2 777.2 C352.8 776.5 355.9 776.0 358.0 776.5 C360.2 777.1 361.7 778.0 363.3 780.4 C364.8 782.8 365.4 787.8 367.2 790.9 C368.9 793.9 372.0 795.7 373.7 798.7 C375.4 801.7 376.3 806.1 377.6 809.1 C378.9 812.2 379.8 814.8 381.5 817.0 C383.3 819.1 385.4 820.9 388.0 822.2 C390.7 823.5 395.4 823.9 397.2 824.8 C398.9 825.7 398.9 825.9 398.5 827.4 C398.0 828.9 395.4 831.3 394.6 833.9 C393.7 836.5 393.7 840.2 393.3 843.0 C392.8 845.9 393.0 847.8 392.0 850.9 C390.9 853.9 388.7 858.0 386.7 861.3 C384.8 864.6 381.5 867.6 380.2 870.4 C378.9 873.3 378.3 875.9 378.9 878.3 C379.6 880.7 383.0 882.8 384.1 884.8 C385.2 886.7 385.9 888.3 385.4 890.0 C385.0 891.7 382.8 893.5 381.5 895.2 C380.2 897.0 378.0 898.7 377.6 900.4 C377.2 902.2 377.8 904.1 378.9 905.7 C380.0 907.2 381.7 908.5 384.1 909.6 C386.5 910.7 391.3 910.4 393.3 912.2 C395.2 913.9 395.4 916.5 395.9 920.0 C396.3 923.5 412.2 930.9 395.9 933.0 C379.6 935.2 314.3 953.7 298.0 933.0 C281.7 912.4 295.9 834.1 298.0 809.1 C300.2 784.1 304.8 787.4 311.1 783.0Z M366.0 630.0 C367.3 627.0 372.3 635.0 374.0 638.0 C375.7 641.0 376.2 645.3 376.0 648.0 C375.8 650.7 374.7 652.7 373.0 654.0 C371.3 655.3 367.2 660.0 366.0 656.0 C364.8 652.0 364.7 633.0 366.0 630.0Z M426.0 706.0 C427.0 704.2 429.7 702.3 432.0 702.0 C434.3 701.7 437.7 702.7 440.0 704.0 C442.3 705.3 445.0 707.7 446.0 710.0 C447.0 712.3 447.3 715.8 446.0 718.0 C444.7 720.2 440.7 722.7 438.0 723.0 C435.3 723.3 432.0 721.7 430.0 720.0 C428.0 718.3 426.7 715.3 426.0 713.0 C425.3 710.7 425.0 707.8 426.0 706.0Z M449.0 682.0 C450.3 679.5 452.5 677.7 456.0 677.0 C459.5 676.3 465.7 677.0 470.0 678.0 C474.3 679.0 478.7 681.0 482.0 683.0 C485.3 685.0 488.0 686.8 490.0 690.0 C492.0 693.2 492.7 698.7 494.0 702.0 C495.3 705.3 495.7 707.7 498.0 710.0 C500.3 712.3 504.7 714.7 508.0 716.0 C511.3 717.3 515.0 715.7 518.0 718.0 C521.0 720.3 525.3 724.7 526.0 730.0 C526.7 735.3 524.7 741.7 522.0 750.0 C519.3 758.3 513.0 775.0 510.0 780.0 C507.0 785.0 505.3 781.7 504.0 780.0 C502.7 778.3 503.0 773.0 502.0 770.0 C501.0 767.0 500.0 765.3 498.0 762.0 C496.0 758.7 492.3 753.3 490.0 750.0 C487.7 746.7 486.0 744.7 484.0 742.0 C482.0 739.3 480.0 737.0 478.0 734.0 C476.0 731.0 473.3 727.7 472.0 724.0 C470.7 720.3 471.3 715.2 470.0 712.0 C468.7 708.8 466.7 707.0 464.0 705.0 C461.3 703.0 456.7 702.2 454.0 700.0 C451.3 697.8 448.8 695.0 448.0 692.0 C447.2 689.0 447.7 684.5 449.0 682.0Z M585.0 593.0 C586.0 591.5 589.8 590.0 592.0 590.0 C594.2 590.0 597.2 591.3 598.0 593.0 C598.8 594.7 598.2 598.3 597.0 600.0 C595.8 601.7 592.8 603.2 591.0 603.0 C589.2 602.8 587.0 600.7 586.0 599.0 C585.0 597.3 584.0 594.5 585.0 593.0Z M476.9 684.7 C478.4 675.3 483.4 686.5 486.3 689.4 C489.1 692.3 491.6 698.3 493.9 701.9 C496.3 705.6 498.0 709.0 500.3 711.3 C502.7 713.7 505.1 714.9 508.0 716.0 C511.0 717.1 515.4 717.5 518.0 718.0 C520.7 718.6 522.1 719.9 523.8 719.1 C525.6 718.4 526.4 714.6 528.5 713.7 C530.6 712.7 534.4 712.7 536.3 713.7 C538.3 714.6 539.7 717.0 540.3 719.1 C540.8 721.2 540.1 724.1 539.5 726.2 C538.8 728.3 536.3 729.4 536.3 731.7 C536.3 733.9 538.7 736.6 539.5 739.5 C540.3 742.3 540.5 746.3 541.0 748.9 C541.6 751.5 542.1 752.5 542.6 755.1 C543.1 757.7 543.9 761.4 544.2 764.5 C544.4 767.7 543.9 770.8 544.2 773.9 C544.4 777.0 545.7 780.2 545.7 783.3 C545.7 786.4 545.5 790.6 544.2 792.7 C542.9 794.8 540.8 795.6 537.9 795.8 C535.0 796.1 530.1 794.8 527.0 794.3 C523.8 793.7 521.7 794.0 519.1 792.7 C516.5 791.4 513.9 788.3 511.3 786.4 C508.7 784.6 505.8 783.6 503.5 781.7 C501.1 779.9 499.3 777.8 497.2 775.5 C495.1 773.1 492.8 770.5 491.0 767.7 C489.1 764.8 488.1 761.1 486.3 758.3 C484.4 755.4 481.6 752.5 480.0 750.4 C478.4 748.3 477.4 756.7 476.9 745.7 C476.3 734.8 475.3 694.1 476.9 684.7Z M517.6 820.9 C518.1 818.8 520.2 817.2 522.3 816.2 C524.3 815.1 527.5 814.3 530.1 814.6 C532.7 814.9 536.1 816.2 537.9 817.7 C539.7 819.3 540.8 821.9 541.0 824.0 C541.3 826.1 540.8 828.4 539.5 830.3 C538.2 832.1 535.6 834.3 533.2 835.0 C530.9 835.6 527.7 835.2 525.4 834.2 C523.0 833.1 520.4 830.9 519.1 828.7 C517.8 826.5 517.0 823.0 517.6 820.9Z M713.0 533.3 C714.3 532.0 716.5 530.3 718.6 528.8 C720.7 527.3 723.1 525.6 725.4 524.3 C727.7 522.9 729.9 521.6 732.2 520.9 C734.4 520.1 737.1 519.4 739.0 519.7 C740.8 520.1 742.3 521.4 743.5 523.1 C744.6 524.8 745.2 527.1 745.7 529.9 C746.3 532.7 747.1 536.9 746.9 540.1 C746.7 543.3 745.7 546.5 744.6 549.1 C743.5 551.8 742.0 554.0 740.1 555.9 C738.2 557.8 735.8 559.1 733.3 560.4 C730.9 561.8 727.8 563.3 725.4 563.8 C722.9 564.4 720.5 564.4 718.6 563.8 C716.7 563.3 715.2 561.9 714.1 560.4 C713.0 558.9 712.4 556.9 711.8 554.8 C711.3 552.7 711.1 550.3 710.7 548.0 C710.3 545.7 709.6 543.1 709.6 541.2 C709.6 539.3 710.1 538.0 710.7 536.7 C711.3 535.4 711.6 534.6 713.0 533.3Z M656.8 641.1 C657.5 637.1 659.0 632.4 660.4 629.0 C661.9 625.5 663.5 622.2 665.3 620.4 C667.1 618.7 669.2 618.4 671.4 618.6 C673.6 618.8 676.3 621.3 678.7 621.7 C681.1 622.0 683.6 621.7 686.0 620.4 C688.4 619.2 691.1 616.0 693.3 614.3 C695.5 612.7 697.0 611.2 699.4 610.7 C701.8 610.2 705.3 611.5 707.9 611.3 C710.6 611.1 712.0 609.8 715.2 609.5 C718.5 609.2 721.3 602.6 727.4 609.5 C733.5 616.4 746.7 637.9 751.7 650.9 C756.8 663.9 757.8 679.3 757.8 687.4 C757.8 695.5 754.8 696.3 751.7 699.6 C748.7 702.8 743.6 704.6 739.6 706.9 C735.5 709.1 731.4 711.5 727.4 713.0 C723.3 714.4 719.3 713.6 715.2 715.4 C711.2 717.2 707.1 721.5 703.0 723.9 C699.0 726.3 694.9 729.0 690.9 730.0 C686.8 731.0 680.1 730.8 678.7 730.0 C677.3 729.2 681.7 727.0 682.3 725.1 C683.0 723.3 683.2 720.7 682.3 719.0 C681.5 717.4 679.5 716.8 677.5 715.4 C675.4 714.0 672.2 712.6 670.2 710.5 C668.1 708.5 666.3 705.9 665.3 703.2 C664.3 700.6 664.9 697.3 664.1 694.7 C663.3 692.1 661.2 690.2 660.4 687.4 C659.6 684.6 659.6 681.3 659.2 677.7 C658.8 674.0 658.5 669.5 658.0 665.5 C657.5 661.4 656.4 657.4 656.2 653.3 C656.0 649.2 656.1 645.2 656.8 641.1Z M745.2 687.2 C759.4 689.1 745.9 694.9 745.2 698.3 C744.5 701.8 742.4 706.0 741.0 708.1 C739.7 710.2 739.0 709.9 736.9 710.9 C734.8 711.8 731.3 712.6 728.5 713.7 C725.7 714.7 722.7 715.7 720.2 717.1 C717.6 718.5 715.1 720.3 713.2 722.0 C711.4 723.7 709.4 725.7 709.0 727.6 C708.7 729.4 710.9 730.8 711.1 733.1 C711.4 735.4 711.2 739.5 710.4 741.5 C709.6 743.4 708.1 744.4 706.3 745.0 C704.4 745.5 701.0 745.5 699.3 745.0 C697.6 744.4 697.0 742.6 695.8 741.5 C694.7 740.3 694.1 738.3 692.3 738.0 C690.6 737.7 687.4 739.7 685.4 739.4 C683.4 739.0 681.2 737.7 680.5 735.9 C679.8 734.2 680.6 731.3 681.2 729.0 C681.8 726.6 684.2 724.1 684.0 722.0 C683.8 719.9 681.4 718.1 679.8 716.4 C678.2 714.8 676.6 714.1 674.3 712.3 C671.9 710.4 667.8 707.9 665.9 705.3 C664.1 702.8 664.1 700.0 663.1 697.0 C662.2 693.9 646.7 688.8 660.3 687.2 C674.0 685.6 731.1 685.4 745.2 687.2Z M658.3 819.4 C658.3 817.4 660.2 815.1 661.7 813.8 C663.2 812.6 665.4 812.0 667.3 811.7 C669.2 811.5 671.6 811.4 672.9 812.4 C674.1 813.5 674.7 815.9 675.0 818.0 C675.2 820.1 675.3 823.3 674.3 825.0 C673.2 826.6 670.8 827.6 668.7 827.7 C666.6 827.9 663.5 827.0 661.7 825.7 C660.0 824.3 658.3 821.4 658.3 819.4Z M732.7 808.3 C733.4 806.4 736.2 805.5 738.3 805.5 C740.3 805.5 743.4 806.6 745.2 808.3 C747.1 809.9 748.0 814.1 749.4 815.2 C750.8 816.4 751.9 815.7 753.6 815.2 C755.2 814.8 753.6 812.9 759.1 812.4 C764.7 812.0 782.3 805.0 787.0 812.4 C791.6 819.9 794.8 849.5 787.0 857.0 C779.1 864.4 748.0 859.3 739.7 857.0 C731.3 854.6 736.6 847.0 736.9 843.0 C737.1 839.1 739.2 835.6 741.0 833.3 C742.9 831.0 747.3 830.8 748.0 829.1 C748.7 827.5 746.8 824.7 745.2 823.6 C743.6 822.4 740.1 823.3 738.3 822.2 C736.4 821.0 735.0 818.9 734.1 816.6 C733.2 814.3 732.0 810.1 732.7 808.3Z M617.2 767.9 C618.6 764.9 623.6 766.8 625.6 767.9 C627.5 769.1 628.7 772.1 629.0 774.9 C629.4 777.7 628.7 782.5 627.7 784.6 C626.6 786.7 624.5 787.2 622.8 787.4 C621.0 787.6 618.1 789.2 617.2 786.0 C616.3 782.8 615.8 770.9 617.2 767.9Z M543.5 767.2 C552.3 770.0 543.9 780.0 544.9 783.9 C545.8 787.9 548.8 788.8 549.0 790.9 C549.3 793.0 548.1 795.3 546.3 796.4 C544.4 797.6 541.4 797.8 537.9 797.8 C534.4 797.8 529.1 797.6 525.4 796.4 C521.7 795.3 519.1 792.7 515.7 790.9 C512.2 789.0 507.8 787.4 504.5 785.3 C501.3 783.2 498.3 781.4 496.2 778.3 C494.1 775.3 484.1 769.1 492.0 767.2 C499.9 765.4 534.7 764.4 543.5 767.2Z M515.0 824.3 C515.2 822.3 516.7 819.5 518.4 818.0 C520.2 816.5 523.1 815.6 525.4 815.2 C527.7 814.9 530.5 815.1 532.3 815.9 C534.2 816.7 536.1 818.5 536.5 820.1 C537.0 821.7 536.1 824.0 535.1 825.7 C534.2 827.3 532.3 828.7 531.0 829.8 C529.6 831.0 528.4 832.1 526.8 832.6 C525.2 833.1 522.8 833.1 521.2 832.6 C519.6 832.1 518.1 831.2 517.0 829.8 C516.0 828.4 514.7 826.2 515.0 824.3Z M533.7 860.4 C533.6 859.2 535.8 857.7 537.2 857.0 C538.6 856.3 540.8 855.9 542.1 856.3 C543.4 856.6 544.6 857.9 544.9 859.0 C545.1 860.2 544.6 862.3 543.5 863.2 C542.3 864.1 539.5 865.1 537.9 864.6 C536.3 864.1 533.9 861.7 533.7 860.4Z M457.2 903.6 C458.8 898.0 464.2 902.9 467.0 903.6 C469.7 904.3 472.1 906.1 473.9 907.7 C475.8 909.4 477.9 911.2 478.1 913.3 C478.3 915.4 476.9 918.6 475.3 920.3 C473.7 921.9 470.2 920.3 468.3 923.0 C466.5 925.8 466.0 934.6 464.2 937.0 C462.3 939.3 458.4 942.5 457.2 937.0 C456.1 931.4 455.6 909.1 457.2 903.6Z M428.0 908.0 C428.8 904.2 429.0 903.8 431.0 903.0 C433.0 902.2 436.5 902.3 440.0 903.0 C443.5 903.7 448.0 905.8 452.0 907.0 C456.0 908.2 461.3 908.5 464.0 910.0 C466.7 911.5 466.3 914.3 468.0 916.0 C469.7 917.7 472.3 918.3 474.0 920.0 C475.7 921.7 477.3 923.3 478.0 926.0 C478.7 928.7 478.3 932.0 478.0 936.0 C477.7 940.0 482.3 949.3 476.0 950.0 C469.7 950.7 448.3 944.0 440.0 940.0 C431.7 936.0 428.0 931.3 426.0 926.0 C424.0 920.7 427.2 911.8 428.0 908.0Z M857.4 943.0 C857.9 940.7 858.7 938.0 860.0 936.5 C861.3 935.0 863.7 933.9 865.2 933.9 C866.7 933.9 867.8 935.0 869.1 936.5 C870.4 938.0 871.5 941.1 873.0 943.0 C874.6 945.0 876.5 947.0 878.3 948.3 C880.0 949.6 881.7 949.6 883.5 950.9 C885.2 952.2 887.4 953.9 888.7 956.1 C890.0 958.3 891.1 961.1 891.3 963.9 C891.5 966.7 890.9 970.2 890.0 973.0 C889.1 975.9 887.2 978.5 886.1 980.9 C885.0 983.3 884.8 985.7 883.5 987.4 C882.2 989.1 880.0 990.9 878.3 991.3 C876.5 991.7 874.8 991.1 873.0 990.0 C871.3 988.9 869.3 986.7 867.8 984.8 C866.3 982.8 864.8 980.4 863.9 978.3 C863.0 976.1 863.0 974.1 862.6 971.7 C862.2 969.3 862.0 966.1 861.3 963.9 C860.7 961.7 859.5 960.9 858.7 958.7 C857.9 956.5 857.0 953.5 856.7 950.9 C856.5 948.3 856.8 945.4 857.4 943.0Z M543.5 848.5 C544.6 846.4 547.2 844.0 549.6 841.5 C551.9 839.1 555.1 836.4 557.4 833.7 C559.7 830.9 561.6 827.8 563.5 825.0 C565.4 822.2 567.2 819.8 568.7 817.2 C570.1 814.6 570.7 811.7 572.2 809.3 C573.6 807.0 575.4 804.9 577.4 803.3 C579.4 801.7 582.0 801.2 584.3 799.8 C586.7 798.3 589.4 796.7 591.3 794.6 C593.2 792.4 594.2 789.5 595.7 786.7 C597.1 784.0 598.3 780.5 600.0 778.0 C601.7 775.6 603.8 773.4 606.1 772.0 C608.4 770.5 611.4 769.5 613.9 769.3 C616.4 769.2 618.8 769.9 620.9 771.1 C622.9 772.2 625.2 774.3 626.1 776.3 C627.0 778.3 627.0 781.2 626.1 783.3 C625.2 785.3 622.6 786.9 620.9 788.5 C619.1 790.1 617.2 791.1 615.7 792.8 C614.1 794.6 612.6 796.9 611.3 798.9 C610.0 800.9 608.8 802.7 607.8 805.0 C606.8 807.3 606.1 810.2 605.2 812.8 C604.3 815.4 603.6 818.2 602.6 820.7 C601.6 823.1 600.3 825.3 599.1 827.6 C598.0 829.9 597.1 832.4 595.7 834.6 C594.2 836.7 592.5 838.8 590.4 840.7 C588.4 842.5 585.8 844.6 583.5 845.9 C581.2 847.2 578.8 848.0 576.5 848.5 C574.2 848.9 571.7 848.0 569.6 848.5 C567.4 848.9 565.5 849.8 563.5 851.1 C561.4 852.4 559.4 854.9 557.4 856.3 C555.4 857.8 553.3 859.3 551.3 859.8 C549.3 860.2 546.7 859.9 545.2 858.9 C543.8 857.9 542.9 855.4 542.6 853.7 C542.3 852.0 542.3 850.5 543.5 848.5Z" fill="none" stroke="#1c1c1c" stroke-width="1.5"/>
<path d="M130.0 470.0 C154.7 463.7 253.3 468.3 278.0 472.0 C302.7 475.7 277.2 487.3 278.0 492.0 C278.8 496.7 282.7 496.6 283.0 500.0 C283.3 503.4 282.5 508.5 280.0 512.4 C277.5 516.3 271.9 521.2 267.8 523.4 C263.7 525.6 259.0 525.4 255.6 525.8 C252.2 526.2 249.0 525.2 247.2 525.8 C245.4 526.4 244.2 528.0 244.6 529.4 C245.0 530.8 247.1 532.6 249.6 534.2 C252.1 535.8 257.0 537.0 259.4 539.2 C261.8 541.4 262.8 545.0 264.2 547.6 C265.6 550.2 268.2 553.2 267.8 555.0 C267.4 556.8 264.8 558.2 261.8 558.6 C258.8 559.0 253.7 558.8 249.6 557.4 C245.5 556.0 241.5 552.4 237.4 550.0 C233.3 547.6 230.1 544.4 225.2 542.8 C220.3 541.2 213.3 541.6 208.2 540.4 C203.1 539.2 197.6 537.4 194.8 535.4 C192.0 533.4 192.2 531.0 191.2 528.2 C190.2 525.4 190.5 521.1 188.6 518.4 C186.7 515.7 184.8 513.4 180.0 512.0 C175.2 510.6 168.3 510.3 160.0 510.0 C151.7 509.7 135.0 516.7 130.0 510.0 C125.0 503.3 105.3 476.3 130.0 470.0Z M303.0 408.7 C308.7 406.5 331.3 411.6 337.0 413.0 C342.6 414.5 336.7 414.8 337.0 417.4 C337.2 420.0 338.5 425.2 338.7 428.7 C338.9 432.2 338.6 434.9 338.3 438.3 C338.0 441.6 337.6 446.1 337.0 448.7 C336.3 451.3 335.1 452.6 334.3 453.9 C333.6 455.2 333.6 456.4 332.6 456.5 C331.6 456.6 330.0 454.9 328.3 454.3 C326.5 453.8 324.9 453.4 322.2 453.0 C319.4 452.7 314.9 456.7 311.7 452.2 C308.6 447.7 304.5 433.3 303.0 426.1 C301.6 418.8 297.4 410.9 303.0 408.7Z M332.6 456.5 C334.5 455.8 336.5 458.6 338.7 460.0 C340.9 461.4 343.6 463.5 345.7 465.2 C347.7 467.0 349.6 468.7 350.9 470.4 C352.2 472.2 352.6 473.9 353.5 475.7 C354.3 477.4 355.1 479.3 356.1 480.9 C357.1 482.5 359.0 483.8 359.6 485.2 C360.1 486.7 360.4 488.4 359.6 489.6 C358.7 490.7 356.7 491.4 354.3 492.2 C352.0 492.9 348.3 493.6 345.7 493.9 C343.0 494.3 341.0 494.4 338.7 494.3 C336.4 494.3 333.8 494.6 331.7 493.5 C329.7 492.4 327.8 489.9 326.5 487.8 C325.3 485.7 324.6 483.6 324.3 480.9 C324.1 478.1 324.3 474.1 324.8 471.3 C325.3 468.6 326.1 466.8 327.4 464.3 C328.7 461.9 330.7 457.2 332.6 456.5Z M466.0 342.0 C467.7 337.3 473.3 342.8 476.0 342.0 C478.7 341.2 479.3 338.2 482.0 337.0 C484.7 335.8 489.0 334.5 492.0 335.0 C495.0 335.5 498.0 337.5 500.0 340.0 C502.0 342.5 504.3 347.0 504.0 350.0 C503.7 353.0 499.7 355.3 498.0 358.0 C496.3 360.7 495.3 363.0 494.0 366.0 C492.7 369.0 492.0 375.0 490.0 376.0 C488.0 377.0 484.7 373.0 482.0 372.0 C479.3 371.0 476.7 370.3 474.0 370.0 C471.3 369.7 467.3 374.7 466.0 370.0 C464.7 365.3 464.3 346.7 466.0 342.0Z M604.0 401.0 C605.3 400.2 607.8 400.0 610.0 400.0 C612.2 400.0 615.8 400.0 617.0 401.0 C618.2 402.0 617.8 404.7 617.0 406.0 C616.2 407.3 613.8 408.7 612.0 409.0 C610.2 409.3 607.7 408.7 606.0 408.0 C604.3 407.3 602.3 406.2 602.0 405.0 C601.7 403.8 602.7 401.8 604.0 401.0Z M266.0 548.0 C270.3 548.7 268.3 550.3 268.0 552.0 C267.7 553.7 266.7 557.3 264.0 558.0 C261.3 558.7 255.7 557.7 252.0 556.0 C248.3 554.3 239.7 549.3 242.0 548.0 C244.3 546.7 261.7 547.3 266.0 548.0Z M366.0 644.0 C366.3 641.3 368.7 640.0 370.0 640.0 C371.3 640.0 373.0 641.7 374.0 644.0 C375.0 646.3 376.2 651.5 376.0 654.0 C375.8 656.5 374.3 658.7 373.0 659.0 C371.7 659.3 369.2 658.5 368.0 656.0 C366.8 653.5 365.7 646.7 366.0 644.0Z M311.1 783.0 C317.4 778.7 330.7 783.5 335.9 783.0 C341.1 782.6 340.0 781.4 342.4 780.4 C344.8 779.5 347.6 777.8 350.2 777.2 C352.8 776.5 355.9 776.0 358.0 776.5 C360.2 777.1 361.7 778.0 363.3 780.4 C364.8 782.8 365.4 787.8 367.2 790.9 C368.9 793.9 372.0 795.7 373.7 798.7 C375.4 801.7 376.3 806.1 377.6 809.1 C378.9 812.2 379.8 814.8 381.5 817.0 C383.3 819.1 385.4 820.9 388.0 822.2 C390.7 823.5 395.4 823.9 397.2 824.8 C398.9 825.7 398.9 825.9 398.5 827.4 C398.0 828.9 395.4 831.3 394.6 833.9 C393.7 836.5 393.7 840.2 393.3 843.0 C392.8 845.9 393.0 847.8 392.0 850.9 C390.9 853.9 388.7 858.0 386.7 861.3 C384.8 864.6 381.5 867.6 380.2 870.4 C378.9 873.3 378.3 875.9 378.9 878.3 C379.6 880.7 383.0 882.8 384.1 884.8 C385.2 886.7 385.9 888.3 385.4 890.0 C385.0 891.7 382.8 893.5 381.5 895.2 C380.2 897.0 378.0 898.7 377.6 900.4 C377.2 902.2 377.8 904.1 378.9 905.7 C380.0 907.2 381.7 908.5 384.1 909.6 C386.5 910.7 391.3 910.4 393.3 912.2 C395.2 913.9 395.4 916.5 395.9 920.0 C396.3 923.5 412.2 930.9 395.9 933.0 C379.6 935.2 314.3 953.7 298.0 933.0 C281.7 912.4 295.9 834.1 298.0 809.1 C300.2 784.1 304.8 787.4 311.1 783.0Z M366.0 630.0 C367.3 627.0 372.3 635.0 374.0 638.0 C375.7 641.0 376.2 645.3 376.0 648.0 C375.8 650.7 374.7 652.7 373.0 654.0 C371.3 655.3 367.2 660.0 366.0 656.0 C364.8 652.0 364.7 633.0 366.0 630.0Z M426.0 706.0 C427.0 704.2 429.7 702.3 432.0 702.0 C434.3 701.7 437.7 702.7 440.0 704.0 C442.3 705.3 445.0 707.7 446.0 710.0 C447.0 712.3 447.3 715.8 446.0 718.0 C444.7 720.2 440.7 722.7 438.0 723.0 C435.3 723.3 432.0 721.7 430.0 720.0 C428.0 718.3 426.7 715.3 426.0 713.0 C425.3 710.7 425.0 707.8 426.0 706.0Z M449.0 682.0 C450.3 679.5 452.5 677.7 456.0 677.0 C459.5 676.3 465.7 677.0 470.0 678.0 C474.3 679.0 478.7 681.0 482.0 683.0 C485.3 685.0 488.0 686.8 490.0 690.0 C492.0 693.2 492.7 698.7 494.0 702.0 C495.3 705.3 495.7 707.7 498.0 710.0 C500.3 712.3 504.7 714.7 508.0 716.0 C511.3 717.3 515.0 715.7 518.0 718.0 C521.0 720.3 525.3 724.7 526.0 730.0 C526.7 735.3 524.7 741.7 522.0 750.0 C519.3 758.3 513.0 775.0 510.0 780.0 C507.0 785.0 505.3 781.7 504.0 780.0 C502.7 778.3 503.0 773.0 502.0 770.0 C501.0 767.0 500.0 765.3 498.0 762.0 C496.0 758.7 492.3 753.3 490.0 750.0 C487.7 746.7 486.0 744.7 484.0 742.0 C482.0 739.3 480.0 737.0 478.0 734.0 C476.0 731.0 473.3 727.7 472.0 724.0 C470.7 720.3 471.3 715.2 470.0 712.0 C468.7 708.8 466.7 707.0 464.0 705.0 C461.3 703.0 456.7 702.2 454.0 700.0 C451.3 697.8 448.8 695.0 448.0 692.0 C447.2 689.0 447.7 684.5 449.0 682.0Z M585.0 593.0 C586.0 591.5 589.8 590.0 592.0 590.0 C594.2 590.0 597.2 591.3 598.0 593.0 C598.8 594.7 598.2 598.3 597.0 600.0 C595.8 601.7 592.8 603.2 591.0 603.0 C589.2 602.8 587.0 600.7 586.0 599.0 C585.0 597.3 584.0 594.5 585.0 593.0Z M476.9 684.7 C478.4 675.3 483.4 686.5 486.3 689.4 C489.1 692.3 491.6 698.3 493.9 701.9 C496.3 705.6 498.0 709.0 500.3 711.3 C502.7 713.7 505.1 714.9 508.0 716.0 C511.0 717.1 515.4 717.5 518.0 718.0 C520.7 718.6 522.1 719.9 523.8 719.1 C525.6 718.4 526.4 714.6 528.5 713.7 C530.6 712.7 534.4 712.7 536.3 713.7 C538.3 714.6 539.7 717.0 540.3 719.1 C540.8 721.2 540.1 724.1 539.5 726.2 C538.8 728.3 536.3 729.4 536.3 731.7 C536.3 733.9 538.7 736.6 539.5 739.5 C540.3 742.3 540.5 746.3 541.0 748.9 C541.6 751.5 542.1 752.5 542.6 755.1 C543.1 757.7 543.9 761.4 544.2 764.5 C544.4 767.7 543.9 770.8 544.2 773.9 C544.4 777.0 545.7 780.2 545.7 783.3 C545.7 786.4 545.5 790.6 544.2 792.7 C542.9 794.8 540.8 795.6 537.9 795.8 C535.0 796.1 530.1 794.8 527.0 794.3 C523.8 793.7 521.7 794.0 519.1 792.7 C516.5 791.4 513.9 788.3 511.3 786.4 C508.7 784.6 505.8 783.6 503.5 781.7 C501.1 779.9 499.3 777.8 497.2 775.5 C495.1 773.1 492.8 770.5 491.0 767.7 C489.1 764.8 488.1 761.1 486.3 758.3 C484.4 755.4 481.6 752.5 480.0 750.4 C478.4 748.3 477.4 756.7 476.9 745.7 C476.3 734.8 475.3 694.1 476.9 684.7Z M517.6 820.9 C518.1 818.8 520.2 817.2 522.3 816.2 C524.3 815.1 527.5 814.3 530.1 814.6 C532.7 814.9 536.1 816.2 537.9 817.7 C539.7 819.3 540.8 821.9 541.0 824.0 C541.3 826.1 540.8 828.4 539.5 830.3 C538.2 832.1 535.6 834.3 533.2 835.0 C530.9 835.6 527.7 835.2 525.4 834.2 C523.0 833.1 520.4 830.9 519.1 828.7 C517.8 826.5 517.0 823.0 517.6 820.9Z M713.0 533.3 C714.3 532.0 716.5 530.3 718.6 528.8 C720.7 527.3 723.1 525.6 725.4 524.3 C727.7 522.9 729.9 521.6 732.2 520.9 C734.4 520.1 737.1 519.4 739.0 519.7 C740.8 520.1 742.3 521.4 743.5 523.1 C744.6 524.8 745.2 527.1 745.7 529.9 C746.3 532.7 747.1 536.9 746.9 540.1 C746.7 543.3 745.7 546.5 744.6 549.1 C743.5 551.8 742.0 554.0 740.1 555.9 C738.2 557.8 735.8 559.1 733.3 560.4 C730.9 561.8 727.8 563.3 725.4 563.8 C722.9 564.4 720.5 564.4 718.6 563.8 C716.7 563.3 715.2 561.9 714.1 560.4 C713.0 558.9 712.4 556.9 711.8 554.8 C711.3 552.7 711.1 550.3 710.7 548.0 C710.3 545.7 709.6 543.1 709.6 541.2 C709.6 539.3 710.1 538.0 710.7 536.7 C711.3 535.4 711.6 534.6 713.0 533.3Z M656.8 641.1 C657.5 637.1 659.0 632.4 660.4 629.0 C661.9 625.5 663.5 622.2 665.3 620.4 C667.1 618.7 669.2 618.4 671.4 618.6 C673.6 618.8 676.3 621.3 678.7 621.7 C681.1 622.0 683.6 621.7 686.0 620.4 C688.4 619.2 691.1 616.0 693.3 614.3 C695.5 612.7 697.0 611.2 699.4 610.7 C701.8 610.2 705.3 611.5 707.9 611.3 C710.6 611.1 712.0 609.8 715.2 609.5 C718.5 609.2 721.3 602.6 727.4 609.5 C733.5 616.4 746.7 637.9 751.7 650.9 C756.8 663.9 757.8 679.3 757.8 687.4 C757.8 695.5 754.8 696.3 751.7 699.6 C748.7 702.8 743.6 704.6 739.6 706.9 C735.5 709.1 731.4 711.5 727.4 713.0 C723.3 714.4 719.3 713.6 715.2 715.4 C711.2 717.2 707.1 721.5 703.0 723.9 C699.0 726.3 694.9 729.0 690.9 730.0 C686.8 731.0 680.1 730.8 678.7 730.0 C677.3 729.2 681.7 727.0 682.3 725.1 C683.0 723.3 683.2 720.7 682.3 719.0 C681.5 717.4 679.5 716.8 677.5 715.4 C675.4 714.0 672.2 712.6 670.2 710.5 C668.1 708.5 666.3 705.9 665.3 703.2 C664.3 700.6 664.9 697.3 664.1 694.7 C663.3 692.1 661.2 690.2 660.4 687.4 C659.6 684.6 659.6 681.3 659.2 677.7 C658.8 674.0 658.5 669.5 658.0 665.5 C657.5 661.4 656.4 657.4 656.2 653.3 C656.0 649.2 656.1 645.2 656.8 641.1Z M745.2 687.2 C759.4 689.1 745.9 694.9 745.2 698.3 C744.5 701.8 742.4 706.0 741.0 708.1 C739.7 710.2 739.0 709.9 736.9 710.9 C734.8 711.8 731.3 712.6 728.5 713.7 C725.7 714.7 722.7 715.7 720.2 717.1 C717.6 718.5 715.1 720.3 713.2 722.0 C711.4 723.7 709.4 725.7 709.0 727.6 C708.7 729.4 710.9 730.8 711.1 733.1 C711.4 735.4 711.2 739.5 710.4 741.5 C709.6 743.4 708.1 744.4 706.3 745.0 C704.4 745.5 701.0 745.5 699.3 745.0 C697.6 744.4 697.0 742.6 695.8 741.5 C694.7 740.3 694.1 738.3 692.3 738.0 C690.6 737.7 687.4 739.7 685.4 739.4 C683.4 739.0 681.2 737.7 680.5 735.9 C679.8 734.2 680.6 731.3 681.2 729.0 C681.8 726.6 684.2 724.1 684.0 722.0 C683.8 719.9 681.4 718.1 679.8 716.4 C678.2 714.8 676.6 714.1 674.3 712.3 C671.9 710.4 667.8 707.9 665.9 705.3 C664.1 702.8 664.1 700.0 663.1 697.0 C662.2 693.9 646.7 688.8 660.3 687.2 C674.0 685.6 731.1 685.4 745.2 687.2Z M658.3 819.4 C658.3 817.4 660.2 815.1 661.7 813.8 C663.2 812.6 665.4 812.0 667.3 811.7 C669.2 811.5 671.6 811.4 672.9 812.4 C674.1 813.5 674.7 815.9 675.0 818.0 C675.2 820.1 675.3 823.3 674.3 825.0 C673.2 826.6 670.8 827.6 668.7 827.7 C666.6 827.9 663.5 827.0 661.7 825.7 C660.0 824.3 658.3 821.4 658.3 819.4Z M732.7 808.3 C733.4 806.4 736.2 805.5 738.3 805.5 C740.3 805.5 743.4 806.6 745.2 808.3 C747.1 809.9 748.0 814.1 749.4 815.2 C750.8 816.4 751.9 815.7 753.6 815.2 C755.2 814.8 753.6 812.9 759.1 812.4 C764.7 812.0 782.3 805.0 787.0 812.4 C791.6 819.9 794.8 849.5 787.0 857.0 C779.1 864.4 748.0 859.3 739.7 857.0 C731.3 854.6 736.6 847.0 736.9 843.0 C737.1 839.1 739.2 835.6 741.0 833.3 C742.9 831.0 747.3 830.8 748.0 829.1 C748.7 827.5 746.8 824.7 745.2 823.6 C743.6 822.4 740.1 823.3 738.3 822.2 C736.4 821.0 735.0 818.9 734.1 816.6 C733.2 814.3 732.0 810.1 732.7 808.3Z M617.2 767.9 C618.6 764.9 623.6 766.8 625.6 767.9 C627.5 769.1 628.7 772.1 629.0 774.9 C629.4 777.7 628.7 782.5 627.7 784.6 C626.6 786.7 624.5 787.2 622.8 787.4 C621.0 787.6 618.1 789.2 617.2 786.0 C616.3 782.8 615.8 770.9 617.2 767.9Z M543.5 767.2 C552.3 770.0 543.9 780.0 544.9 783.9 C545.8 787.9 548.8 788.8 549.0 790.9 C549.3 793.0 548.1 795.3 546.3 796.4 C544.4 797.6 541.4 797.8 537.9 797.8 C534.4 797.8 529.1 797.6 525.4 796.4 C521.7 795.3 519.1 792.7 515.7 790.9 C512.2 789.0 507.8 787.4 504.5 785.3 C501.3 783.2 498.3 781.4 496.2 778.3 C494.1 775.3 484.1 769.1 492.0 767.2 C499.9 765.4 534.7 764.4 543.5 767.2Z M515.0 824.3 C515.2 822.3 516.7 819.5 518.4 818.0 C520.2 816.5 523.1 815.6 525.4 815.2 C527.7 814.9 530.5 815.1 532.3 815.9 C534.2 816.7 536.1 818.5 536.5 820.1 C537.0 821.7 536.1 824.0 535.1 825.7 C534.2 827.3 532.3 828.7 531.0 829.8 C529.6 831.0 528.4 832.1 526.8 832.6 C525.2 833.1 522.8 833.1 521.2 832.6 C519.6 832.1 518.1 831.2 517.0 829.8 C516.0 828.4 514.7 826.2 515.0 824.3Z M533.7 860.4 C533.6 859.2 535.8 857.7 537.2 857.0 C538.6 856.3 540.8 855.9 542.1 856.3 C543.4 856.6 544.6 857.9 544.9 859.0 C545.1 860.2 544.6 862.3 543.5 863.2 C542.3 864.1 539.5 865.1 537.9 864.6 C536.3 864.1 533.9 861.7 533.7 860.4Z M457.2 903.6 C458.8 898.0 464.2 902.9 467.0 903.6 C469.7 904.3 472.1 906.1 473.9 907.7 C475.8 909.4 477.9 911.2 478.1 913.3 C478.3 915.4 476.9 918.6 475.3 920.3 C473.7 921.9 470.2 920.3 468.3 923.0 C466.5 925.8 466.0 934.6 464.2 937.0 C462.3 939.3 458.4 942.5 457.2 937.0 C456.1 931.4 455.6 909.1 457.2 903.6Z M428.0 908.0 C428.8 904.2 429.0 903.8 431.0 903.0 C433.0 902.2 436.5 902.3 440.0 903.0 C443.5 903.7 448.0 905.8 452.0 907.0 C456.0 908.2 461.3 908.5 464.0 910.0 C466.7 911.5 466.3 914.3 468.0 916.0 C469.7 917.7 472.3 918.3 474.0 920.0 C475.7 921.7 477.3 923.3 478.0 926.0 C478.7 928.7 478.3 932.0 478.0 936.0 C477.7 940.0 482.3 949.3 476.0 950.0 C469.7 950.7 448.3 944.0 440.0 940.0 C431.7 936.0 428.0 931.3 426.0 926.0 C424.0 920.7 427.2 911.8 428.0 908.0Z M857.4 943.0 C857.9 940.7 858.7 938.0 860.0 936.5 C861.3 935.0 863.7 933.9 865.2 933.9 C866.7 933.9 867.8 935.0 869.1 936.5 C870.4 938.0 871.5 941.1 873.0 943.0 C874.6 945.0 876.5 947.0 878.3 948.3 C880.0 949.6 881.7 949.6 883.5 950.9 C885.2 952.2 887.4 953.9 888.7 956.1 C890.0 958.3 891.1 961.1 891.3 963.9 C891.5 966.7 890.9 970.2 890.0 973.0 C889.1 975.9 887.2 978.5 886.1 980.9 C885.0 983.3 884.8 985.7 883.5 987.4 C882.2 989.1 880.0 990.9 878.3 991.3 C876.5 991.7 874.8 991.1 873.0 990.0 C871.3 988.9 869.3 986.7 867.8 984.8 C866.3 982.8 864.8 980.4 863.9 978.3 C863.0 976.1 863.0 974.1 862.6 971.7 C862.2 969.3 862.0 966.1 861.3 963.9 C860.7 961.7 859.5 960.9 858.7 958.7 C857.9 956.5 857.0 953.5 856.7 950.9 C856.5 948.3 856.8 945.4 857.4 943.0Z M543.5 848.5 C544.6 846.4 547.2 844.0 549.6 841.5 C551.9 839.1 555.1 836.4 557.4 833.7 C559.7 830.9 561.6 827.8 563.5 825.0 C565.4 822.2 567.2 819.8 568.7 817.2 C570.1 814.6 570.7 811.7 572.2 809.3 C573.6 807.0 575.4 804.9 577.4 803.3 C579.4 801.7 582.0 801.2 584.3 799.8 C586.7 798.3 589.4 796.7 591.3 794.6 C593.2 792.4 594.2 789.5 595.7 786.7 C597.1 784.0 598.3 780.5 600.0 778.0 C601.7 775.6 603.8 773.4 606.1 772.0 C608.4 770.5 611.4 769.5 613.9 769.3 C616.4 769.2 618.8 769.9 620.9 771.1 C622.9 772.2 625.2 774.3 626.1 776.3 C627.0 778.3 627.0 781.2 626.1 783.3 C625.2 785.3 622.6 786.9 620.9 788.5 C619.1 790.1 617.2 791.1 615.7 792.8 C614.1 794.6 612.6 796.9 611.3 798.9 C610.0 800.9 608.8 802.7 607.8 805.0 C606.8 807.3 606.1 810.2 605.2 812.8 C604.3 815.4 603.6 818.2 602.6 820.7 C601.6 823.1 600.3 825.3 599.1 827.6 C598.0 829.9 597.1 832.4 595.7 834.6 C594.2 836.7 592.5 838.8 590.4 840.7 C588.4 842.5 585.8 844.6 583.5 845.9 C581.2 847.2 578.8 848.0 576.5 848.5 C574.2 848.9 571.7 848.0 569.6 848.5 C567.4 848.9 565.5 849.8 563.5 851.1 C561.4 852.4 559.4 854.9 557.4 856.3 C555.4 857.8 553.3 859.3 551.3 859.8 C549.3 860.2 546.7 859.9 545.2 858.9 C543.8 857.9 542.9 855.4 542.6 853.7 C542.3 852.0 542.3 850.5 543.5 848.5Z" fill="#98c8cc"/>
<path d="M160.0 486.0 C163.8 482.7 178.0 485.0 183.0 484.0 C188.0 483.0 189.2 479.0 190.0 480.0 C190.8 481.0 188.8 487.0 188.0 490.0 C187.2 493.0 186.3 495.8 185.0 498.0 C183.7 500.2 184.2 502.0 180.0 503.0 C175.8 504.0 163.3 506.8 160.0 504.0 C156.7 501.2 156.2 489.3 160.0 486.0Z" fill="none" stroke="#1c1c1c" stroke-width="1.5"/>
<path d="M160.0 486.0 C163.8 482.7 178.0 485.0 183.0 484.0 C188.0 483.0 189.2 479.0 190.0 480.0 C190.8 481.0 188.8 487.0 188.0 490.0 C187.2 493.0 186.3 495.8 185.0 498.0 C183.7 500.2 184.2 502.0 180.0 503.0 C175.8 504.0 163.3 506.8 160.0 504.0 C156.7 501.2 156.2 489.3 160.0 486.0Z" fill="#b0d8c0"/>
<path d="M160.0 488.0 C162.7 485.7 172.2 485.2 176.0 485.0 C179.8 484.8 182.5 485.8 183.0 487.0 C183.5 488.2 180.8 490.3 179.0 492.0 C177.2 493.7 175.2 495.8 172.0 497.0 C168.8 498.2 162.0 500.5 160.0 499.0 C158.0 497.5 157.3 490.3 160.0 488.0Z" fill="none" stroke="#1c1c1c" stroke-width="1.5"/>
<path d="M160.0 488.0 C162.7 485.7 172.2 485.2 176.0 485.0 C179.8 484.8 182.5 485.8 183.0 487.0 C183.5 488.2 180.8 490.3 179.0 492.0 C177.2 493.7 175.2 495.8 172.0 497.0 C168.8 498.2 162.0 500.5 160.0 499.0 C158.0 497.5 157.3 490.3 160.0 488.0Z" fill="#cce8b0"/>
<path d="M160.0 520.0 C163.3 513.7 175.5 520.3 180.0 522.0 C184.5 523.7 185.0 527.0 187.0 530.0 C189.0 533.0 189.8 537.0 192.0 540.0 C194.2 543.0 198.0 544.7 200.0 548.0 C202.0 551.3 210.7 558.0 204.0 560.0 C197.3 562.0 167.3 566.7 160.0 560.0 C152.7 553.3 156.7 526.3 160.0 520.0Z" fill="none" stroke="#1c1c1c" stroke-width="1.5"/>
<path d="M160.0 520.0 C163.3 513.7 175.5 520.3 180.0 522.0 C184.5 523.7 185.0 527.0 187.0 530.0 C189.0 533.0 189.8 537.0 192.0 540.0 C194.2 543.0 198.0 544.7 200.0 548.0 C202.0 551.3 210.7 558.0 204.0 560.0 C197.3 562.0 167.3 566.7 160.0 560.0 C152.7 553.3 156.7 526.3 160.0 520.0Z" fill="#b0d8c0"/>
<path d="M160.0 523.0 C161.3 518.4 174.0 522.9 178.0 524.4 C182.0 525.9 182.3 529.4 184.0 532.0 C185.7 534.6 187.0 537.7 188.0 540.0 C189.0 542.3 193.0 544.0 190.0 546.0 C187.0 548.0 175.0 555.8 170.0 552.0 C165.0 548.2 158.7 527.6 160.0 523.0Z" fill="none" stroke="#1c1c1c" stroke-width="1.5"/>
<path d="M160.0 523.0 C161.3 518.4 174.0 522.9 178.0 524.4 C182.0 525.9 182.3 529.4 184.0 532.0 C185.7 534.6 187.0 537.7 188.0 540.0 C189.0 542.3 193.0 544.0 190.0 546.0 C187.0 548.0 175.0 555.8 170.0 552.0 C165.0 548.2 158.7 527.6 160.0 523.0Z" fill="#cce8b0"/>
<path d="M689.7 697.1 C690.3 695.5 693.7 693.3 695.7 692.3 C697.8 691.2 700.6 690.6 701.8 691.0 C703.0 691.4 703.7 693.3 703.0 694.7 C702.4 696.1 700.0 698.3 698.2 699.6 C696.3 700.8 693.5 702.4 692.1 702.0 C690.7 701.6 689.0 698.8 689.7 697.1Z M688.4 709.3 C689.2 708.5 691.3 711.1 692.1 713.0 C692.9 714.8 692.7 718.2 693.3 720.3 C693.9 722.3 696.1 724.1 695.7 725.1 C695.3 726.1 692.3 727.6 690.9 726.3 C689.4 725.1 687.6 720.7 687.2 717.8 C686.8 715.0 687.6 710.1 688.4 709.3Z M705.5 674.0 C706.7 672.2 708.7 669.5 710.3 669.1 C712.0 668.7 714.0 670.1 715.2 671.6 C716.4 673.0 717.9 675.8 717.7 677.7 C717.4 679.5 715.6 681.7 714.0 682.5 C712.4 683.3 709.7 682.9 707.9 682.5 C706.1 682.1 703.4 681.5 703.0 680.1 C702.6 678.7 704.3 675.8 705.5 674.0Z M689.6 698.3 C690.3 696.6 695.8 692.3 697.9 691.4 C700.0 690.5 701.9 691.6 702.1 692.8 C702.3 693.9 700.7 696.8 699.3 698.3 C697.9 699.9 695.4 701.8 693.7 701.8 C692.1 701.8 688.9 700.1 689.6 698.3Z" fill="none" stroke="#1c1c1c" stroke-width="1.5"/>
<path d="M689.7 697.1 C690.3 695.5 693.7 693.3 695.7 692.3 C697.8 691.2 700.6 690.6 701.8 691.0 C703.0 691.4 703.7 693.3 703.0 694.7 C702.4 696.1 700.0 698.3 698.2 699.6 C696.3 700.8 693.5 702.4 692.1 702.0 C690.7 701.6 689.0 698.8 689.7 697.1Z M688.4 709.3 C689.2 708.5 691.3 711.1 692.1 713.0 C692.9 714.8 692.7 718.2 693.3 720.3 C693.9 722.3 696.1 724.1 695.7 725.1 C695.3 726.1 692.3 727.6 690.9 726.3 C689.4 725.1 687.6 720.7 687.2 717.8 C686.8 715.0 687.6 710.1 688.4 709.3Z M705.5 674.0 C706.7 672.2 708.7 669.5 710.3 669.1 C712.0 668.7 714.0 670.1 715.2 671.6 C716.4 673.0 717.9 675.8 717.7 677.7 C717.4 679.5 715.6 681.7 714.0 682.5 C712.4 683.3 709.7 682.9 707.9 682.5 C706.1 682.1 703.4 681.5 703.0 680.1 C702.6 678.7 704.3 675.8 705.5 674.0Z M689.6 698.3 C690.3 696.6 695.8 692.3 697.9 691.4 C700.0 690.5 701.9 691.6 702.1 692.8 C702.3 693.9 700.7 696.8 699.3 698.3 C697.9 699.9 695.4 701.8 693.7 701.8 C692.1 701.8 688.9 700.1 689.6 698.3Z" fill="#b0d8c0"/>
<path d="M187.0 496.0 C188.5 494.7 192.5 493.0 196.0 492.0 C199.5 491.0 204.0 491.0 208.0 490.0 C212.0 489.0 217.5 485.3 220.0 486.0 C222.5 486.7 222.3 491.0 223.0 494.0 C223.7 497.0 224.5 501.0 224.0 504.0 C223.5 507.0 220.8 509.3 220.0 512.0 C219.2 514.7 219.0 517.3 219.0 520.0 C219.0 522.7 220.5 525.7 220.0 528.0 C219.5 530.3 218.3 532.8 216.0 534.0 C213.7 535.2 209.0 535.7 206.0 535.0 C203.0 534.3 199.5 532.2 198.0 530.0 C196.5 527.8 196.5 524.5 197.0 522.0 C197.5 519.5 200.8 517.3 201.0 515.0 C201.2 512.7 199.8 509.7 198.0 508.0 C196.2 506.3 191.8 506.3 190.0 505.0 C188.2 503.7 187.5 501.5 187.0 500.0 C186.5 498.5 185.5 497.3 187.0 496.0Z M240.0 482.0 C241.2 480.5 245.5 479.7 248.0 480.0 C250.5 480.3 253.5 482.0 255.0 484.0 C256.5 486.0 257.2 489.3 257.0 492.0 C256.8 494.7 254.7 497.7 254.0 500.0 C253.3 502.3 254.0 504.5 253.0 506.0 C252.0 507.5 250.0 508.7 248.0 509.0 C246.0 509.3 242.6 509.0 241.0 508.0 C239.4 507.0 238.4 505.0 238.6 503.0 C238.8 501.0 241.6 498.3 242.0 496.0 C242.4 493.7 241.3 491.3 241.0 489.0 C240.7 486.7 238.8 483.5 240.0 482.0Z M303.0 408.7 C307.1 407.0 323.3 414.1 327.4 415.7 C331.4 417.2 326.7 416.5 327.4 418.3 C328.1 420.0 330.9 423.3 331.7 426.1 C332.6 428.8 333.2 432.5 332.6 434.8 C332.0 437.1 330.3 438.5 328.3 440.0 C326.2 441.5 322.3 443.5 320.4 443.9 C318.6 444.3 319.1 443.0 317.0 442.6 C314.8 442.2 309.7 444.5 307.4 441.7 C305.1 439.0 303.8 431.6 303.0 426.1 C302.3 420.6 299.0 410.4 303.0 408.7Z M329.1 474.8 C330.0 473.6 331.9 472.4 333.5 471.7 C335.1 471.1 337.0 470.8 338.7 470.9 C340.4 470.9 342.2 471.4 343.9 472.2 C345.7 473.0 347.7 474.3 349.1 475.7 C350.6 477.0 352.3 478.4 352.6 480.0 C352.9 481.6 351.9 483.6 350.9 485.2 C349.9 486.8 348.3 488.7 346.5 489.6 C344.8 490.4 342.5 490.6 340.4 490.4 C338.4 490.3 336.1 489.7 334.3 488.7 C332.6 487.7 331.0 485.9 330.0 484.3 C329.0 482.8 328.4 480.7 328.3 479.1 C328.1 477.5 328.3 476.0 329.1 474.8Z M304.6 813.0 C310.7 809.2 317.4 813.0 321.5 812.4 C325.7 811.7 326.7 810.3 329.3 809.1 C332.0 807.9 335.4 806.7 337.2 805.2 C338.9 803.7 338.9 801.3 339.8 800.0 C340.7 798.7 341.3 797.6 342.4 797.4 C343.5 797.2 344.8 797.4 346.3 798.7 C347.8 800.0 349.6 803.0 351.5 805.2 C353.5 807.4 355.7 809.3 358.0 811.7 C360.4 814.1 363.5 817.0 365.9 819.6 C368.3 822.2 370.7 824.8 372.4 827.4 C374.1 830.0 375.0 832.6 376.3 835.2 C377.6 837.8 379.2 840.9 380.2 843.0 C381.2 845.2 382.4 846.3 382.2 848.3 C382.0 850.2 380.3 852.6 378.9 854.8 C377.5 857.0 375.9 859.3 373.7 861.3 C371.5 863.3 368.5 864.8 365.9 866.5 C363.3 868.3 360.2 869.8 358.0 871.7 C355.9 873.7 354.3 876.1 352.8 878.3 C351.3 880.4 350.4 883.6 348.9 884.8 C347.4 886.0 345.2 886.1 343.7 885.4 C342.2 884.8 340.9 882.3 339.8 880.9 C338.7 879.5 338.3 877.6 337.2 877.0 C336.1 876.3 335.0 876.5 333.3 877.0 C331.5 877.4 328.7 878.7 326.7 879.6 C324.8 880.4 323.3 881.1 321.5 882.2 C319.8 883.3 322.4 885.2 316.3 886.1 C310.2 887.0 290.2 895.9 285.0 887.4 C279.8 878.9 281.7 847.6 285.0 835.2 C288.3 822.8 298.5 816.8 304.6 813.0Z M298.0 892.6 C301.1 885.9 311.1 892.5 316.3 892.6 C321.5 892.7 325.4 892.8 329.3 893.3 C333.3 893.7 337.2 894.5 339.8 895.2 C342.4 896.0 343.3 898.3 345.0 897.8 C346.7 897.4 348.5 893.5 350.2 892.6 C352.0 891.7 353.3 891.8 355.4 892.6 C357.6 893.4 361.1 895.9 363.3 897.2 C365.4 898.5 367.0 899.0 368.5 900.4 C370.0 901.8 371.1 903.7 372.4 905.7 C373.7 907.6 374.3 910.2 376.3 912.2 C378.3 914.1 382.0 916.1 384.1 917.4 C386.3 918.7 388.0 917.4 389.3 920.0 C390.7 922.6 407.2 930.9 392.0 933.0 C376.7 935.2 313.7 939.8 298.0 933.0 C282.4 926.3 295.0 899.3 298.0 892.6Z M458.0 686.0 C459.2 684.3 462.0 682.3 464.0 682.0 C466.0 681.7 468.7 682.3 470.0 684.0 C471.3 685.7 472.3 689.8 472.0 692.0 C471.7 694.2 470.0 696.2 468.0 697.0 C466.0 697.8 461.8 697.8 460.0 697.0 C458.2 696.2 457.3 693.8 457.0 692.0 C456.7 690.2 456.8 687.7 458.0 686.0Z M484.0 708.0 C485.3 706.2 486.0 703.0 487.0 703.0 C488.0 703.0 488.5 706.2 490.0 708.0 C491.5 709.8 494.2 711.7 496.0 714.0 C497.8 716.3 500.3 719.3 501.0 722.0 C501.7 724.7 500.5 727.3 500.0 730.0 C499.5 732.7 497.7 735.0 498.0 738.0 C498.3 741.0 500.0 745.0 502.0 748.0 C504.0 751.0 507.3 752.3 510.0 756.0 C512.7 759.7 517.3 766.0 518.0 770.0 C518.7 774.0 516.0 778.3 514.0 780.0 C512.0 781.7 506.7 780.7 506.0 780.0 C505.3 779.3 509.7 778.0 510.0 776.0 C510.3 774.0 509.7 772.0 508.0 768.0 C506.3 764.0 502.3 756.0 500.0 752.0 C497.7 748.0 496.0 746.7 494.0 744.0 C492.0 741.3 490.0 738.3 488.0 736.0 C486.0 733.7 483.8 732.3 482.0 730.0 C480.2 727.7 477.5 724.7 477.0 722.0 C476.5 719.3 477.8 716.3 479.0 714.0 C480.2 711.7 482.7 709.8 484.0 708.0Z M481.6 703.5 C482.9 701.4 485.7 701.4 487.8 701.9 C489.9 702.4 492.3 704.3 494.1 706.6 C495.9 709.0 497.7 712.6 498.8 716.0 C499.8 719.4 499.6 723.8 500.3 727.0 C501.1 730.1 501.9 732.2 503.5 734.8 C505.0 737.4 507.7 740.5 509.7 742.6 C511.8 744.7 513.9 746.5 516.0 747.3 C518.1 748.1 519.7 746.8 522.3 747.3 C524.9 747.8 528.8 748.6 531.7 750.4 C534.5 752.3 537.7 755.4 539.5 758.3 C541.3 761.1 542.3 764.5 542.6 767.7 C542.9 770.8 541.0 773.9 541.0 777.0 C541.0 780.2 543.1 784.3 542.6 786.4 C542.1 788.5 540.3 789.3 537.9 789.6 C535.6 789.8 531.4 788.5 528.5 788.0 C525.7 787.5 522.5 787.7 520.7 786.4 C518.9 785.1 518.1 782.5 517.6 780.2 C517.0 777.8 518.6 774.2 517.6 772.3 C516.5 770.5 513.1 770.5 511.3 769.2 C509.5 767.9 508.4 766.9 506.6 764.5 C504.8 762.2 502.4 758.3 500.3 755.1 C498.3 752.0 496.2 749.1 494.1 745.7 C492.0 742.3 489.7 738.4 487.8 734.8 C486.0 731.1 484.4 727.2 483.1 723.8 C481.8 720.4 480.3 717.8 480.0 714.4 C479.7 711.0 480.3 705.6 481.6 703.5Z M715.2 536.7 C716.5 535.0 718.8 532.7 720.9 531.0 C722.9 529.3 725.4 527.7 727.7 526.5 C729.9 525.4 732.4 524.6 734.4 524.3 C736.5 523.9 738.6 523.5 740.1 524.3 C741.6 525.0 742.7 526.5 743.5 528.8 C744.2 531.0 744.6 534.8 744.6 537.8 C744.6 540.8 744.4 544.2 743.5 546.9 C742.5 549.5 740.8 551.8 739.0 553.7 C737.1 555.5 734.6 557.0 732.2 558.2 C729.7 559.3 726.5 560.2 724.3 560.4 C722.0 560.6 720.1 560.2 718.6 559.3 C717.1 558.4 716.1 556.7 715.2 554.8 C714.4 552.9 713.9 550.3 713.5 548.0 C713.1 545.7 712.7 543.1 713.0 541.2 C713.2 539.3 713.9 538.4 715.2 536.7Z M672.6 630.2 C673.5 628.2 676.5 627.2 678.7 627.1 C680.9 627.0 683.4 629.3 686.0 629.6 C688.6 629.9 691.9 628.7 694.5 629.0 C697.2 629.3 699.6 630.6 701.8 631.4 C704.1 632.2 707.3 631.6 707.9 633.8 C708.5 636.1 706.3 641.1 705.5 644.8 C704.7 648.4 704.0 653.8 703.0 655.7 C702.1 657.7 701.2 655.5 700.0 656.3 C698.8 657.2 697.5 658.7 695.7 660.6 C694.0 662.5 691.7 665.5 689.7 667.9 C687.6 670.3 685.2 672.8 683.6 675.2 C681.9 677.7 680.1 680.1 679.9 682.5 C679.7 685.0 682.1 687.6 682.3 689.8 C682.6 692.1 681.9 694.4 681.1 695.9 C680.3 697.4 678.9 699.0 677.5 699.0 C676.1 699.0 674.0 697.8 672.6 695.9 C671.2 694.0 670.2 690.0 669.0 687.4 C667.7 684.8 665.7 682.5 665.3 680.1 C664.9 677.7 666.1 675.6 666.5 672.8 C666.9 669.9 667.1 666.7 667.7 663.0 C668.3 659.4 669.3 654.9 670.2 650.9 C671.1 646.8 672.8 642.1 673.2 638.7 C673.6 635.2 671.7 632.1 672.6 630.2Z M714.0 663.0 C715.2 661.0 719.1 659.6 722.5 658.2 C726.0 656.8 731.9 654.5 734.7 654.5 C737.5 654.5 739.0 655.9 739.6 658.2 C740.2 660.4 739.0 664.7 738.3 667.9 C737.7 671.2 737.7 675.8 735.9 677.7 C734.1 679.5 730.0 679.3 727.4 678.9 C724.8 678.5 722.1 676.6 720.1 675.2 C718.1 673.8 716.2 672.4 715.2 670.3 C714.2 668.3 712.8 665.1 714.0 663.0Z M707.9 686.2 C708.8 684.9 711.8 683.4 714.0 683.1 C716.2 682.8 719.7 683.4 721.3 684.3 C722.9 685.3 723.9 687.1 723.7 688.6 C723.5 690.1 721.9 692.5 720.1 693.5 C718.3 694.5 714.7 695.1 712.8 694.7 C710.9 694.3 709.3 692.5 708.5 691.0 C707.7 689.6 707.0 687.5 707.9 686.2Z M764.7 815.2 C765.4 813.4 766.6 812.9 770.3 812.4 C774.0 812.0 784.2 809.4 787.0 812.4 C789.7 815.4 789.3 827.7 787.0 830.5 C784.6 833.3 776.5 830.3 773.0 829.1 C769.6 828.0 767.5 825.9 766.1 823.6 C764.7 821.2 764.0 817.1 764.7 815.2Z M739.7 837.5 C740.8 836.0 742.9 834.7 745.2 834.0 C747.5 833.3 751.0 833.0 753.6 833.3 C756.1 833.7 758.7 834.7 760.5 836.1 C762.4 837.5 764.9 839.8 764.7 841.7 C764.5 843.5 761.4 845.9 759.1 847.2 C756.8 848.5 753.6 849.1 750.8 849.3 C748.0 849.5 744.5 849.7 742.4 848.6 C740.3 847.6 738.7 844.9 738.3 843.0 C737.8 841.2 738.5 839.0 739.7 837.5Z M537.9 767.2 C541.4 768.8 540.5 773.9 540.7 777.0 C540.9 780.0 540.5 783.4 539.3 785.3 C538.1 787.2 536.1 788.1 533.7 788.1 C531.4 788.1 527.5 786.9 525.4 785.3 C523.3 783.7 522.1 781.4 521.2 778.3 C520.3 775.3 517.0 769.1 519.8 767.2 C522.6 765.4 534.4 765.6 537.9 767.2Z M863.9 950.9 C864.8 949.0 867.4 948.0 869.1 947.6 C870.9 947.2 872.8 947.5 874.3 948.3 C875.9 949.0 877.2 950.0 878.3 952.2 C879.3 954.3 880.2 958.0 880.9 961.3 C881.5 964.6 881.7 968.9 882.2 971.7 C882.6 974.6 883.9 976.3 883.5 978.3 C883.0 980.2 881.1 982.6 879.6 983.5 C878.0 984.3 876.1 984.1 874.3 983.5 C872.6 982.8 870.2 981.5 869.1 979.6 C868.0 977.6 868.3 974.3 867.8 971.7 C867.4 969.1 867.2 966.1 866.5 963.9 C865.9 961.7 864.3 960.9 863.9 958.7 C863.5 956.5 863.0 952.7 863.9 950.9Z M547.0 847.6 C547.7 845.6 550.1 843.7 552.2 841.5 C554.2 839.3 557.0 837.2 559.1 834.6 C561.3 832.0 563.3 828.6 565.2 825.9 C567.1 823.1 569.0 820.5 570.4 818.0 C571.9 815.6 572.5 813.3 573.9 811.1 C575.4 808.9 577.1 806.7 579.1 805.0 C581.2 803.3 583.8 802.1 586.1 800.7 C588.4 799.2 591.2 798.3 593.0 796.3 C594.9 794.3 595.9 791.1 597.4 788.5 C598.8 785.9 600.1 782.8 601.7 780.7 C603.3 778.5 604.9 776.7 607.0 775.4 C609.0 774.1 611.9 773.0 613.9 772.8 C615.9 772.7 617.8 773.6 619.1 774.6 C620.4 775.6 621.6 777.3 621.7 778.9 C621.9 780.5 621.0 782.4 620.0 784.1 C619.0 785.9 617.1 787.5 615.7 789.3 C614.2 791.2 612.8 793.3 611.3 795.4 C609.9 797.6 608.3 799.8 607.0 802.4 C605.7 805.0 604.5 808.3 603.5 811.1 C602.5 813.8 602.0 816.3 600.9 818.9 C599.7 821.5 598.0 824.3 596.5 826.7 C595.1 829.2 593.8 831.7 592.2 833.7 C590.6 835.7 588.8 837.3 587.0 838.9 C585.1 840.5 582.9 842.2 580.9 843.3 C578.8 844.3 576.8 844.7 574.8 845.0 C572.8 845.3 570.6 844.6 568.7 845.0 C566.8 845.4 565.4 846.3 563.5 847.6 C561.6 848.9 559.3 851.5 557.4 852.8 C555.5 854.1 553.8 855.3 552.2 855.4 C550.6 855.6 548.7 855.0 547.8 853.7 C547.0 852.4 546.2 849.6 547.0 847.6Z" fill="none" stroke="#1c1c1c" stroke-width="1.5"/>
<path d="M187.0 496.0 C188.5 494.7 192.5 493.0 196.0 492.0 C199.5 491.0 204.0 491.0 208.0 490.0 C212.0 489.0 217.5 485.3 220.0 486.0 C222.5 486.7 222.3 491.0 223.0 494.0 C223.7 497.0 224.5 501.0 224.0 504.0 C223.5 507.0 220.8 509.3 220.0 512.0 C219.2 514.7 219.0 517.3 219.0 520.0 C219.0 522.7 220.5 525.7 220.0 528.0 C219.5 530.3 218.3 532.8 216.0 534.0 C213.7 535.2 209.0 535.7 206.0 535.0 C203.0 534.3 199.5 532.2 198.0 530.0 C196.5 527.8 196.5 524.5 197.0 522.0 C197.5 519.5 200.8 517.3 201.0 515.0 C201.2 512.7 199.8 509.7 198.0 508.0 C196.2 506.3 191.8 506.3 190.0 505.0 C188.2 503.7 187.5 501.5 187.0 500.0 C186.5 498.5 185.5 497.3 187.0 496.0Z M240.0 482.0 C241.2 480.5 245.5 479.7 248.0 480.0 C250.5 480.3 253.5 482.0 255.0 484.0 C256.5 486.0 257.2 489.3 257.0 492.0 C256.8 494.7 254.7 497.7 254.0 500.0 C253.3 502.3 254.0 504.5 253.0 506.0 C252.0 507.5 250.0 508.7 248.0 509.0 C246.0 509.3 242.6 509.0 241.0 508.0 C239.4 507.0 238.4 505.0 238.6 503.0 C238.8 501.0 241.6 498.3 242.0 496.0 C242.4 493.7 241.3 491.3 241.0 489.0 C240.7 486.7 238.8 483.5 240.0 482.0Z M303.0 408.7 C307.1 407.0 323.3 414.1 327.4 415.7 C331.4 417.2 326.7 416.5 327.4 418.3 C328.1 420.0 330.9 423.3 331.7 426.1 C332.6 428.8 333.2 432.5 332.6 434.8 C332.0 437.1 330.3 438.5 328.3 440.0 C326.2 441.5 322.3 443.5 320.4 443.9 C318.6 444.3 319.1 443.0 317.0 442.6 C314.8 442.2 309.7 444.5 307.4 441.7 C305.1 439.0 303.8 431.6 303.0 426.1 C302.3 420.6 299.0 410.4 303.0 408.7Z M329.1 474.8 C330.0 473.6 331.9 472.4 333.5 471.7 C335.1 471.1 337.0 470.8 338.7 470.9 C340.4 470.9 342.2 471.4 343.9 472.2 C345.7 473.0 347.7 474.3 349.1 475.7 C350.6 477.0 352.3 478.4 352.6 480.0 C352.9 481.6 351.9 483.6 350.9 485.2 C349.9 486.8 348.3 488.7 346.5 489.6 C344.8 490.4 342.5 490.6 340.4 490.4 C338.4 490.3 336.1 489.7 334.3 488.7 C332.6 487.7 331.0 485.9 330.0 484.3 C329.0 482.8 328.4 480.7 328.3 479.1 C328.1 477.5 328.3 476.0 329.1 474.8Z M304.6 813.0 C310.7 809.2 317.4 813.0 321.5 812.4 C325.7 811.7 326.7 810.3 329.3 809.1 C332.0 807.9 335.4 806.7 337.2 805.2 C338.9 803.7 338.9 801.3 339.8 800.0 C340.7 798.7 341.3 797.6 342.4 797.4 C343.5 797.2 344.8 797.4 346.3 798.7 C347.8 800.0 349.6 803.0 351.5 805.2 C353.5 807.4 355.7 809.3 358.0 811.7 C360.4 814.1 363.5 817.0 365.9 819.6 C368.3 822.2 370.7 824.8 372.4 827.4 C374.1 830.0 375.0 832.6 376.3 835.2 C377.6 837.8 379.2 840.9 380.2 843.0 C381.2 845.2 382.4 846.3 382.2 848.3 C382.0 850.2 380.3 852.6 378.9 854.8 C377.5 857.0 375.9 859.3 373.7 861.3 C371.5 863.3 368.5 864.8 365.9 866.5 C363.3 868.3 360.2 869.8 358.0 871.7 C355.9 873.7 354.3 876.1 352.8 878.3 C351.3 880.4 350.4 883.6 348.9 884.8 C347.4 886.0 345.2 886.1 343.7 885.4 C342.2 884.8 340.9 882.3 339.8 880.9 C338.7 879.5 338.3 877.6 337.2 877.0 C336.1 876.3 335.0 876.5 333.3 877.0 C331.5 877.4 328.7 878.7 326.7 879.6 C324.8 880.4 323.3 881.1 321.5 882.2 C319.8 883.3 322.4 885.2 316.3 886.1 C310.2 887.0 290.2 895.9 285.0 887.4 C279.8 878.9 281.7 847.6 285.0 835.2 C288.3 822.8 298.5 816.8 304.6 813.0Z M298.0 892.6 C301.1 885.9 311.1 892.5 316.3 892.6 C321.5 892.7 325.4 892.8 329.3 893.3 C333.3 893.7 337.2 894.5 339.8 895.2 C342.4 896.0 343.3 898.3 345.0 897.8 C346.7 897.4 348.5 893.5 350.2 892.6 C352.0 891.7 353.3 891.8 355.4 892.6 C357.6 893.4 361.1 895.9 363.3 897.2 C365.4 898.5 367.0 899.0 368.5 900.4 C370.0 901.8 371.1 903.7 372.4 905.7 C373.7 907.6 374.3 910.2 376.3 912.2 C378.3 914.1 382.0 916.1 384.1 917.4 C386.3 918.7 388.0 917.4 389.3 920.0 C390.7 922.6 407.2 930.9 392.0 933.0 C376.7 935.2 313.7 939.8 298.0 933.0 C282.4 926.3 295.0 899.3 298.0 892.6Z M458.0 686.0 C459.2 684.3 462.0 682.3 464.0 682.0 C466.0 681.7 468.7 682.3 470.0 684.0 C471.3 685.7 472.3 689.8 472.0 692.0 C471.7 694.2 470.0 696.2 468.0 697.0 C466.0 697.8 461.8 697.8 460.0 697.0 C458.2 696.2 457.3 693.8 457.0 692.0 C456.7 690.2 456.8 687.7 458.0 686.0Z M484.0 708.0 C485.3 706.2 486.0 703.0 487.0 703.0 C488.0 703.0 488.5 706.2 490.0 708.0 C491.5 709.8 494.2 711.7 496.0 714.0 C497.8 716.3 500.3 719.3 501.0 722.0 C501.7 724.7 500.5 727.3 500.0 730.0 C499.5 732.7 497.7 735.0 498.0 738.0 C498.3 741.0 500.0 745.0 502.0 748.0 C504.0 751.0 507.3 752.3 510.0 756.0 C512.7 759.7 517.3 766.0 518.0 770.0 C518.7 774.0 516.0 778.3 514.0 780.0 C512.0 781.7 506.7 780.7 506.0 780.0 C505.3 779.3 509.7 778.0 510.0 776.0 C510.3 774.0 509.7 772.0 508.0 768.0 C506.3 764.0 502.3 756.0 500.0 752.0 C497.7 748.0 496.0 746.7 494.0 744.0 C492.0 741.3 490.0 738.3 488.0 736.0 C486.0 733.7 483.8 732.3 482.0 730.0 C480.2 727.7 477.5 724.7 477.0 722.0 C476.5 719.3 477.8 716.3 479.0 714.0 C480.2 711.7 482.7 709.8 484.0 708.0Z M481.6 703.5 C482.9 701.4 485.7 701.4 487.8 701.9 C489.9 702.4 492.3 704.3 494.1 706.6 C495.9 709.0 497.7 712.6 498.8 716.0 C499.8 719.4 499.6 723.8 500.3 727.0 C501.1 730.1 501.9 732.2 503.5 734.8 C505.0 737.4 507.7 740.5 509.7 742.6 C511.8 744.7 513.9 746.5 516.0 747.3 C518.1 748.1 519.7 746.8 522.3 747.3 C524.9 747.8 528.8 748.6 531.7 750.4 C534.5 752.3 537.7 755.4 539.5 758.3 C541.3 761.1 542.3 764.5 542.6 767.7 C542.9 770.8 541.0 773.9 541.0 777.0 C541.0 780.2 543.1 784.3 542.6 786.4 C542.1 788.5 540.3 789.3 537.9 789.6 C535.6 789.8 531.4 788.5 528.5 788.0 C525.7 787.5 522.5 787.7 520.7 786.4 C518.9 785.1 518.1 782.5 517.6 780.2 C517.0 777.8 518.6 774.2 517.6 772.3 C516.5 770.5 513.1 770.5 511.3 769.2 C509.5 767.9 508.4 766.9 506.6 764.5 C504.8 762.2 502.4 758.3 500.3 755.1 C498.3 752.0 496.2 749.1 494.1 745.7 C492.0 742.3 489.7 738.4 487.8 734.8 C486.0 731.1 484.4 727.2 483.1 723.8 C481.8 720.4 480.3 717.8 480.0 714.4 C479.7 711.0 480.3 705.6 481.6 703.5Z M715.2 536.7 C716.5 535.0 718.8 532.7 720.9 531.0 C722.9 529.3 725.4 527.7 727.7 526.5 C729.9 525.4 732.4 524.6 734.4 524.3 C736.5 523.9 738.6 523.5 740.1 524.3 C741.6 525.0 742.7 526.5 743.5 528.8 C744.2 531.0 744.6 534.8 744.6 537.8 C744.6 540.8 744.4 544.2 743.5 546.9 C742.5 549.5 740.8 551.8 739.0 553.7 C737.1 555.5 734.6 557.0 732.2 558.2 C729.7 559.3 726.5 560.2 724.3 560.4 C722.0 560.6 720.1 560.2 718.6 559.3 C717.1 558.4 716.1 556.7 715.2 554.8 C714.4 552.9 713.9 550.3 713.5 548.0 C713.1 545.7 712.7 543.1 713.0 541.2 C713.2 539.3 713.9 538.4 715.2 536.7Z M672.6 630.2 C673.5 628.2 676.5 627.2 678.7 627.1 C680.9 627.0 683.4 629.3 686.0 629.6 C688.6 629.9 691.9 628.7 694.5 629.0 C697.2 629.3 699.6 630.6 701.8 631.4 C704.1 632.2 707.3 631.6 707.9 633.8 C708.5 636.1 706.3 641.1 705.5 644.8 C704.7 648.4 704.0 653.8 703.0 655.7 C702.1 657.7 701.2 655.5 700.0 656.3 C698.8 657.2 697.5 658.7 695.7 660.6 C694.0 662.5 691.7 665.5 689.7 667.9 C687.6 670.3 685.2 672.8 683.6 675.2 C681.9 677.7 680.1 680.1 679.9 682.5 C679.7 685.0 682.1 687.6 682.3 689.8 C682.6 692.1 681.9 694.4 681.1 695.9 C680.3 697.4 678.9 699.0 677.5 699.0 C676.1 699.0 674.0 697.8 672.6 695.9 C671.2 694.0 670.2 690.0 669.0 687.4 C667.7 684.8 665.7 682.5 665.3 680.1 C664.9 677.7 666.1 675.6 666.5 672.8 C666.9 669.9 667.1 666.7 667.7 663.0 C668.3 659.4 669.3 654.9 670.2 650.9 C671.1 646.8 672.8 642.1 673.2 638.7 C673.6 635.2 671.7 632.1 672.6 630.2Z M714.0 663.0 C715.2 661.0 719.1 659.6 722.5 658.2 C726.0 656.8 731.9 654.5 734.7 654.5 C737.5 654.5 739.0 655.9 739.6 658.2 C740.2 660.4 739.0 664.7 738.3 667.9 C737.7 671.2 737.7 675.8 735.9 677.7 C734.1 679.5 730.0 679.3 727.4 678.9 C724.8 678.5 722.1 676.6 720.1 675.2 C718.1 673.8 716.2 672.4 715.2 670.3 C714.2 668.3 712.8 665.1 714.0 663.0Z M707.9 686.2 C708.8 684.9 711.8 683.4 714.0 683.1 C716.2 682.8 719.7 683.4 721.3 684.3 C722.9 685.3 723.9 687.1 723.7 688.6 C723.5 690.1 721.9 692.5 720.1 693.5 C718.3 694.5 714.7 695.1 712.8 694.7 C710.9 694.3 709.3 692.5 708.5 691.0 C707.7 689.6 707.0 687.5 707.9 686.2Z M764.7 815.2 C765.4 813.4 766.6 812.9 770.3 812.4 C774.0 812.0 784.2 809.4 787.0 812.4 C789.7 815.4 789.3 827.7 787.0 830.5 C784.6 833.3 776.5 830.3 773.0 829.1 C769.6 828.0 767.5 825.9 766.1 823.6 C764.7 821.2 764.0 817.1 764.7 815.2Z M739.7 837.5 C740.8 836.0 742.9 834.7 745.2 834.0 C747.5 833.3 751.0 833.0 753.6 833.3 C756.1 833.7 758.7 834.7 760.5 836.1 C762.4 837.5 764.9 839.8 764.7 841.7 C764.5 843.5 761.4 845.9 759.1 847.2 C756.8 848.5 753.6 849.1 750.8 849.3 C748.0 849.5 744.5 849.7 742.4 848.6 C740.3 847.6 738.7 844.9 738.3 843.0 C737.8 841.2 738.5 839.0 739.7 837.5Z M537.9 767.2 C541.4 768.8 540.5 773.9 540.7 777.0 C540.9 780.0 540.5 783.4 539.3 785.3 C538.1 787.2 536.1 788.1 533.7 788.1 C531.4 788.1 527.5 786.9 525.4 785.3 C523.3 783.7 522.1 781.4 521.2 778.3 C520.3 775.3 517.0 769.1 519.8 767.2 C522.6 765.4 534.4 765.6 537.9 767.2Z M863.9 950.9 C864.8 949.0 867.4 948.0 869.1 947.6 C870.9 947.2 872.8 947.5 874.3 948.3 C875.9 949.0 877.2 950.0 878.3 952.2 C879.3 954.3 880.2 958.0 880.9 961.3 C881.5 964.6 881.7 968.9 882.2 971.7 C882.6 974.6 883.9 976.3 883.5 978.3 C883.0 980.2 881.1 982.6 879.6 983.5 C878.0 984.3 876.1 984.1 874.3 983.5 C872.6 982.8 870.2 981.5 869.1 979.6 C868.0 977.6 868.3 974.3 867.8 971.7 C867.4 969.1 867.2 966.1 866.5 963.9 C865.9 961.7 864.3 960.9 863.9 958.7 C863.5 956.5 863.0 952.7 863.9 950.9Z M547.0 847.6 C547.7 845.6 550.1 843.7 552.2 841.5 C554.2 839.3 557.0 837.2 559.1 834.6 C561.3 832.0 563.3 828.6 565.2 825.9 C567.1 823.1 569.0 820.5 570.4 818.0 C571.9 815.6 572.5 813.3 573.9 811.1 C575.4 808.9 577.1 806.7 579.1 805.0 C581.2 803.3 583.8 802.1 586.1 800.7 C588.4 799.2 591.2 798.3 593.0 796.3 C594.9 794.3 595.9 791.1 597.4 788.5 C598.8 785.9 600.1 782.8 601.7 780.7 C603.3 778.5 604.9 776.7 607.0 775.4 C609.0 774.1 611.9 773.0 613.9 772.8 C615.9 772.7 617.8 773.6 619.1 774.6 C620.4 775.6 621.6 777.3 621.7 778.9 C621.9 780.5 621.0 782.4 620.0 784.1 C619.0 785.9 617.1 787.5 615.7 789.3 C614.2 791.2 612.8 793.3 611.3 795.4 C609.9 797.6 608.3 799.8 607.0 802.4 C605.7 805.0 604.5 808.3 603.5 811.1 C602.5 813.8 602.0 816.3 600.9 818.9 C599.7 821.5 598.0 824.3 596.5 826.7 C595.1 829.2 593.8 831.7 592.2 833.7 C590.6 835.7 588.8 837.3 587.0 838.9 C585.1 840.5 582.9 842.2 580.9 843.3 C578.8 844.3 576.8 844.7 574.8 845.0 C572.8 845.3 570.6 844.6 568.7 845.0 C566.8 845.4 565.4 846.3 563.5 847.6 C561.6 848.9 559.3 851.5 557.4 852.8 C555.5 854.1 553.8 855.3 552.2 855.4 C550.6 855.6 548.7 855.0 547.8 853.7 C547.0 852.4 546.2 849.6 547.0 847.6Z" fill="#7cb8dc"/>
<path d="M337.4 481.3 C337.8 480.4 339.9 479.6 341.3 479.6 C342.7 479.5 344.6 480.2 345.7 480.9 C346.7 481.5 347.4 482.6 347.4 483.5 C347.4 484.3 346.5 485.5 345.7 486.1 C344.8 486.7 343.3 487.2 342.2 487.0 C341.0 486.7 339.5 485.7 338.7 484.8 C337.9 483.8 337.0 482.2 337.4 481.3Z M298.0 826.1 C303.4 824.5 312.6 825.8 317.0 825.4 C321.3 825.1 321.2 824.5 324.1 824.1 C327.1 823.8 331.5 823.4 334.6 823.5 C337.6 823.6 339.8 824.1 342.4 824.8 C345.0 825.4 348.3 826.1 350.2 827.4 C352.2 828.7 353.5 830.4 354.1 832.6 C354.8 834.8 353.7 837.8 354.1 840.4 C354.6 843.0 356.4 845.9 356.7 848.3 C357.1 850.7 357.2 852.6 356.1 854.8 C355.0 857.0 352.5 859.3 350.2 861.3 C347.9 863.3 345.0 865.0 342.4 866.5 C339.8 868.0 337.0 869.3 334.6 870.4 C332.2 871.5 330.2 872.2 328.0 873.0 C325.9 873.9 323.7 874.3 321.5 875.7 C319.3 877.0 316.7 879.3 315.0 880.9 C313.3 882.4 316.1 884.1 311.1 884.8 C306.1 885.4 289.3 893.0 285.0 884.8 C280.7 876.5 282.8 845.0 285.0 835.2 C287.2 825.4 292.7 827.7 298.0 826.1Z M298.0 898.5 C300.9 892.7 310.7 897.9 315.0 898.5 C319.3 899.0 320.4 900.8 324.1 901.7 C327.8 902.7 333.9 903.7 337.2 904.3 C340.4 905.0 341.5 906.3 343.7 905.7 C345.9 905.0 347.8 901.5 350.2 900.4 C352.6 899.3 355.7 898.7 358.0 899.1 C360.4 899.6 362.6 901.3 364.6 903.0 C366.5 904.8 367.8 907.4 369.8 909.6 C371.7 911.7 374.3 914.3 376.3 916.1 C378.3 917.8 380.2 917.2 381.5 920.0 C382.8 922.8 398.0 930.9 384.1 933.0 C370.2 935.2 312.4 938.8 298.0 933.0 C283.7 927.3 295.2 904.2 298.0 898.5Z M517.6 753.6 C518.7 752.3 521.5 750.7 523.8 750.4 C526.2 750.2 529.3 750.7 531.7 752.0 C534.0 753.3 536.5 755.7 537.9 758.3 C539.3 760.9 540.1 764.5 540.3 767.7 C540.4 770.8 539.2 774.4 538.7 777.0 C538.2 779.7 538.6 782.0 537.1 783.3 C535.7 784.6 532.0 785.4 530.1 784.9 C528.1 784.3 526.4 782.5 525.4 780.2 C524.3 777.8 524.9 773.4 523.8 770.8 C522.8 768.2 520.3 766.6 519.1 764.5 C518.0 762.4 517.0 760.1 516.8 758.3 C516.5 756.4 516.4 754.9 517.6 753.6Z M716.3 539.0 C717.5 536.9 719.9 535.0 722.0 533.3 C724.1 531.6 726.5 529.9 728.8 528.8 C731.0 527.7 733.7 526.7 735.6 526.5 C737.4 526.3 739.0 526.5 740.1 527.7 C741.2 528.8 742.0 530.9 742.3 533.3 C742.7 535.8 742.7 539.5 742.3 542.3 C742.0 545.2 741.4 548.0 740.1 550.3 C738.8 552.5 736.7 554.6 734.4 555.9 C732.2 557.2 728.8 558.0 726.5 558.2 C724.3 558.4 722.4 558.0 720.9 557.0 C719.4 556.1 718.4 554.4 717.5 552.5 C716.5 550.6 715.4 548.0 715.2 545.7 C715.0 543.5 715.2 541.0 716.3 539.0Z M678.7 658.2 C678.8 655.5 679.5 651.3 680.5 648.4 C681.5 645.6 682.9 642.8 684.8 641.1 C686.7 639.5 689.9 638.7 692.1 638.7 C694.3 638.7 696.6 640.1 698.2 641.1 C699.8 642.1 701.2 643.2 701.8 644.8 C702.4 646.4 703.0 648.8 701.8 650.9 C700.6 652.9 696.6 655.3 694.5 657.0 C692.5 658.6 691.3 659.4 689.7 660.6 C688.0 661.8 686.4 663.7 684.8 664.3 C683.2 664.9 680.9 665.3 679.9 664.3 C678.9 663.2 678.6 660.8 678.7 658.2Z M768.2 816.6 C768.9 815.3 769.9 814.9 773.0 814.5 C776.2 814.2 784.6 812.1 787.0 814.5 C789.3 817.0 789.0 826.9 787.0 829.1 C784.9 831.3 777.4 828.9 774.4 827.7 C771.4 826.6 769.9 824.0 768.9 822.2 C767.8 820.3 767.5 817.9 768.2 816.6Z M742.4 839.6 C742.9 838.3 745.9 837.8 748.0 837.5 C750.1 837.1 753.0 837.0 755.0 837.5 C756.9 837.9 759.1 839.2 759.8 840.3 C760.5 841.3 760.4 842.8 759.1 843.7 C757.9 844.7 754.5 845.6 752.2 845.8 C749.9 846.1 746.8 846.2 745.2 845.1 C743.6 844.1 742.0 840.8 742.4 839.6Z M869.1 953.5 C869.9 951.7 872.8 950.7 874.3 950.9 C875.9 951.1 877.6 952.6 878.3 954.8 C878.9 957.0 878.0 960.9 878.3 963.9 C878.5 967.0 879.6 970.4 879.6 973.0 C879.6 975.7 879.1 978.3 878.3 979.6 C877.4 980.9 875.5 981.5 874.3 980.9 C873.2 980.2 871.5 977.8 871.1 975.7 C870.7 973.5 872.0 970.2 871.7 967.8 C871.5 965.4 870.2 963.7 869.8 961.3 C869.3 958.9 868.4 955.2 869.1 953.5Z M549.6 846.7 C550.3 845.1 552.9 842.5 554.8 840.7 C556.7 838.8 558.8 837.6 560.9 835.4 C562.9 833.3 565.1 830.4 567.0 827.6 C568.8 824.9 570.6 821.5 572.2 818.9 C573.8 816.3 575.1 814.0 576.5 812.0 C578.0 809.9 579.0 808.3 580.9 806.7 C582.8 805.1 585.7 803.8 587.8 802.4 C590.0 800.9 592.2 799.9 593.9 798.0 C595.7 796.2 597.1 793.4 598.3 791.1 C599.4 788.8 599.7 786.2 600.9 784.1 C602.0 782.1 603.3 780.2 605.2 778.9 C607.1 777.6 610.1 776.4 612.2 776.3 C614.2 776.2 616.4 777.0 617.4 778.0 C618.4 779.1 618.7 780.8 618.3 782.4 C617.8 784.0 616.1 785.9 614.8 787.6 C613.5 789.3 611.9 790.8 610.4 792.8 C609.0 794.9 607.5 797.5 606.1 799.8 C604.6 802.1 602.8 804.4 601.7 806.7 C600.7 809.1 600.6 811.4 600.0 813.7 C599.4 816.0 599.1 818.6 598.3 820.7 C597.4 822.7 596.1 824.0 594.8 825.9 C593.5 827.8 592.0 830.1 590.4 832.0 C588.8 833.8 587.1 835.7 585.2 837.2 C583.3 838.6 581.0 839.9 579.1 840.7 C577.2 841.4 575.8 841.4 573.9 841.5 C572.0 841.7 569.6 841.1 567.8 841.5 C566.1 842.0 565.1 843.0 563.5 844.1 C561.9 845.3 560.0 847.2 558.3 848.5 C556.5 849.8 554.3 851.7 553.0 852.0 C551.7 852.2 551.0 851.1 550.4 850.2 C549.9 849.3 548.8 848.3 549.6 846.7Z" fill="none" stroke="#1c1c1c" stroke-width="1.5"/>
<path d="M337.4 481.3 C337.8 480.4 339.9 479.6 341.3 479.6 C342.7 479.5 344.6 480.2 345.7 480.9 C346.7 481.5 347.4 482.6 347.4 483.5 C347.4 484.3 346.5 485.5 345.7 486.1 C344.8 486.7 343.3 487.2 342.2 487.0 C341.0 486.7 339.5 485.7 338.7 484.8 C337.9 483.8 337.0 482.2 337.4 481.3Z M298.0 826.1 C303.4 824.5 312.6 825.8 317.0 825.4 C321.3 825.1 321.2 824.5 324.1 824.1 C327.1 823.8 331.5 823.4 334.6 823.5 C337.6 823.6 339.8 824.1 342.4 824.8 C345.0 825.4 348.3 826.1 350.2 827.4 C352.2 828.7 353.5 830.4 354.1 832.6 C354.8 834.8 353.7 837.8 354.1 840.4 C354.6 843.0 356.4 845.9 356.7 848.3 C357.1 850.7 357.2 852.6 356.1 854.8 C355.0 857.0 352.5 859.3 350.2 861.3 C347.9 863.3 345.0 865.0 342.4 866.5 C339.8 868.0 337.0 869.3 334.6 870.4 C332.2 871.5 330.2 872.2 328.0 873.0 C325.9 873.9 323.7 874.3 321.5 875.7 C319.3 877.0 316.7 879.3 315.0 880.9 C313.3 882.4 316.1 884.1 311.1 884.8 C306.1 885.4 289.3 893.0 285.0 884.8 C280.7 876.5 282.8 845.0 285.0 835.2 C287.2 825.4 292.7 827.7 298.0 826.1Z M298.0 898.5 C300.9 892.7 310.7 897.9 315.0 898.5 C319.3 899.0 320.4 900.8 324.1 901.7 C327.8 902.7 333.9 903.7 337.2 904.3 C340.4 905.0 341.5 906.3 343.7 905.7 C345.9 905.0 347.8 901.5 350.2 900.4 C352.6 899.3 355.7 898.7 358.0 899.1 C360.4 899.6 362.6 901.3 364.6 903.0 C366.5 904.8 367.8 907.4 369.8 909.6 C371.7 911.7 374.3 914.3 376.3 916.1 C378.3 917.8 380.2 917.2 381.5 920.0 C382.8 922.8 398.0 930.9 384.1 933.0 C370.2 935.2 312.4 938.8 298.0 933.0 C283.7 927.3 295.2 904.2 298.0 898.5Z M517.6 753.6 C518.7 752.3 521.5 750.7 523.8 750.4 C526.2 750.2 529.3 750.7 531.7 752.0 C534.0 753.3 536.5 755.7 537.9 758.3 C539.3 760.9 540.1 764.5 540.3 767.7 C540.4 770.8 539.2 774.4 538.7 777.0 C538.2 779.7 538.6 782.0 537.1 783.3 C535.7 784.6 532.0 785.4 530.1 784.9 C528.1 784.3 526.4 782.5 525.4 780.2 C524.3 777.8 524.9 773.4 523.8 770.8 C522.8 768.2 520.3 766.6 519.1 764.5 C518.0 762.4 517.0 760.1 516.8 758.3 C516.5 756.4 516.4 754.9 517.6 753.6Z M716.3 539.0 C717.5 536.9 719.9 535.0 722.0 533.3 C724.1 531.6 726.5 529.9 728.8 528.8 C731.0 527.7 733.7 526.7 735.6 526.5 C737.4 526.3 739.0 526.5 740.1 527.7 C741.2 528.8 742.0 530.9 742.3 533.3 C742.7 535.8 742.7 539.5 742.3 542.3 C742.0 545.2 741.4 548.0 740.1 550.3 C738.8 552.5 736.7 554.6 734.4 555.9 C732.2 557.2 728.8 558.0 726.5 558.2 C724.3 558.4 722.4 558.0 720.9 557.0 C719.4 556.1 718.4 554.4 717.5 552.5 C716.5 550.6 715.4 548.0 715.2 545.7 C715.0 543.5 715.2 541.0 716.3 539.0Z M678.7 658.2 C678.8 655.5 679.5 651.3 680.5 648.4 C681.5 645.6 682.9 642.8 684.8 641.1 C686.7 639.5 689.9 638.7 692.1 638.7 C694.3 638.7 696.6 640.1 698.2 641.1 C699.8 642.1 701.2 643.2 701.8 644.8 C702.4 646.4 703.0 648.8 701.8 650.9 C700.6 652.9 696.6 655.3 694.5 657.0 C692.5 658.6 691.3 659.4 689.7 660.6 C688.0 661.8 686.4 663.7 684.8 664.3 C683.2 664.9 680.9 665.3 679.9 664.3 C678.9 663.2 678.6 660.8 678.7 658.2Z M768.2 816.6 C768.9 815.3 769.9 814.9 773.0 814.5 C776.2 814.2 784.6 812.1 787.0 814.5 C789.3 817.0 789.0 826.9 787.0 829.1 C784.9 831.3 777.4 828.9 774.4 827.7 C771.4 826.6 769.9 824.0 768.9 822.2 C767.8 820.3 767.5 817.9 768.2 816.6Z M742.4 839.6 C742.9 838.3 745.9 837.8 748.0 837.5 C750.1 837.1 753.0 837.0 755.0 837.5 C756.9 837.9 759.1 839.2 759.8 840.3 C760.5 841.3 760.4 842.8 759.1 843.7 C757.9 844.7 754.5 845.6 752.2 845.8 C749.9 846.1 746.8 846.2 745.2 845.1 C743.6 844.1 742.0 840.8 742.4 839.6Z M869.1 953.5 C869.9 951.7 872.8 950.7 874.3 950.9 C875.9 951.1 877.6 952.6 878.3 954.8 C878.9 957.0 878.0 960.9 878.3 963.9 C878.5 967.0 879.6 970.4 879.6 973.0 C879.6 975.7 879.1 978.3 878.3 979.6 C877.4 980.9 875.5 981.5 874.3 980.9 C873.2 980.2 871.5 977.8 871.1 975.7 C870.7 973.5 872.0 970.2 871.7 967.8 C871.5 965.4 870.2 963.7 869.8 961.3 C869.3 958.9 868.4 955.2 869.1 953.5Z M549.6 846.7 C550.3 845.1 552.9 842.5 554.8 840.7 C556.7 838.8 558.8 837.6 560.9 835.4 C562.9 833.3 565.1 830.4 567.0 827.6 C568.8 824.9 570.6 821.5 572.2 818.9 C573.8 816.3 575.1 814.0 576.5 812.0 C578.0 809.9 579.0 808.3 580.9 806.7 C582.8 805.1 585.7 803.8 587.8 802.4 C590.0 800.9 592.2 799.9 593.9 798.0 C595.7 796.2 597.1 793.4 598.3 791.1 C599.4 788.8 599.7 786.2 600.9 784.1 C602.0 782.1 603.3 780.2 605.2 778.9 C607.1 777.6 610.1 776.4 612.2 776.3 C614.2 776.2 616.4 777.0 617.4 778.0 C618.4 779.1 618.7 780.8 618.3 782.4 C617.8 784.0 616.1 785.9 614.8 787.6 C613.5 789.3 611.9 790.8 610.4 792.8 C609.0 794.9 607.5 797.5 606.1 799.8 C604.6 802.1 602.8 804.4 601.7 806.7 C600.7 809.1 600.6 811.4 600.0 813.7 C599.4 816.0 599.1 818.6 598.3 820.7 C597.4 822.7 596.1 824.0 594.8 825.9 C593.5 827.8 592.0 830.1 590.4 832.0 C588.8 833.8 587.1 835.7 585.2 837.2 C583.3 838.6 581.0 839.9 579.1 840.7 C577.2 841.4 575.8 841.4 573.9 841.5 C572.0 841.7 569.6 841.1 567.8 841.5 C566.1 842.0 565.1 843.0 563.5 844.1 C561.9 845.3 560.0 847.2 558.3 848.5 C556.5 849.8 554.3 851.7 553.0 852.0 C551.7 852.2 551.0 851.1 550.4 850.2 C549.9 849.3 548.8 848.3 549.6 846.7Z" fill="#64a4ec"/>
<path d="M298.0 854.8 C302.4 850.9 308.0 854.2 311.1 853.5 C314.1 852.7 314.3 850.8 316.3 850.2 C318.3 849.7 320.9 849.7 322.8 850.2 C324.8 850.8 326.7 852.1 328.0 853.5 C329.3 854.9 330.7 857.0 330.7 858.7 C330.7 860.4 329.1 862.2 328.0 863.9 C327.0 865.7 325.7 867.6 324.1 869.1 C322.6 870.7 321.1 872.0 318.9 873.0 C316.7 874.1 314.1 875.1 311.1 875.7 C308.0 876.2 305.0 876.1 300.7 876.3 C296.3 876.5 285.4 880.5 285.0 877.0 C284.6 873.4 293.7 858.7 298.0 854.8Z M718.6 542.3 C719.4 540.8 721.4 538.8 723.1 537.8 C724.8 536.9 727.1 536.3 728.8 536.7 C730.5 537.1 732.2 538.6 733.3 540.1 C734.4 541.6 735.4 543.9 735.6 545.7 C735.8 547.6 735.4 549.9 734.4 551.4 C733.5 552.9 731.6 554.2 729.9 554.8 C728.2 555.3 725.8 555.3 724.3 554.8 C722.8 554.2 721.8 552.7 720.9 551.4 C719.9 550.1 719.0 548.4 718.6 546.9 C718.2 545.4 717.9 543.9 718.6 542.3Z M600.0 786.7 C600.3 785.4 601.2 784.2 602.6 783.3 C604.1 782.3 606.8 781.5 608.7 781.1 C610.6 780.7 612.9 780.3 613.9 780.7 C614.9 781.0 615.1 782.2 614.8 783.3 C614.5 784.3 613.2 785.6 612.2 786.7 C611.2 787.9 610.0 789.2 608.7 790.2 C607.4 791.2 605.7 792.7 604.3 792.8 C603.0 793.0 601.6 792.1 600.9 791.1 C600.1 790.1 599.7 788.0 600.0 786.7Z M578.3 813.7 C579.1 812.4 580.3 811.1 581.7 810.2 C583.2 809.3 585.5 808.2 587.0 808.5 C588.4 808.8 590.0 810.5 590.4 812.0 C590.9 813.4 590.1 815.6 589.6 817.2 C589.0 818.8 587.5 819.8 587.0 821.5 C586.4 823.3 586.7 825.6 586.1 827.6 C585.5 829.6 584.8 832.1 583.5 833.7 C582.2 835.3 580.0 836.6 578.3 837.2 C576.5 837.8 574.3 837.8 573.0 837.2 C571.7 836.6 570.6 835.1 570.4 833.7 C570.3 832.2 571.4 830.2 572.2 828.5 C572.9 826.7 574.1 825.0 574.8 823.3 C575.5 821.5 575.9 819.6 576.5 818.0 C577.1 816.4 577.4 815.0 578.3 813.7Z" fill="none" stroke="#1c1c1c" stroke-width="1.5"/>
<path d="M298.0 854.8 C302.4 850.9 308.0 854.2 311.1 853.5 C314.1 852.7 314.3 850.8 316.3 850.2 C318.3 849.7 320.9 849.7 322.8 850.2 C324.8 850.8 326.7 852.1 328.0 853.5 C329.3 854.9 330.7 857.0 330.7 858.7 C330.7 860.4 329.1 862.2 328.0 863.9 C327.0 865.7 325.7 867.6 324.1 869.1 C322.6 870.7 321.1 872.0 318.9 873.0 C316.7 874.1 314.1 875.1 311.1 875.7 C308.0 876.2 305.0 876.1 300.7 876.3 C296.3 876.5 285.4 880.5 285.0 877.0 C284.6 873.4 293.7 858.7 298.0 854.8Z M718.6 542.3 C719.4 540.8 721.4 538.8 723.1 537.8 C724.8 536.9 727.1 536.3 728.8 536.7 C730.5 537.1 732.2 538.6 733.3 540.1 C734.4 541.6 735.4 543.9 735.6 545.7 C735.8 547.6 735.4 549.9 734.4 551.4 C733.5 552.9 731.6 554.2 729.9 554.8 C728.2 555.3 725.8 555.3 724.3 554.8 C722.8 554.2 721.8 552.7 720.9 551.4 C719.9 550.1 719.0 548.4 718.6 546.9 C718.2 545.4 717.9 543.9 718.6 542.3Z M600.0 786.7 C600.3 785.4 601.2 784.2 602.6 783.3 C604.1 782.3 606.8 781.5 608.7 781.1 C610.6 780.7 612.9 780.3 613.9 780.7 C614.9 781.0 615.1 782.2 614.8 783.3 C614.5 784.3 613.2 785.6 612.2 786.7 C611.2 787.9 610.0 789.2 608.7 790.2 C607.4 791.2 605.7 792.7 604.3 792.8 C603.0 793.0 601.6 792.1 600.9 791.1 C600.1 790.1 599.7 788.0 600.0 786.7Z M578.3 813.7 C579.1 812.4 580.3 811.1 581.7 810.2 C583.2 809.3 585.5 808.2 587.0 808.5 C588.4 808.8 590.0 810.5 590.4 812.0 C590.9 813.4 590.1 815.6 589.6 817.2 C589.0 818.8 587.5 819.8 587.0 821.5 C586.4 823.3 586.7 825.6 586.1 827.6 C585.5 829.6 584.8 832.1 583.5 833.7 C582.2 835.3 580.0 836.6 578.3 837.2 C576.5 837.8 574.3 837.8 573.0 837.2 C571.7 836.6 570.6 835.1 570.4 833.7 C570.3 832.2 571.4 830.2 572.2 828.5 C572.9 826.7 574.1 825.0 574.8 823.3 C575.5 821.5 575.9 819.6 576.5 818.0 C577.1 816.4 577.4 815.0 578.3 813.7Z" fill="#689cf4"/>
<path d="M720.3 543.5 C721.0 542.3 722.8 541.4 724.3 541.2 C725.7 541.0 727.6 541.4 728.8 542.3 C730.0 543.3 731.2 545.4 731.6 546.9 C732.0 548.4 731.9 550.4 731.0 551.4 C730.2 552.4 727.9 553.1 726.5 553.1 C725.1 553.1 723.6 552.2 722.6 551.4 C721.5 550.5 720.7 549.3 720.3 548.0 C719.9 546.7 719.6 544.6 720.3 543.5Z M577.4 817.2 C577.7 815.9 579.6 814.9 580.9 814.6 C582.2 814.3 584.3 814.7 585.2 815.4 C586.1 816.2 586.4 817.8 586.1 818.9 C585.8 820.1 584.6 821.8 583.5 822.4 C582.3 823.0 580.1 823.3 579.1 822.4 C578.1 821.5 577.1 818.5 577.4 817.2Z M573.9 830.2 C574.3 828.9 576.1 827.8 577.4 827.6 C578.7 827.5 581.0 828.3 581.7 829.3 C582.5 830.4 582.3 832.5 581.7 833.7 C581.2 834.9 579.4 836.0 578.3 836.3 C577.1 836.6 575.5 836.4 574.8 835.4 C574.1 834.4 573.5 831.5 573.9 830.2Z" fill="none" stroke="#1c1c1c" stroke-width="1.5"/>
<path d="M720.3 543.5 C721.0 542.3 722.8 541.4 724.3 541.2 C725.7 541.0 727.6 541.4 728.8 542.3 C730.0 543.3 731.2 545.4 731.6 546.9 C732.0 548.4 731.9 550.4 731.0 551.4 C730.2 552.4 727.9 553.1 726.5 553.1 C725.1 553.1 723.6 552.2 722.6 551.4 C721.5 550.5 720.7 549.3 720.3 548.0 C719.9 546.7 719.6 544.6 720.3 543.5Z M577.4 817.2 C577.7 815.9 579.6 814.9 580.9 814.6 C582.2 814.3 584.3 814.7 585.2 815.4 C586.1 816.2 586.4 817.8 586.1 818.9 C585.8 820.1 584.6 821.8 583.5 822.4 C582.3 823.0 580.1 823.3 579.1 822.4 C578.1 821.5 577.1 818.5 577.4 817.2Z M573.9 830.2 C574.3 828.9 576.1 827.8 577.4 827.6 C578.7 827.5 581.0 828.3 581.7 829.3 C582.5 830.4 582.3 832.5 581.7 833.7 C581.2 834.9 579.4 836.0 578.3 836.3 C577.1 836.6 575.5 836.4 574.8 835.4 C574.1 834.4 573.5 831.5 573.9 830.2Z" fill="#8c9cf8"/>
<path d="M578.3 818.9 C578.7 818.3 580.2 817.8 580.9 818.0 C581.5 818.3 582.2 819.9 582.2 820.7 C582.1 821.4 581.1 822.7 580.4 822.8 C579.8 823.0 578.6 822.2 578.3 821.5 C577.9 820.9 577.8 819.5 578.3 818.9Z M574.8 831.5 C575.1 830.8 576.4 829.4 577.4 829.3 C578.3 829.3 580.0 830.3 580.4 831.1 C580.9 831.9 580.6 833.5 580.0 834.1 C579.4 834.8 577.8 835.1 577.0 835.0 C576.2 834.9 575.6 834.3 575.2 833.7 C574.9 833.1 574.4 832.2 574.8 831.5Z" fill="none" stroke="#1c1c1c" stroke-width="1.5"/>
<path d="M578.3 818.9 C578.7 818.3 580.2 817.8 580.9 818.0 C581.5 818.3 582.2 819.9 582.2 820.7 C582.1 821.4 581.1 822.7 580.4 822.8 C579.8 823.0 578.6 822.2 578.3 821.5 C577.9 820.9 577.8 819.5 578.3 818.9Z M574.8 831.5 C575.1 830.8 576.4 829.4 577.4 829.3 C578.3 829.3 580.0 830.3 580.4 831.1 C580.9 831.9 580.6 833.5 580.0 834.1 C579.4 834.8 577.8 835.1 577.0 835.0 C576.2 834.9 575.6 834.3 575.2 833.7 C574.9 833.1 574.4 832.2 574.8 831.5Z" fill="#aa98f8"/>
<ellipse cx="208.0" cy="527.6" rx="4.4" ry="4.4" fill="#64a4ec" stroke="#111" stroke-width="0.75"/>
<ellipse cx="318.7" cy="432.6" rx="4.8" ry="4.8" fill="#64a4ec" stroke="#111" stroke-width="0.75"/>
<ellipse cx="490.0" cy="346.0" rx="7.0" ry="7.6" fill="#7cb8dc" stroke="#111" stroke-width="0.75"/>
<ellipse cx="507.6" cy="362.0" rx="4.0" ry="4.0" fill="#98c8cc" stroke="#111" stroke-width="0.75"/>
<ellipse cx="417.4" cy="422.6" rx="4.0" ry="4.0" fill="#98c8cc" stroke="#111" stroke-width="0.75"/>
<ellipse cx="459.6" cy="401.0" rx="3.0" ry="3.6" fill="#b0d8c0" stroke="#111" stroke-width="0.75"/>
<ellipse cx="488.1" cy="718.0" rx="4.7" ry="4.7" fill="#64a4ec" stroke="#111" stroke-width="0.75"/>
<ellipse cx="530.1" cy="757.5" rx="2.8" ry="2.8" fill="#689cf4" stroke="#111" stroke-width="0.75"/>
<ellipse cx="534.0" cy="722.3" rx="2.3" ry="2.3" fill="#7cb8dc" stroke="#111" stroke-width="0.75"/>
<ellipse cx="465.0" cy="687.0" rx="2.4" ry="2.4" fill="#64a4ec" stroke="#111" stroke-width="0.75"/>
<ellipse cx="488.4" cy="719.0" rx="5.0" ry="5.0" fill="#64a4ec" stroke="#111" stroke-width="0.75"/>
<ellipse cx="317.6" cy="861.7" rx="1.0" ry="1.0" fill="#8c9cf8" stroke="#111" stroke-width="0.75"/>
<ellipse cx="742.3" cy="501.1" rx="2.8" ry="2.8" fill="#98c8cc" stroke="#111" stroke-width="0.75"/>
<ellipse cx="727.7" cy="550.3" rx="2.8" ry="1.7" fill="#aa98f8" stroke="#111" stroke-width="0.75"/>
<ellipse cx="727.4" cy="703.2" rx="3.4" ry="5.1" fill="#7cb8dc" stroke="#111" stroke-width="0.75"/>
<ellipse cx="701.8" cy="710.5" rx="4.3" ry="3.4" fill="#7cb8dc" stroke="#111" stroke-width="0.75"/>
<ellipse cx="687.2" cy="729.4" rx="3.7" ry="3.0" fill="#7cb8dc" stroke="#111" stroke-width="0.75"/>
<ellipse cx="677.0" cy="693.5" rx="4.9" ry="5.6" fill="#7cb8dc" stroke="#111" stroke-width="0.75"/>
<ellipse cx="701.4" cy="710.2" rx="4.2" ry="3.5" fill="#7cb8dc" stroke="#111" stroke-width="0.75"/>
<ellipse cx="727.1" cy="702.5" rx="3.5" ry="4.9" fill="#7cb8dc" stroke="#111" stroke-width="0.75"/>
<ellipse cx="686.8" cy="731.0" rx="3.9" ry="5.6" fill="#7cb8dc" stroke="#111" stroke-width="0.75"/>
<ellipse cx="701.4" cy="738.7" rx="3.5" ry="4.9" fill="#7cb8dc" stroke="#111" stroke-width="0.75"/>
<ellipse cx="715.3" cy="691.4" rx="7.0" ry="3.5" fill="#7cb8dc" stroke="#111" stroke-width="0.75"/>
<ellipse cx="708.6" cy="771.1" rx="7.0" ry="6.3" fill="#98c8cc" stroke="#111" stroke-width="0.75"/>
<ellipse cx="708.6" cy="771.1" rx="3.9" ry="3.6" fill="#7cb8dc" stroke="#111" stroke-width="0.75"/>
<ellipse cx="686.8" cy="779.7" rx="2.8" ry="3.9" fill="#98c8cc" stroke="#111" stroke-width="0.75" transform="rotate(20 686.8 779.7)"/>
<ellipse cx="663.8" cy="820.1" rx="3.1" ry="2.8" fill="#7cb8dc" stroke="#111" stroke-width="0.75"/>
<ellipse cx="663.8" cy="820.1" rx="1.5" ry="1.4" fill="#64a4ec" stroke="#111" stroke-width="0.75"/>
<ellipse cx="631.1" cy="845.1" rx="2.5" ry="2.5" fill="#e4f0a8" stroke="#111" stroke-width="0.75"/>
<ellipse cx="524.7" cy="826.3" rx="2.1" ry="2.1" fill="#7cb8dc" stroke="#111" stroke-width="0.75"/>
<ellipse cx="542.4" cy="859.0" rx="1.9" ry="1.9" fill="#7cb8dc" stroke="#111" stroke-width="0.75"/>
<ellipse cx="535.1" cy="799.9" rx="3.5" ry="4.5" fill="#cce8b0" stroke="#111" stroke-width="0.75"/>
<ellipse cx="547.0" cy="827.7" rx="4.2" ry="6.3" fill="#cce8b0" stroke="#111" stroke-width="0.75"/>
<ellipse cx="536.2" cy="842.3" rx="4.2" ry="4.9" fill="#cce8b0" stroke="#111" stroke-width="0.75"/>
<ellipse cx="549.7" cy="778.3" rx="2.5" ry="3.1" fill="#cce8b0" stroke="#111" stroke-width="0.75"/>
<ellipse cx="519.0" cy="948.0" rx="2.0" ry="2.0" fill="#7cb8dc" stroke="#111" stroke-width="0.75"/>
<ellipse cx="433.6" cy="907.4" rx="1.6" ry="1.6" fill="#7cb8dc" stroke="#111" stroke-width="0.75"/>
<ellipse cx="592.4" cy="803.3" rx="1.6" ry="1.6" fill="#689cf4" stroke="#111" stroke-width="0.75"/>
<ellipse cx="512.6" cy="424.0" rx="3.4" ry="3.4" fill="#e4f0a8" stroke="#111" stroke-width="0.75"/>
<ellipse cx="563.6" cy="469.0" rx="4.0" ry="4.0" fill="#e4f0a8" stroke="#111" stroke-width="0.75"/>
<ellipse cx="591.0" cy="462.4" rx="3.0" ry="3.0" fill="#e4f0a8" stroke="#111" stroke-width="0.75"/>
<ellipse cx="589.6" cy="474.4" rx="2.4" ry="3.4" fill="#e4f0a8" stroke="#111" stroke-width="0.75"/>
<ellipse cx="542.0" cy="474.4" rx="1.6" ry="1.4" fill="#e4f0a8" stroke="#111" stroke-width="0.75"/>
<ellipse cx="457.0" cy="470.0" rx="2.0" ry="2.0" fill="#f0f0a0" stroke="#111" stroke-width="0.75"/>
<ellipse cx="462.4" cy="496.6" rx="3.6" ry="3.6" fill="#f0f0a0" stroke="#111" stroke-width="0.75"/>
<ellipse cx="445.0" cy="525.4" rx="2.6" ry="3.6" fill="#f0f0a0" stroke="#111" stroke-width="0.75"/>
<ellipse cx="505.0" cy="491.0" rx="10.0" ry="3.6" fill="#d8ecac" stroke="#111" stroke-width="0.75" transform="rotate(-35 505.0 491.0)"/>
<ellipse cx="545.4" cy="519.0" rx="3.6" ry="2.8" fill="#e4f0a8" stroke="#111" stroke-width="0.75" transform="rotate(20 545.4 519.0)"/>
<ellipse cx="643.6" cy="449.0" rx="3.0" ry="3.0" fill="#cce8b0" stroke="#111" stroke-width="0.75"/>
<ellipse cx="669.0" cy="452.0" rx="4.4" ry="4.0" fill="#cce8b0" stroke="#111" stroke-width="0.75"/>
<ellipse cx="697.0" cy="445.0" rx="2.0" ry="2.0" fill="#cce8b0" stroke="#111" stroke-width="0.75"/>
<ellipse cx="618.0" cy="533.0" rx="1.6" ry="1.6" fill="#cce8b0" stroke="#111" stroke-width="0.75"/>
<ellipse cx="635.0" cy="539.0" rx="2.4" ry="2.4" fill="#cce8b0" stroke="#111" stroke-width="0.75"/>
<ellipse cx="656.0" cy="529.0" rx="2.4" ry="2.2" fill="#cce8b0" stroke="#111" stroke-width="0.75"/>
<ellipse cx="356.4" cy="703.0" rx="4.0" ry="4.0" fill="#b0d8c0" stroke="#111" stroke-width="0.75"/>
<ellipse cx="340.0" cy="712.0" rx="3.6" ry="3.2" fill="#cce8b0" stroke="#111" stroke-width="0.75"/>
<ellipse cx="361.6" cy="641.6" rx="4.0" ry="2.4" fill="#b0d8c0" stroke="#111" stroke-width="0.75"/>
<ellipse cx="311.4" cy="639.4" rx="1.2" ry="1.2" fill="#98c8cc" stroke="#111" stroke-width="0.75"/>
<ellipse cx="508.4" cy="576.6" rx="6.0" ry="6.0" fill="#e4f0a8" stroke="#111" stroke-width="0.75"/>
<ellipse cx="442.6" cy="597.0" rx="2.8" ry="2.6" fill="#e4f0a8" stroke="#111" stroke-width="0.75"/>
<ellipse cx="468.6" cy="598.0" rx="2.2" ry="2.2" fill="#e4f0a8" stroke="#111" stroke-width="0.75"/>
<ellipse cx="428.4" cy="591.4" rx="1.6" ry="1.4" fill="#e4f0a8" stroke="#111" stroke-width="0.75"/>
<ellipse cx="430.0" cy="691.0" rx="3.0" ry="3.0" fill="#cce8b0" stroke="#111" stroke-width="0.75"/>
<ellipse cx="383.6" cy="687.6" rx="2.0" ry="2.0" fill="#b0d8c0" stroke="#111" stroke-width="0.75"/>
<ellipse cx="374.0" cy="710.0" rx="6.0" ry="6.0" fill="#b0d8c0" stroke="#111" stroke-width="0.75"/>
<ellipse cx="508.0" cy="745.0" rx="3.6" ry="3.6" fill="#b0d8c0" stroke="#111" stroke-width="0.75"/>
<ellipse cx="565.0" cy="572.0" rx="2.0" ry="2.0" fill="#cce8b0" stroke="#111" stroke-width="0.75"/>
<ellipse cx="590.0" cy="610.0" rx="2.8" ry="2.8" fill="#98c8cc" stroke="#111" stroke-width="0.75"/>
<ellipse cx="583.0" cy="684.0" rx="5.6" ry="5.6" fill="#b0d8c0" stroke="#111" stroke-width="0.75"/>
<ellipse cx="583.0" cy="684.0" rx="2.8" ry="2.8" fill="#98c8cc" stroke="#111" stroke-width="0.75"/>
<ellipse cx="579.6" cy="707.0" rx="5.0" ry="5.6" fill="#b0d8c0" stroke="#111" stroke-width="0.75"/>
<ellipse cx="579.6" cy="707.0" rx="2.4" ry="2.8" fill="#98c8cc" stroke="#111" stroke-width="0.75"/>
<ellipse cx="584.0" cy="758.0" rx="8.0" ry="5.0" fill="#e4f0a8" stroke="#111" stroke-width="0.75" transform="rotate(-20 584.0 758.0)"/>
<ellipse cx="628.0" cy="609.0" rx="4.0" ry="5.6" fill="#b0d8c0" stroke="#111" stroke-width="0.75" transform="rotate(15 628.0 609.0)"/>
<ellipse cx="611.0" cy="624.0" rx="9.0" ry="4.4" fill="#b0d8c0" stroke="#111" stroke-width="0.75" transform="rotate(-20 611.0 624.0)"/>
<ellipse cx="650.0" cy="575.6" rx="3.6" ry="3.2" fill="#b0d8c0" stroke="#111" stroke-width="0.75"/>
<ellipse cx="663.6" cy="563.0" rx="2.4" ry="2.4" fill="#b0d8c0" stroke="#111" stroke-width="0.75"/>
<ellipse cx="665.0" cy="725.6" rx="2.8" ry="2.6" fill="#cce8b0" stroke="#111" stroke-width="0.75"/>
<ellipse cx="418.4" cy="811.4" rx="3.6" ry="3.4" fill="#b0d8c0" stroke="#111" stroke-width="0.75"/>
<ellipse cx="433.4" cy="784.4" rx="2.4" ry="2.2" fill="#b0d8c0" stroke="#111" stroke-width="0.75"/>
<ellipse cx="500.0" cy="902.0" rx="2.4" ry="4.0" fill="#e4f0a8" stroke="#111" stroke-width="0.75" transform="rotate(-35 500.0 902.0)"/>
<ellipse cx="512.4" cy="906.0" rx="4.0" ry="4.4" fill="#e4f0a8" stroke="#111" stroke-width="0.75"/>
<ellipse cx="456.0" cy="779.0" rx="9.0" ry="6.4" fill="#d8ecac" stroke="#111" stroke-width="0.75" transform="rotate(15 456.0 779.0)"/>
<ellipse cx="419.0" cy="811.6" rx="3.6" ry="3.4" fill="#b0d8c0" stroke="#111" stroke-width="0.75"/>
<ellipse cx="356.6" cy="703.0" rx="4.0" ry="4.0" fill="#b0d8c0" stroke="#111" stroke-width="0.75"/>
<ellipse cx="374.4" cy="709.6" rx="5.0" ry="6.0" fill="#d8ecac" stroke="#111" stroke-width="0.75"/>
<ellipse cx="500.0" cy="902.0" rx="3.0" ry="4.4" fill="#d8ecac" stroke="#111" stroke-width="0.75" transform="rotate(-30 500.0 902.0)"/>
<ellipse cx="512.0" cy="906.0" rx="4.0" ry="4.0" fill="#d8ecac" stroke="#111" stroke-width="0.75"/>
<ellipse cx="630.6" cy="845.0" rx="2.6" ry="2.6" fill="#d8ecac" stroke="#111" stroke-width="0.75"/>
<g filter="url(#rl)" opacity="1.00" style="mix-blend-mode:multiply"><path d="M522.3 706.6 C522.8 704.8 525.9 702.4 528.5 701.9 C531.1 701.4 535.6 701.9 537.9 703.5 C540.3 705.0 542.3 708.4 542.6 711.3 C542.9 714.2 541.3 719.9 539.5 720.7 C537.7 721.5 534.0 717.3 531.7 716.0 C529.3 714.7 527.0 714.4 525.4 712.9 C523.8 711.3 521.7 708.4 522.3 706.6Z M516.0 742.6 C517.6 738.7 523.3 737.9 527.0 737.9 C530.6 737.9 535.3 740.0 537.9 742.6 C540.5 745.2 541.6 749.4 542.6 753.6 C543.7 757.7 543.7 763.0 544.2 767.7 C544.7 772.3 546.0 777.6 545.7 781.7 C545.5 785.9 544.7 790.3 542.6 792.7 C540.5 795.0 535.8 796.3 533.2 795.8 C530.6 795.3 529.0 792.7 527.0 789.6 C524.9 786.4 522.3 781.7 520.7 777.0 C519.1 772.3 518.3 767.1 517.6 761.4 C516.8 755.7 514.4 746.5 516.0 742.6Z M567.7 714.4 C567.4 709.0 570.3 702.7 572.3 698.8 C574.4 694.9 577.3 691.5 580.2 691.0 C583.0 690.4 587.0 692.3 589.6 695.7 C592.2 699.0 594.0 706.1 595.8 711.3 C597.7 716.5 600.0 722.3 600.5 727.0 C601.0 731.7 600.8 736.3 599.0 739.5 C597.1 742.6 592.7 745.2 589.6 745.7 C586.4 746.3 582.8 745.0 580.2 742.6 C577.6 740.3 576.0 736.3 573.9 731.7 C571.8 727.0 567.9 719.9 567.7 714.4Z M547.3 767.7 C548.6 764.3 551.7 763.0 555.1 761.4 C558.5 759.8 563.5 757.7 567.7 758.3 C571.8 758.8 576.0 765.3 580.2 764.5 C584.3 763.7 588.5 756.7 592.7 753.6 C596.9 750.4 601.6 748.1 605.2 745.7 C608.9 743.4 611.5 740.0 614.6 739.5 C617.7 739.0 622.2 740.5 624.0 742.6 C625.8 744.7 626.6 748.9 625.6 752.0 C624.5 755.1 620.6 758.8 617.7 761.4 C614.9 764.0 611.5 765.0 608.3 767.7 C605.2 770.3 602.1 773.9 599.0 777.0 C595.8 780.2 592.7 783.3 589.6 786.4 C586.4 789.6 582.8 792.7 580.2 795.8 C577.6 799.0 576.0 801.6 573.9 805.2 C571.8 808.9 569.7 813.6 567.7 817.7 C565.6 821.9 563.7 826.6 561.4 830.3 C559.0 833.9 556.2 839.1 553.6 839.7 C551.0 840.2 546.5 836.5 545.7 833.4 C545.0 830.3 548.9 825.0 548.9 820.9 C548.9 816.7 545.7 812.5 545.7 808.3 C545.7 804.2 548.6 800.3 548.9 795.8 C549.1 791.4 547.6 786.4 547.3 781.7 C547.0 777.0 546.0 771.0 547.3 767.7Z M652.2 755.1 C653.2 752.3 657.9 752.5 660.0 753.6 C662.1 754.6 664.4 758.0 664.7 761.4 C665.0 764.8 663.4 772.3 661.6 773.9 C659.7 775.5 655.3 773.9 653.7 770.8 C652.2 767.7 651.1 758.0 652.2 755.1Z M546.3 795.0 C547.7 791.3 550.0 787.2 551.8 783.9 C553.7 780.7 555.1 777.9 557.4 775.6 C559.7 773.2 559.9 770.9 565.7 770.0 C571.5 769.1 588.9 767.7 592.2 770.0 C595.4 772.3 587.8 779.3 585.2 783.9 C582.7 788.6 579.4 793.7 576.9 797.8 C574.3 802.0 572.0 804.8 569.9 809.0 C567.8 813.1 566.4 819.2 564.3 822.9 C562.3 826.6 559.7 828.9 557.4 831.2 C555.1 833.5 552.8 836.8 550.4 836.8 C548.1 836.8 544.9 834.5 543.5 831.2 C542.1 828.0 542.1 821.5 542.1 817.3 C542.1 813.1 542.8 809.9 543.5 806.2 C544.2 802.5 544.9 798.8 546.3 795.0Z M521.2 859.0 C522.8 856.0 523.5 853.7 525.4 852.1 C527.2 850.5 530.3 849.1 532.3 849.3 C534.4 849.5 537.4 850.9 537.9 853.5 C538.4 856.0 536.5 861.4 535.1 864.6 C533.7 867.9 531.7 871.1 529.6 873.0 C527.5 874.8 526.6 875.0 522.6 875.7 C518.7 876.4 509.4 877.4 505.9 877.1 C502.4 876.9 500.1 875.5 501.7 874.3 C503.4 873.2 512.4 872.7 515.7 870.2 C518.9 867.6 519.6 862.1 521.2 859.0Z M526.8 810.3 C527.2 808.7 530.0 806.6 532.3 806.2 C534.7 805.7 538.8 806.4 540.7 807.6 C542.6 808.7 543.9 811.5 543.5 813.1 C543.0 814.8 540.2 816.8 537.9 817.3 C535.6 817.8 531.4 817.1 529.6 815.9 C527.7 814.8 526.3 812.0 526.8 810.3Z M678.4 690.0 C681.4 688.1 691.4 688.6 697.9 690.0 C704.4 691.4 710.4 695.6 717.4 698.3 C724.3 701.1 732.9 702.3 739.7 706.7 C746.4 711.1 755.4 718.8 757.7 724.8 C760.1 730.8 756.8 738.9 753.6 742.9 C750.3 746.8 740.1 744.7 738.3 748.4 C736.4 752.1 739.9 761.0 742.4 765.1 C745.0 769.3 753.1 769.8 753.6 773.5 C754.0 777.2 745.2 781.4 745.2 787.4 C745.2 793.4 750.1 804.6 753.6 809.7 C757.0 814.8 761.7 817.1 766.1 818.0 C770.5 818.9 777.7 809.9 780.0 815.2 C782.3 820.6 790.4 844.2 780.0 850.0 C769.6 855.8 729.2 853.5 717.4 850.0 C705.6 846.5 712.3 834.9 709.0 829.1 C705.8 823.3 701.9 819.2 697.9 815.2 C694.0 811.3 689.6 807.8 685.4 805.5 C681.2 803.2 676.8 802.9 672.9 801.3 C668.9 799.7 665.2 798.5 661.7 795.7 C658.3 793.0 653.9 789.2 652.0 784.6 C650.1 780.0 649.9 772.8 650.6 767.9 C651.3 763.0 653.4 759.1 656.2 755.4 C659.0 751.7 664.1 748.7 667.3 745.7 C670.6 742.6 673.3 741.9 675.7 737.3 C678.0 732.7 680.5 723.9 681.2 717.8 C681.9 711.8 680.3 705.8 679.8 701.1 C679.4 696.5 675.4 691.9 678.4 690.0Z M710.4 731.7 C714.4 726.9 719.2 724.1 724.3 720.6 C729.4 717.1 735.7 709.9 741.0 710.9 C746.4 711.8 754.7 720.8 756.3 726.2 C758.0 731.5 754.0 738.9 750.8 742.9 C747.5 746.8 738.5 745.9 736.9 749.8 C735.2 753.8 738.5 762.3 741.0 766.5 C743.6 770.7 751.7 771.4 752.2 774.9 C752.6 778.3 744.1 782.1 743.8 787.4 C743.6 792.7 752.9 804.6 750.8 806.9 C748.7 809.2 735.9 800.8 731.3 801.3 C726.7 801.8 723.9 805.0 723.0 809.7 C722.0 814.3 726.7 823.6 725.7 829.1 C724.8 834.7 720.2 843.5 717.4 843.0 C714.6 842.6 712.8 831.4 709.0 826.3 C705.3 821.2 698.8 816.1 695.1 812.4 C691.4 808.7 686.3 807.3 686.8 804.1 C687.2 800.8 692.8 796.0 697.9 793.0 C703.0 789.9 711.4 789.0 717.4 786.0 C723.4 783.0 732.7 777.9 734.1 774.9 C735.5 771.9 729.4 770.7 725.7 767.9 C722.0 765.1 716.0 761.2 711.8 758.2 C707.7 755.2 700.9 754.2 700.7 749.8 C700.5 745.4 706.5 736.6 710.4 731.7Z M654.8 815.2 C655.7 812.9 658.7 811.0 661.7 809.7 C664.8 808.3 669.6 806.6 672.9 806.9 C676.1 807.1 679.6 808.3 681.2 811.0 C682.8 813.8 683.5 820.3 682.6 823.6 C681.7 826.8 679.1 829.4 675.7 830.5 C672.2 831.7 665.0 831.7 661.7 830.5 C658.5 829.4 657.3 826.1 656.2 823.6 C655.0 821.0 653.9 817.5 654.8 815.2Z M690.9 626.5 C692.3 624.1 693.7 619.4 695.7 616.8 C697.8 614.1 699.8 611.5 703.0 610.7 C706.3 609.9 713.4 609.7 715.2 611.9 C717.0 614.1 715.6 620.4 714.0 624.1 C712.4 627.7 708.1 630.8 705.5 633.8 C702.8 636.9 699.8 639.1 698.2 642.3 C696.6 645.6 697.4 649.9 695.7 653.3 C694.1 656.8 690.5 659.4 688.4 663.0 C686.4 666.7 685.2 671.2 683.6 675.2 C681.9 679.3 680.3 683.7 678.7 687.4 C677.1 691.0 675.2 696.7 673.8 697.1 C672.4 697.5 670.6 693.1 670.2 689.8 C669.8 686.6 670.4 682.1 671.4 677.7 C672.4 673.2 674.6 667.9 676.3 663.0 C677.9 658.2 679.9 652.5 681.1 648.4 C682.3 644.4 682.6 641.5 683.6 638.7 C684.6 635.9 686.0 633.4 687.2 631.4 C688.4 629.4 689.4 629.0 690.9 626.5Z M705.5 663.0 C706.7 659.0 710.3 659.6 715.2 658.2 C720.1 656.8 730.6 652.9 734.7 654.5 C738.8 656.1 737.5 662.8 739.6 667.9 C741.6 673.0 746.9 679.7 746.9 685.0 C746.9 690.2 739.2 694.3 739.6 699.6 C740.0 704.8 746.3 711.5 749.3 716.6 C752.3 721.7 767.6 727.8 757.8 730.0 C748.1 732.2 701.2 733.0 690.9 730.0 C680.5 727.0 693.7 716.8 695.7 711.7 C697.8 706.7 701.0 704.4 703.0 699.6 C705.1 694.7 707.5 688.6 707.9 682.5 C708.3 676.4 704.3 667.1 705.5 663.0Z M720.0 594.0 C724.7 590.0 732.2 587.5 736.0 586.0 C739.8 584.5 743.0 584.0 743.0 585.0 C743.0 586.0 738.5 588.5 736.0 592.0 C733.5 595.5 731.3 602.0 728.0 606.0 C724.7 610.0 719.3 615.3 716.0 616.0 C712.7 616.7 707.3 613.7 708.0 610.0 C708.7 606.3 715.3 598.0 720.0 594.0Z M372.0 900.0 C378.3 899.7 384.3 901.3 390.0 902.0 C395.7 902.7 401.0 903.0 406.0 904.0 C411.0 905.0 415.7 907.7 420.0 908.0 C424.3 908.3 427.3 905.7 432.0 906.0 C436.7 906.3 442.7 909.0 448.0 910.0 C453.3 911.0 458.7 910.7 464.0 912.0 C469.3 913.3 474.7 916.7 480.0 918.0 C485.3 919.3 490.7 918.7 496.0 920.0 C501.3 921.3 508.0 923.3 512.0 926.0 C516.0 928.7 519.0 933.0 520.0 936.0 C521.0 939.0 521.3 942.0 518.0 944.0 C514.7 946.0 506.3 947.7 500.0 948.0 C493.7 948.3 486.7 948.3 480.0 946.0 C473.3 943.7 466.7 937.7 460.0 934.0 C453.3 930.3 446.7 925.3 440.0 924.0 C433.3 922.7 426.7 925.7 420.0 926.0 C413.3 926.3 406.7 926.3 400.0 926.0 C393.3 925.7 386.7 925.3 380.0 924.0 C373.3 922.7 365.7 920.3 360.0 918.0 C354.3 915.7 347.3 912.3 346.0 910.0 C344.7 907.7 347.7 905.7 352.0 904.0 C356.3 902.3 365.7 900.3 372.0 900.0Z M344.0 907.0 C345.0 904.5 351.7 901.7 356.0 901.0 C360.3 900.3 365.7 900.8 370.0 903.0 C374.3 905.2 378.3 910.2 382.0 914.0 C385.7 917.8 392.3 923.5 392.0 926.0 C391.7 928.5 384.7 929.7 380.0 929.0 C375.3 928.3 369.0 924.2 364.0 922.0 C359.0 919.8 353.3 918.5 350.0 916.0 C346.7 913.5 343.0 909.5 344.0 907.0Z M856.1 932.6 C857.8 927.8 864.1 926.5 867.8 924.8 C871.5 923.0 874.8 920.9 878.3 922.2 C881.7 923.5 886.5 928.3 888.7 932.6 C890.9 937.0 890.4 942.2 891.3 948.3 C892.2 954.3 894.3 962.6 893.9 969.1 C893.5 975.7 891.3 983.0 888.7 987.4 C886.1 991.7 881.7 995.2 878.3 995.2 C874.8 995.2 870.7 991.3 867.8 987.4 C865.0 983.5 863.0 977.4 861.3 971.7 C859.6 966.1 858.3 960.0 857.4 953.5 C856.5 947.0 854.3 937.4 856.1 932.6Z M715.2 528.8 C717.5 522.6 724.3 522.4 728.8 520.9 C733.3 519.4 739.0 517.7 742.3 519.7 C745.7 521.8 748.2 528.4 749.1 533.3 C750.1 538.2 749.9 544.6 748.0 549.1 C746.1 553.7 741.8 557.6 737.8 560.4 C733.9 563.3 728.0 566.5 724.3 566.1 C720.5 565.7 716.7 564.4 715.2 558.2 C713.7 552.0 713.0 535.0 715.2 528.8Z" fill="#000"/></g>
</g>
<path d="M519.8 320.0 L520.5 322.7 L521.7 324.2 L521.4 328.1 L522.8 329.8 L524.6 332.4 L525.1 335.0 L525.5 336.9 L526.1 340.3 L528.0 341.9 L530.3 342.2 L532.5 344.7 L533.9 345.7 L536.7 345.0 L538.4 344.7 L540.2 343.3 L542.1 343.2 L544.6 343.1 L547.3 341.7 L547.6 343.5 L550.3 345.9 L551.0 347.6 L552.0 349.9 L552.2 352.4 L553.2 355.2 L553.8 357.5 L554.3 359.4 L556.3 359.4 L558.6 361.8 L560.3 362.0 L563.1 361.1 L565.9 361.5 L567.8 360.7 L569.4 364.1 L568.9 365.9 L570.2 367.0 L570.8 370.3 L572.3 371.7 L575.2 372.2 L578.2 373.9 L581.2 374.4 L583.0 373.9 L585.2 371.7 L588.1 371.7 L589.5 373.3 L592.2 374.4 L593.2 377.2 L595.9 378.3 L597.2 380.3 L596.9 383.0 L597.8 385.7 L598.0 388.1 L598.1 390.7 L596.5 393.7 L595.8 395.9 L598.9 398.0 L600.0 399.6 L602.5 400.8 L604.5 401.5 L608.1 401.7 L610.7 401.4 L613.3 400.7 L615.9 400.9 L617.7 399.7 L618.8 398.3 L618.6 394.9 L619.7 392.2 L619.9 389.9 L621.8 388.5 L623.6 386.4 L626.2 384.7 L629.0 388.2 L628.3 389.9 L628.7 392.3 L627.2 395.1 L627.8 396.9 L626.9 399.9 L628.4 402.4 L629.1 404.4 L629.0 407.8 L630.3 410.0 L632.0 410.3 L635.1 411.4 L638.1 413.6 L639.8 413.8 L642.6 415.5 L644.6 416.1 L645.3 417.2 L648.5 418.4 L649.9 419.9 L651.5 421.8 L654.0 423.4 L653.9 426.8 L657.1 428.9 L658.0 430.3 L661.2 429.1 L663.2 429.8 L665.5 428.8 L667.2 428.1 L669.8 427.7 L672.5 428.1 L675.2 428.2 L677.7 429.8 L680.1 430.7 L682.4 430.6 L683.6 431.2 L685.8 430.4 L689.1 430.6 L691.0 431.2 L693.8 429.9 L695.8 430.3 L698.4 431.3 L700.5 431.1 L703.3 433.0 L705.0 433.7 L708.3 434.2 L709.6 435.1 L710.2 438.7 L710.2 439.6 L711.8 442.0 L713.5 444.0 L715.7 445.1 L716.0 447.3 L717.7 449.2 L720.3 452.3 L721.9 451.3 L725.0 450.3 L727.9 450.1 L730.6 450.5 L732.2 451.3 L734.5 452.5 L738.0 453.0 L739.7 453.8 L742.2 453.6 L745.3 452.6 L747.7 452.4 L749.5 451.4 L752.0 451.1 L753.9 452.8 L755.9 453.5 L758.1 455.9 L759.7 456.9 L762.2 457.9 L765.5 457.1 L767.7 458.0 L768.9 457.6 L771.0 458.4 L774.1 458.3 L776.7 458.9 L778.7 459.4 L779.7 460.0 L781.6 459.9 L785.1 460.3 L786.0 461.0 L789.6 461.8 L790.7 463.2 L789.3 465.9 L789.3 468.1 L788.8 469.9 L787.2 471.7 L786.1 474.0 L784.6 475.3 L783.2 478.8 L780.6 479.7 L780.0 482.2 L778.5 483.8 L777.5 487.0 L777.5 489.0 L775.8 491.4 L774.9 493.9 L773.7 496.3 L774.9 498.5 L773.9 500.4 L773.3 503.8 L772.8 505.7 L772.0 508.1 L772.1 509.8 L770.1 513.2 L770.9 515.2 L769.5 518.0 L768.8 519.8 L767.9 522.6 L767.5 524.3 L767.5 528.0 L766.2 530.0 L765.9 532.3 L766.2 533.8 L765.5 535.6 L766.0 538.5 L765.4 540.7 L765.7 543.7 L765.4 546.4 L766.0 547.9 L766.0 550.2 L767.0 552.5 L766.8 555.2 L767.8 557.0 L768.0 560.4 L768.0 561.8 L766.5 564.4 L766.3 566.8 L765.6 567.5 L763.4 569.6 L762.4 572.4 L762.3 574.3 L759.1 575.4 L756.7 575.4 L754.9 575.5 L751.7 577.2 L749.2 576.3 L747.3 576.5 L743.9 575.5 L742.3 575.4 L739.8 575.1 L741.6 577.3 L741.6 579.3 L741.8 582.8 L742.7 585.3 L742.0 586.0 L740.3 588.3 L738.2 590.7 L735.9 592.1 L735.1 594.6 L733.3 596.5 L733.4 598.3 L731.5 599.3 L730.3 601.7 L729.5 604.3 L728.0 605.8 L726.5 607.7 L724.0 609.6 L723.1 609.6 L721.9 611.1 L719.1 613.5 L717.9 614.7 L716.1 616.0 L715.5 617.8 L714.8 621.2 L715.9 623.3 L715.6 625.3 L714.8 627.9 L714.2 628.8 L712.0 630.9 L711.0 632.7 L708.7 634.5 L707.6 636.8 L705.9 638.2 L703.9 639.6 L702.5 641.3 L702.3 644.4 L699.8 645.4 L698.9 648.2 L700.2 650.6 L700.4 651.8 L700.6 654.0 L701.4 656.9 L701.8 658.8 L702.0 660.4 L701.5 664.2 L701.3 665.5 L700.0 668.1 L698.2 670.5 L696.3 671.0 L694.3 673.0 L696.8 673.1 L698.4 672.8 L702.1 672.0 L704.5 669.9 L706.8 668.0 L706.4 665.8 L707.8 663.4 L707.9 662.1 L708.3 658.7 L711.0 658.2 L712.2 656.7 L715.0 655.2 L718.0 655.3 L720.0 655.7 L722.9 654.3 L725.5 655.2 L727.9 655.4 L729.9 654.7 L732.3 655.8 L734.3 655.0 L735.2 657.2 L734.8 658.7 L735.5 661.2 L736.8 664.0 L737.0 666.7 L736.2 669.6 L735.9 672.0 L738.5 673.3 L739.4 675.7 L742.4 676.3 L743.9 678.0 L745.2 680.0 L745.1 682.5 L747.5 684.9 L748.0 687.8 L745.5 688.9 L743.8 690.4 L741.1 691.8 L739.8 694.0 L739.2 695.6 L739.9 698.8 L740.4 700.7 L739.9 703.9 L741.1 706.3 L743.5 706.3 L746.0 707.9 L748.1 709.9 L747.6 711.7 L748.9 714.6 L749.3 717.4 L749.3 719.9 L750.8 721.1 L754.1 723.2 L755.5 723.8 L758.1 726.3 L757.2 727.6 L755.2 730.3 L754.4 732.7 L753.7 736.1 L753.1 737.1 L751.7 739.2 L749.7 741.6 L748.4 741.6 L745.9 744.1 L744.5 743.9 L741.0 746.0 L738.3 745.8 L736.4 747.0 L735.1 746.7 L732.2 748.2 L733.8 750.1 L735.2 751.8 L735.4 753.5 L737.3 756.0 L737.8 757.8 L740.4 759.5 L742.4 760.5 L744.0 761.4 L746.4 762.5 L747.9 765.1 L750.1 765.7 L750.2 769.0 L751.6 771.3 L752.7 772.9 L753.4 775.8 L753.0 777.4 L753.7 779.9 L750.3 779.7 L749.5 781.5 L748.0 784.7 L747.7 785.8 L747.0 789.1 L747.1 790.6 L747.0 794.1 L747.5 795.6 L748.4 798.3 L749.1 800.2 L750.6 801.4 L751.4 803.2 L754.1 805.3 L754.7 808.3 L756.7 810.2 L758.8 810.9 L761.3 813.1 L764.1 814.1 L766.9 815.1 L768.5 815.0 L771.1 814.5 L774.2 815.8 L776.2 815.8 L778.3 815.3 L780.8 814.0 L782.3 814.2 L784.0 813.7 L787.2 812.9 L789.3 815.2 L790.8 816.9 L791.9 819.0 L790.9 820.9 L790.8 823.8 L790.0 825.9 L788.2 827.9 L786.0 829.3 L784.0 829.9 L784.5 833.4 L784.1 835.3 L783.2 837.9 L782.1 840.8 L779.1 842.8 L777.2 843.3 L776.2 845.9 L774.0 847.5 L771.2 848.8 L769.6 849.5 L767.6 851.4 L766.3 851.8 L763.4 853.1 L762.6 854.1 L760.3 857.5 L760.1 859.6 L758.5 860.4 L755.7 860.5 L753.5 862.6 L752.0 864.0 L749.6 865.9 L747.4 865.9 L747.0 867.8 L743.8 867.7 L744.1 869.4 L741.7 873.4 L742.0 875.7 L738.8 876.6 L738.7 878.6 L736.5 880.3 L739.5 881.5 L737.2 883.1 L736.8 886.2 L735.5 889.0 L732.5 889.3 L730.5 891.4 L728.6 890.8 L725.2 892.0 L724.1 893.2 L723.1 895.8 L719.7 896.6 L719.0 899.4 L716.7 901.2 L715.1 901.8 L712.1 899.4 L711.4 900.4 L709.4 898.0 L707.1 898.4 L705.1 896.9 L701.9 896.0 L698.5 895.8 L697.1 898.6 L694.0 897.9 L691.6 896.2 L690.8 894.5 L688.5 892.6 L685.5 892.1 L683.8 891.9 L682.9 891.1 L680.1 888.5 L677.9 889.5 L675.3 889.1 L673.2 890.4 L669.6 888.8 L668.0 886.7 L666.4 885.5 L668.1 881.7 L667.1 880.0 L663.9 879.9 L661.2 878.9 L660.5 880.5 L656.6 879.0 L654.2 878.2 L652.1 879.5 L650.0 876.5 L649.4 875.0 L647.7 875.3 L645.9 874.1 L644.9 874.6 L642.1 878.9 L640.9 879.4 L639.0 878.9 L636.9 878.2 L633.8 880.4 L631.3 880.2 L629.7 879.5 L629.5 876.9 L627.6 873.5 L626.2 872.9 L622.2 874.3 L621.5 872.1 L618.5 873.0 L615.2 871.2 L612.7 872.8 L609.9 869.8 L607.6 869.6 L605.6 870.1 L602.9 867.2 L603.1 868.3 L600.3 865.8 L597.7 868.4 L596.0 869.6 L593.7 869.9 L591.7 872.8 L590.2 874.0 L587.9 875.1 L585.9 876.1 L584.6 876.5 L582.1 878.3 L580.6 878.6 L578.8 881.0 L575.4 881.2 L573.5 882.0 L572.3 883.9 L570.3 885.7 L567.1 887.7 L566.5 888.9 L564.3 889.0 L562.5 889.3 L560.1 890.9 L557.7 892.1 L556.1 893.6 L554.6 894.9 L552.9 897.0 L552.5 899.2 L550.3 900.2 L548.9 903.4 L548.1 904.3 L547.8 907.9 L546.9 910.1 L546.8 913.2 L547.2 914.6 L547.6 917.7 L548.5 919.4 L547.7 921.9 L547.7 923.9 L548.8 926.8 L547.5 929.3 L548.3 931.9 L548.4 932.8 L548.9 936.4 L549.0 938.3 L551.4 939.3 L552.9 941.0 L553.9 944.9 L552.3 946.7 L550.1 946.7 L547.0 946.5 L545.2 945.9 L541.7 945.9 L539.8 945.7 L537.6 947.5 L535.1 947.9 L533.1 948.9 L530.3 949.0 L529.3 950.8 L528.3 953.9 L525.5 955.0 L522.6 953.9 L521.1 954.9 L517.7 954.7 L515.2 952.1 L513.2 950.8 L510.3 950.5 L508.4 950.2 L506.1 950.1 L503.6 949.8 L502.2 951.3 L498.3 951.4 L497.1 952.9 L493.6 951.6 L492.0 952.9 L491.4 951.3 L489.0 948.2 L488.1 946.3 L485.2 945.3 L482.8 945.3 L480.4 945.3 L479.0 944.1 L477.7 939.8 L475.9 939.0 L474.1 936.3 L472.3 935.1 L469.6 934.5 L466.6 935.7 L463.8 935.1 L462.1 934.9 L461.0 934.0 L459.6 931.9 L457.0 929.0 L456.0 927.9 L452.9 928.4 L450.5 928.1 L449.3 926.6 L446.3 926.9 L443.5 925.2 L441.2 924.5 L439.8 923.9 L438.2 921.7 L435.3 921.1 L432.4 920.1 L430.1 920.1 L427.9 918.7 L425.2 919.2 L423.5 919.2 L421.1 919.8 L420.6 922.9 L419.1 925.8 L418.9 928.0 L416.9 927.7 L414.4 926.2 L412.8 927.1 L410.0 926.1 L407.2 927.3 L405.5 926.7 L403.4 928.7 L400.1 929.3 L398.0 928.8 L396.1 928.5 L393.8 928.8 L390.3 928.6 L389.3 928.3 L386.4 928.8 L384.0 928.0 L382.1 927.2 L379.5 924.6 L378.2 924.0 L375.6 923.0 L374.7 920.6 L372.9 919.4 L370.2 916.8 L366.5 918.0 L365.1 918.1 L362.0 919.0 L359.2 920.0 L357.4 920.1 L354.7 921.0 L352.9 919.7 L350.9 917.3 L349.2 915.6 L348.1 913.7 L345.9 912.0 L344.8 910.0 L343.8 907.7 L341.8 908.3 L340.1 907.2 L337.0 905.9 L334.5 906.0 L333.4 905.2 L331.1 905.4 L328.0 904.8 L326.8 903.3 L324.1 902.7 L321.5 901.0 L320.9 900.9 L318.4 899.9 L315.7 898.1 L313.5 898.5 L310.0 900.3 L308.2 898.5 L306.8 896.1 L308.3 894.0 L310.1 892.7 L312.2 890.0 L311.3 886.9 L310.2 883.8 L307.4 884.2 L304.5 883.2 L301.8 884.1 L299.5 883.5 L298.0 882.8 L296.6 881.4 L293.9 879.7 L292.8 878.4 L292.1 875.5 L289.8 874.3 L293.4 873.5 L296.2 872.7 L297.7 871.5 L299.3 869.2 L300.6 867.7 L302.6 865.6 L303.9 863.9 L305.1 861.7 L306.0 859.7 L307.1 857.0 L308.1 854.6 L308.9 852.7 L309.8 850.1 L311.0 848.0 L312.0 845.6 L312.7 843.4 L313.4 841.2 L314.1 838.9 L314.6 836.7 L315.7 834.4 L316.1 832.2 L316.9 830.0 L317.5 827.8 L317.9 825.5 L318.1 823.1 L318.7 821.0 L319.3 818.8 L319.8 816.7 L320.2 814.6 L320.6 812.2 L321.0 809.9 L321.4 807.7 L321.2 805.5 L321.7 803.1 L321.9 800.5 L322.4 798.2 L322.3 796.2 L322.4 793.7 L322.8 791.2 L323.1 789.0 L325.3 788.5 L327.9 788.0 L330.7 787.5 L331.2 785.8 L333.6 784.2 L335.9 782.9 L332.8 783.0 L330.3 783.3 L328.3 782.5 L325.9 781.9 L323.6 780.0 L324.1 777.5 L324.4 774.8 L324.7 772.5 L325.1 769.9 L325.1 767.9 L325.9 765.5 L326.1 763.4 L326.3 761.1 L326.7 758.7 L326.9 756.8 L327.2 754.4 L327.5 752.2 L328.0 750.0 L328.5 747.8 L328.3 745.5 L328.4 743.2 L328.9 741.2 L328.6 738.3 L328.6 736.1 L329.6 734.0 L330.5 732.3 L329.9 730.0 L329.8 728.0 L331.7 725.0 L332.2 722.4 L331.9 719.9 L332.7 718.1 L335.9 716.6 L337.6 714.3 L335.7 712.2 L333.5 710.8 L330.5 709.2 L329.2 708.2 L329.7 704.5 L329.3 703.4 L328.2 700.5 L329.1 698.7 L333.0 695.0 L334.1 694.5 L334.1 692.5 L336.3 689.0 L334.9 686.1 L337.3 684.2 L336.8 681.9 L337.1 679.4 L333.7 679.2 L333.5 675.7 L334.2 673.4 L331.6 672.4 L332.3 668.6 L335.1 666.0 L335.4 663.8 L332.3 662.5 L330.8 662.7 L328.3 661.9 L325.9 662.0 L325.4 661.1 L323.0 658.6 L319.7 658.7 L317.1 659.1 L317.1 657.7 L314.2 654.5 L311.8 653.2 L311.1 652.6 L307.8 652.5 L305.6 651.1 L304.3 648.4 L302.2 647.0 L301.3 643.6 L300.2 642.1 L298.4 639.0 L298.2 636.8 L298.0 635.6 L295.1 633.6 L294.0 631.5 L294.0 629.9 L292.2 627.6 L291.3 627.1 L289.8 625.2 L288.6 621.7 L286.5 621.7 L286.0 618.9 L289.0 616.4 L290.2 613.6 L291.7 610.7 L293.6 609.9 L295.0 607.9 L292.7 607.2 L289.8 606.5 L287.4 604.8 L285.4 603.2 L283.8 600.6 L286.0 600.2 L286.6 599.1 L286.5 593.6 L283.8 592.4 L282.4 592.4 L279.9 593.4 L278.3 592.5 L274.5 591.6 L269.9 591.1 L268.4 587.2 L271.5 584.6 L271.7 582.3 L271.0 580.8 L272.0 576.9 L276.8 574.6 L277.9 574.8 L275.0 574.2 L271.8 571.3 L267.3 570.9 L266.1 569.2 L263.3 567.6 L261.0 568.3 L256.9 569.9 L253.7 569.2 L253.7 567.6 L250.6 564.3 L249.1 564.1 L246.3 564.3 L243.5 566.2 L241.6 567.7 L241.4 571.2 L239.0 567.3 L239.3 567.4 L239.6 564.3 L240.5 562.2 L236.9 558.3 L236.0 557.6 L233.8 557.2 L232.7 553.6 L230.7 553.5 L227.9 552.5 L225.3 551.3 L223.3 549.6 L221.4 548.1 L218.4 547.1 L215.4 546.8 L213.3 545.9 L209.7 544.4 L208.3 545.3 L204.5 542.8 L204.0 543.5 L200.8 541.7 L198.3 541.0 L197.7 539.4 L194.0 535.4 L192.3 538.4 L192.2 540.9 L189.6 544.2 L187.8 544.6 L185.5 545.2 L181.2 543.3 L182.2 541.0 L182.7 538.9 L179.5 534.9 L179.7 533.7 L179.7 532.8 L176.1 530.9 L174.6 527.7 L172.1 527.8 L170.5 525.9 L165.3 526.0 L168.6 524.4 L171.1 522.2 L173.4 523.9 L175.8 523.3 L180.6 524.1 L182.9 522.7 L185.7 521.7 L186.1 518.8 L188.2 518.9 L186.9 515.2 L184.7 515.6 L183.0 513.9 L181.5 513.1 L177.3 515.8 L175.2 513.9 L177.9 512.1 L178.4 509.0 L174.8 509.3 L173.3 510.4 L175.1 506.1 L178.8 504.6 L182.0 504.2 L184.0 503.7 L184.3 502.9 L187.5 502.1 L184.4 500.3 L182.8 502.9 L178.5 503.1 L177.8 504.9 L175.1 503.0 L171.3 504.0 L168.2 505.4 L166.9 505.5 L165.7 501.9 L166.2 500.4 L165.4 497.4 L166.1 494.3 L165.6 490.1 L168.7 488.6 L171.4 485.5 L171.7 485.6 L175.8 483.3 L177.0 483.7 L181.1 482.2 L183.9 482.4 L186.8 483.2 L189.4 481.3 L191.4 484.2 L193.8 483.2 L197.3 480.1 L198.8 480.9 L201.2 478.8 L203.5 477.7 L205.7 480.3 L209.2 483.7 L209.4 484.7 L212.8 481.9 L214.8 483.0 L219.5 481.7 L220.0 483.4 L223.3 483.2 L224.6 479.0 L225.1 478.9 L224.2 475.5 L227.0 474.1 L228.3 473.2 L228.5 475.8 L231.8 474.2 L236.0 471.9 L237.5 472.7 L240.2 471.4 L243.2 473.0 L244.8 471.8 L247.1 470.9 L251.5 471.7 L253.6 472.9 L254.0 477.0 L255.2 477.8 L258.5 481.4 L261.1 484.8 L261.1 488.5 L260.6 491.5 L262.9 492.5 L263.1 496.1 L266.7 497.4 L269.5 499.7 L270.6 496.2 L272.5 495.9 L275.2 492.2 L277.2 491.9 L279.7 490.4 L280.7 490.8 L285.1 490.2 L286.8 487.9 L288.0 489.8 L289.7 488.5 L294.9 492.1 L297.4 492.6 L298.4 492.6 L300.9 491.3 L302.7 489.4 L304.3 489.0 L307.3 488.3 L309.6 490.6 L310.7 493.1 L311.6 494.6 L314.9 493.6 L315.6 494.4 L319.2 494.1 L320.6 493.5 L322.7 492.9 L324.9 490.2 L323.5 488.3 L322.7 485.8 L322.3 483.1 L322.2 480.3 L322.1 478.1 L321.9 476.0 L321.7 473.8 L322.7 470.1 L323.5 468.2 L322.1 465.9 L322.7 463.8 L322.9 462.5 L322.2 460.0 L322.1 457.4 L320.8 454.2 L319.9 452.4 L319.8 450.2 L318.7 448.1 L318.1 446.2 L316.4 443.6 L316.3 441.5 L315.3 440.8 L313.9 438.3 L313.4 436.4 L312.4 433.7 L311.9 430.3 L310.8 428.5 L310.0 426.1 L310.3 424.1 L309.6 420.6 L308.9 419.0 L308.9 415.5 L307.4 414.3 L309.6 415.4 L312.1 415.9 L314.6 417.1 L318.2 418.1 L320.2 418.9 L322.9 418.4 L325.4 418.2 L326.7 417.6 L330.1 415.8 L332.4 415.8 L334.5 417.6 L337.9 418.2 L339.8 417.7 L340.3 421.0 L341.2 423.9 L339.9 426.7 L337.8 429.2 L338.2 431.4 L339.4 432.7 L341.0 435.8 L342.1 437.9 L344.8 440.5 L345.8 441.6 L349.3 441.3 L350.3 440.4 L353.9 439.9 L355.9 440.1 L358.1 440.9 L361.5 441.9 L363.2 442.2 L365.0 442.9 L367.9 443.5 L370.0 444.2 L372.5 444.9 L376.3 444.7 L377.8 446.9 L379.6 447.6 L382.7 447.2 L385.0 448.1 L387.3 449.9 L390.0 449.7 L390.8 447.8 L393.1 447.5 L395.7 445.7 L397.3 445.4 L399.5 443.3 L401.9 442.5 L403.8 442.0 L405.9 440.0 L408.9 439.0 L409.9 439.6 L412.4 439.2 L415.2 437.9 L412.4 437.0 L411.2 437.4 L408.0 436.7 L405.8 437.3 L404.0 435.1 L403.6 433.0 L402.0 430.9 L402.4 429.1 L404.7 426.1 L404.6 424.2 L405.8 420.8 L408.2 420.2 L410.1 417.5 L412.9 416.2 L413.7 416.3 L416.2 414.2 L417.2 413.6 L419.8 411.1 L422.5 411.8 L423.2 409.9 L426.7 408.7 L427.6 408.5 L430.0 407.4 L432.9 407.1 L434.8 405.3 L437.0 405.5 L438.9 404.9 L440.8 403.7 L444.1 403.4 L444.8 404.0 L447.8 402.9 L449.9 401.7 L451.7 401.4 L453.6 400.3 L455.6 399.1 L457.4 397.1 L459.7 395.7 L462.0 394.2 L464.1 392.3 L465.7 390.9 L468.7 388.8 L469.9 388.3 L472.8 386.6 L476.2 385.3 L477.7 384.7 L475.4 383.6 L472.8 380.8 L473.7 378.0 L472.5 376.9 L472.9 374.4 L473.2 372.4 L474.3 370.0 L473.7 368.0 L474.6 364.8 L473.9 363.1 L474.5 360.7 L474.8 358.4 L475.4 356.4 L474.3 353.7 L474.2 351.7 L475.3 349.9 L474.7 348.3 L475.5 345.5 L474.0 342.2 L474.3 339.6 L473.9 337.0 L473.8 335.2 L475.9 333.4 L477.4 332.2 L479.6 329.6 L481.2 329.0 L482.9 329.2 L485.8 327.4 L486.6 326.9 L489.6 326.1 L491.1 325.8 L493.8 325.2 L496.3 324.1 L499.2 323.8 L500.1 322.9 L502.3 322.6 L506.2 322.9 L508.0 320.9 L509.8 320.8 L512.3 321.0 L514.1 320.5 L517.4 320.5Z M886.1 889.0 L890.8 891.1 L891.6 894.4 L891.4 896.9 L892.8 900.1 L893.3 902.6 L893.0 905.8 L893.3 909.2 L893.0 912.1 L893.8 915.9 L895.9 918.5 L897.3 922.0 L897.5 924.8 L897.0 928.7 L897.7 931.2 L899.1 934.8 L898.9 937.9 L899.8 940.5 L899.8 943.6 L900.7 946.2 L901.2 948.0 L901.0 950.7 L900.2 953.0 L899.9 956.2 L899.0 958.9 L899.1 961.2 L898.5 963.9 L897.0 966.5 L896.4 968.6 L895.4 971.5 L895.2 974.8 L894.0 977.3 L894.1 979.7 L893.7 982.0 L893.4 985.3 L893.2 987.7 L893.9 990.5 L893.2 992.5 L894.3 996.2 L895.0 999.2 L891.4 1001.9 L890.1 1004.9 L889.8 1006.9 L890.1 1011.7 L885.4 1010.4 L883.2 1008.4 L880.8 1006.8 L878.1 1002.9 L875.9 1002.8 L872.6 1000.8 L870.7 1000.5 L867.1 999.1 L864.0 998.6 L861.9 993.9 L863.1 992.1 L865.0 989.3 L862.4 987.3 L858.8 986.3 L854.2 984.9 L855.6 982.1 L857.9 979.7 L859.4 976.9 L861.5 974.5 L858.6 973.6 L854.8 973.2 L852.1 973.8 L849.5 974.8 L850.1 972.7 L851.1 969.2 L852.5 966.3 L853.9 963.8 L852.3 960.2 L849.7 959.0 L847.7 957.5 L847.2 955.1 L846.1 952.4 L845.5 949.6 L848.3 948.5 L850.1 947.2 L848.8 944.8 L846.7 942.4 L843.6 939.9 L846.3 938.5 L849.0 936.7 L849.4 933.4 L850.3 930.2 L851.7 927.2 L853.7 923.6 L857.3 922.7 L860.0 920.9 L862.2 920.0 L865.4 918.2 L868.1 915.9 L870.5 912.9 L873.4 912.2 L875.7 911.0 L878.4 912.1 L881.0 912.7 L883.3 912.9 L884.1 910.0 L884.6 906.6 L884.5 903.4 L883.9 901.0 L883.3 898.5 L883.3 895.7 L883.1 892.9 L883.5 890.8Z M234.0 580.0 L238.0 579.0 L243.0 584.0 L241.0 587.0 L236.0 585.0ZM280.0 608.0 L283.0 609.0 L283.0 614.0 L281.0 613.0ZM273.0 629.0 L277.0 630.0 L279.0 632.0 L275.0 632.0ZM314.0 667.0 L320.0 668.0 L328.0 672.0 L326.0 674.0 L318.0 671.0ZM321.0 682.0 L326.0 685.0 L332.0 698.0 L330.0 700.0 L325.0 692.0ZM148.5 492.5 L152.0 491.5 L153.5 493.5 L151.0 495.5 L148.5 495.0ZM155.0 497.0 L157.0 497.5 L156.5 499.0 L155.0 498.5ZM159.0 500.0 L161.0 500.5 L161.0 502.0 L159.5 502.0ZM158.5 524.5 L160.5 524.5 L160.5 526.5 L158.5 526.0ZM198.5 551.5 L201.5 551.5 L201.5 553.5 L199.0 553.5ZM223.5 559.0 L227.0 559.0 L227.5 561.0 L224.0 561.5ZM247.0 581.0 L250.5 582.0 L251.0 584.0 L247.5 584.0ZM252.0 583.5 L255.0 584.5 L254.5 586.0 L252.5 585.5ZM727.0 899.0 L732.0 898.0 L732.0 901.0 L728.0 902.0ZM309.0 474.0 L312.0 474.0 L312.0 476.5 L309.0 476.0Z" fill="none" stroke="#000" stroke-width="1.5" stroke-linejoin="round"/>
<path d="M651.0 865.7 L653.5 867.0 L655.2 868.4 L657.0 869.8 L659.5 871.3 L661.1 870.3 L663.4 869.9 L663.1 871.4 L662.4 874.2 L659.6 874.8 L656.5 875.2 L654.5 874.3 L652.3 873.9 L651.2 871.9 L651.0 869.9 L651.0 867.9Z" fill="#fff" stroke="#000" stroke-width="1.2" stroke-linejoin="round"/>
<text x="329.0" y="429.0" transform="rotate(80 329.0 429.0)" text-anchor="middle" dominant-baseline="central" class="cl">350</text>
<text x="348.0" y="478.0" transform="rotate(65 348.0 478.0)" text-anchor="middle" dominant-baseline="central" class="cl">350</text>
<text x="333.0" y="493.6" transform="rotate(25 333.0 493.6)" text-anchor="middle" dominant-baseline="central" class="cl">300</text>
<text x="217.0" y="518.0" transform="rotate(-65 217.0 518.0)" text-anchor="middle" dominant-baseline="central" class="cl">350</text>
<text x="255.0" y="492.0" transform="rotate(-75 255.0 492.0)" text-anchor="middle" dominant-baseline="central" class="cl">350</text>
<text x="193.0" y="498.0" transform="rotate(-70 193.0 498.0)" text-anchor="middle" dominant-baseline="central" class="cl">350</text>
<text x="366.0" y="527.0" transform="rotate(-40 366.0 527.0)" text-anchor="middle" dominant-baseline="central" class="cl">200</text>
<text x="501.0" y="355.0" transform="rotate(-40 501.0 355.0)" text-anchor="middle" dominant-baseline="central" class="cl">300</text>
<text x="588.0" y="401.0" transform="rotate(-65 588.0 401.0)" text-anchor="middle" dominant-baseline="central" class="cl">250</text>
<text x="576.0" y="445.0" transform="rotate(60 576.0 445.0)" text-anchor="middle" dominant-baseline="central" class="cl">150</text>
<text x="431.0" y="518.0" transform="rotate(-35 431.0 518.0)" text-anchor="middle" dominant-baseline="central" class="cl">150</text>
<text x="479.0" y="524.0" transform="rotate(50 479.0 524.0)" text-anchor="middle" dominant-baseline="central" class="cl">100</text>
<text x="523.0" y="530.0" transform="rotate(70 523.0 530.0)" text-anchor="middle" dominant-baseline="central" class="cl">150</text>
<text x="745.0" y="461.0" transform="rotate(15 745.0 461.0)" text-anchor="middle" dominant-baseline="central" class="cl">150</text>
<text x="720.0" y="475.0" transform="rotate(35 720.0 475.0)" text-anchor="middle" dominant-baseline="central" class="cl">150</text>
<text x="289.0" y="565.0" transform="rotate(80 289.0 565.0)" text-anchor="middle" dominant-baseline="central" class="cl">250</text>
<text x="427.0" y="621.0" transform="rotate(-15 427.0 621.0)" text-anchor="middle" dominant-baseline="central" class="cl">150</text>
<text x="402.0" y="638.0" transform="rotate(55 402.0 638.0)" text-anchor="middle" dominant-baseline="central" class="cl">150</text>
<text x="380.0" y="648.0" transform="rotate(70 380.0 648.0)" text-anchor="middle" dominant-baseline="central" class="cl">250</text>
<text x="583.6" y="669.0" transform="rotate(0 583.6 669.0)" text-anchor="middle" dominant-baseline="central" class="cl">200</text>
<text x="540.0" y="688.0" transform="rotate(55 540.0 688.0)" text-anchor="middle" dominant-baseline="central" class="cl">150</text>
<text x="565.0" y="696.0" transform="rotate(80 565.0 696.0)" text-anchor="middle" dominant-baseline="central" class="cl">150</text>
<text x="555.0" y="709.0" transform="rotate(75 555.0 709.0)" text-anchor="middle" dominant-baseline="central" class="cl">100</text>
<text x="442.0" y="709.0" transform="rotate(70 442.0 709.0)" text-anchor="middle" dominant-baseline="central" class="cl">300</text>
<text x="530.0" y="717.0" transform="rotate(-25 530.0 717.0)" text-anchor="middle" dominant-baseline="central" class="cl">300</text>
<text x="568.0" y="745.0" transform="rotate(75 568.0 745.0)" text-anchor="middle" dominant-baseline="central" class="cl">150</text>
<text x="489.0" y="751.0" transform="rotate(55 489.0 751.0)" text-anchor="middle" dominant-baseline="central" class="cl">300</text>
<text x="494.0" y="767.0" transform="rotate(50 494.0 767.0)" text-anchor="middle" dominant-baseline="central" class="cl">350</text>
<text x="511.0" y="759.0" transform="rotate(-70 511.0 759.0)" text-anchor="middle" dominant-baseline="central" class="cl">350</text>
<text x="532.0" y="765.0" transform="rotate(-75 532.0 765.0)" text-anchor="middle" dominant-baseline="central" class="cl">400</text>
<text x="543.0" y="763.0" transform="rotate(70 543.0 763.0)" text-anchor="middle" dominant-baseline="central" class="cl">350</text>
<text x="483.0" y="774.0" transform="rotate(-70 483.0 774.0)" text-anchor="middle" dominant-baseline="central" class="cl">250</text>
<text x="613.0" y="576.0" transform="rotate(10 613.0 576.0)" text-anchor="middle" dominant-baseline="central" class="cl">200</text>
<text x="605.0" y="602.0" transform="rotate(-80 605.0 602.0)" text-anchor="middle" dominant-baseline="central" class="cl">250</text>
<text x="754.0" y="564.0" transform="rotate(30 754.0 564.0)" text-anchor="middle" dominant-baseline="central" class="cl">150</text>
<text x="635.0" y="660.0" transform="rotate(10 635.0 660.0)" text-anchor="middle" dominant-baseline="central" class="cl">250</text>
<text x="667.0" y="673.0" transform="rotate(-75 667.0 673.0)" text-anchor="middle" dominant-baseline="central" class="cl">350</text>
<text x="657.0" y="679.0" transform="rotate(-65 657.0 679.0)" text-anchor="middle" dominant-baseline="central" class="cl">300</text>
<text x="689.0" y="681.0" transform="rotate(-40 689.0 681.0)" text-anchor="middle" dominant-baseline="central" class="cl">300</text>
<text x="718.0" y="662.0" transform="rotate(-30 718.0 662.0)" text-anchor="middle" dominant-baseline="central" class="cl">250</text>
<text x="718.0" y="675.0" transform="rotate(15 718.0 675.0)" text-anchor="middle" dominant-baseline="central" class="cl">300</text>
<text x="729.0" y="686.6" transform="rotate(0 729.0 686.6)" text-anchor="middle" dominant-baseline="central" class="cl">300</text>
<text x="690.0" y="760.0" transform="rotate(15 690.0 760.0)" text-anchor="middle" dominant-baseline="central" class="cl">250</text>
<text x="735.0" y="766.0" transform="rotate(0 735.0 766.0)" text-anchor="middle" dominant-baseline="central" class="cl">200</text>
<text x="329.0" y="799.0" transform="rotate(-60 329.0 799.0)" text-anchor="middle" dominant-baseline="central" class="cl">300</text>
<text x="327.0" y="868.0" transform="rotate(-35 327.0 868.0)" text-anchor="middle" dominant-baseline="central" class="cl">500</text>
<text x="319.0" y="891.0" transform="rotate(0 319.0 891.0)" text-anchor="middle" dominant-baseline="central" class="cl">350</text>
<text x="329.0" y="902.0" transform="rotate(5 329.0 902.0)" text-anchor="middle" dominant-baseline="central" class="cl">400</text>
<text x="467.0" y="864.0" transform="rotate(-50 467.0 864.0)" text-anchor="middle" dominant-baseline="central" class="cl">150</text>
<text x="532.0" y="826.0" transform="rotate(-75 532.0 826.0)" text-anchor="middle" dominant-baseline="central" class="cl">300</text>
<text x="543.0" y="872.0" transform="rotate(-15 543.0 872.0)" text-anchor="middle" dominant-baseline="central" class="cl">200</text>
<text x="548.0" y="880.0" transform="rotate(-20 548.0 880.0)" text-anchor="middle" dominant-baseline="central" class="cl">100</text>
<text x="518.0" y="894.0" transform="rotate(55 518.0 894.0)" text-anchor="middle" dominant-baseline="central" class="cl">150</text>
<text x="567.0" y="823.0" transform="rotate(-50 567.0 823.0)" text-anchor="middle" dominant-baseline="central" class="cl">300</text>
<text x="589.0" y="828.0" transform="rotate(-60 589.0 828.0)" text-anchor="middle" dominant-baseline="central" class="cl">500</text>
<text x="623.6" y="813.6" transform="rotate(0 623.6 813.6)" text-anchor="middle" dominant-baseline="central" class="cl">200</text>
<text x="677.0" y="821.0" transform="rotate(70 677.0 821.0)" text-anchor="middle" dominant-baseline="central" class="cl">250</text>
<text x="705.0" y="817.0" transform="rotate(20 705.0 817.0)" text-anchor="middle" dominant-baseline="central" class="cl">150</text>
<text x="744.0" y="807.0" transform="rotate(50 744.0 807.0)" text-anchor="middle" dominant-baseline="central" class="cl">250</text>
<text x="759.0" y="816.0" transform="rotate(70 759.0 816.0)" text-anchor="middle" dominant-baseline="central" class="cl">300</text>
<text x="760.0" y="836.0" transform="rotate(60 760.0 836.0)" text-anchor="middle" dominant-baseline="central" class="cl">350</text>
<text x="763.3" y="536.7" transform="rotate(85 763.3 536.7)" text-anchor="middle" dominant-baseline="central" class="cl">100</text>
<text x="754.8" y="563.3" transform="rotate(30 754.8 563.3)" text-anchor="middle" dominant-baseline="central" class="cl">150</text>
<text x="703.9" y="533.3" transform="rotate(20 703.9 533.3)" text-anchor="middle" dominant-baseline="central" class="cl">250</text>
<text x="708.4" y="536.7" transform="rotate(20 708.4 536.7)" text-anchor="middle" dominant-baseline="central" class="cl">300</text>
<text x="530.1" y="827.1" transform="rotate(-70 530.1 827.1)" text-anchor="middle" dominant-baseline="central" class="cl">300</text>
<text x="571.6" y="813.8" transform="rotate(-55 571.6 813.8)" text-anchor="middle" dominant-baseline="central" class="cl">300</text>
<text x="572.7" y="816.5" transform="rotate(-55 572.7 816.5)" text-anchor="middle" dominant-baseline="central" class="cl">350</text>
<text x="573.9" y="819.3" transform="rotate(-55 573.9 819.3)" text-anchor="middle" dominant-baseline="central" class="cl">400</text>
<text x="570.0" y="817.7" transform="rotate(-60 570.0 817.7)" text-anchor="middle" dominant-baseline="central" class="cl">300</text>
<text x="598.2" y="810.7" transform="rotate(-60 598.2 810.7)" text-anchor="middle" dominant-baseline="central" class="cl">400</text>
<text x="600.2" y="813.0" transform="rotate(-60 600.2 813.0)" text-anchor="middle" dominant-baseline="central" class="cl">500</text>
<text x="602.1" y="815.4" transform="rotate(-60 602.1 815.4)" text-anchor="middle" dominant-baseline="central" class="cl">600</text>
<text x="599.0" y="816.2" transform="rotate(-60 599.0 816.2)" text-anchor="middle" dominant-baseline="central" class="cl">700</text>
<text x="589.6" y="827.9" transform="rotate(-55 589.6 827.9)" text-anchor="middle" dominant-baseline="central" class="cl">500</text>
<text x="541.8" y="758.3" transform="rotate(75 541.8 758.3)" text-anchor="middle" dominant-baseline="central" class="cl">350</text>
<text x="531.7" y="767.7" transform="rotate(-70 531.7 767.7)" text-anchor="middle" dominant-baseline="central" class="cl">400</text>
<text x="513.7" y="758.3" transform="rotate(-60 513.7 758.3)" text-anchor="middle" dominant-baseline="central" class="cl">350</text>
<text x="489.4" y="753.6" transform="rotate(60 489.4 753.6)" text-anchor="middle" dominant-baseline="central" class="cl">300</text>
<text x="494.9" y="769.2" transform="rotate(55 494.9 769.2)" text-anchor="middle" dominant-baseline="central" class="cl">350</text>
<text x="740.1" y="541.2" transform="rotate(-30 740.1 541.2)" text-anchor="middle" dominant-baseline="central" class="cl">350</text>
<text x="740.7" y="543.5" transform="rotate(-30 740.7 543.5)" text-anchor="middle" dominant-baseline="central" class="cl">400</text>
<text x="739.5" y="545.7" transform="rotate(-25 739.5 545.7)" text-anchor="middle" dominant-baseline="central" class="cl">500</text>
<text x="739.0" y="548.0" transform="rotate(-25 739.0 548.0)" text-anchor="middle" dominant-baseline="central" class="cl">600</text>
<text x="741.2" y="539.0" transform="rotate(-35 741.2 539.0)" text-anchor="middle" dominant-baseline="central" class="cl">300</text>
<text x="737.8" y="549.7" transform="rotate(-20 737.8 549.7)" text-anchor="middle" dominant-baseline="central" class="cl">700</text>
<text x="707.3" y="531.6" transform="rotate(25 707.3 531.6)" text-anchor="middle" dominant-baseline="central" class="cl">350</text>
<text x="883.5" y="954.8" transform="rotate(0 883.5 954.8)" text-anchor="middle" dominant-baseline="central" class="cl">300</text>
<text x="884.1" y="958.0" transform="rotate(0 884.1 958.0)" text-anchor="middle" dominant-baseline="central" class="cl">350</text>
<text x="883.5" y="961.3" transform="rotate(0 883.5 961.3)" text-anchor="middle" dominant-baseline="central" class="cl">400</text>
<text x="882.8" y="964.6" transform="rotate(0 882.8 964.6)" text-anchor="middle" dominant-baseline="central" class="cl">500</text>
<text x="884.1" y="967.2" transform="rotate(0 884.1 967.2)" text-anchor="middle" dominant-baseline="central" class="cl">300</text>
<text x="667.1" y="670.3" transform="rotate(-75 667.1 670.3)" text-anchor="middle" dominant-baseline="central" class="cl">350</text>
<text x="657.4" y="676.4" transform="rotate(-65 657.4 676.4)" text-anchor="middle" dominant-baseline="central" class="cl">300</text>
<path d="M970.8 445.3 L983.5 433.3 L996.2 445.3 Z" fill="#fce0e0" stroke="#000" stroke-width="2.6" stroke-linejoin="miter"/>
<path d="M970.8 1023.5 L983.5 1035.5 L996.2 1023.5 Z" fill="#fce468" stroke="#000" stroke-width="2.6" stroke-linejoin="miter"/>
<rect x="971.3" y="445.30" width="24.4" height="32.42" fill="#fad4e8"/>
<rect x="971.3" y="477.42" width="24.4" height="32.42" fill="#f8c8f0"/>
<rect x="971.3" y="509.54" width="24.4" height="32.42" fill="#f4b8f4"/>
<rect x="971.3" y="541.67" width="24.4" height="32.42" fill="#f2a8f8"/>
<rect x="971.3" y="573.79" width="24.4" height="32.42" fill="#ee98fc"/>
<rect x="971.3" y="605.91" width="24.4" height="32.42" fill="#cc98fa"/>
<rect x="971.3" y="638.03" width="24.4" height="32.42" fill="#aa98f8"/>
<rect x="971.3" y="670.16" width="24.4" height="32.42" fill="#8c9cf8"/>
<rect x="971.3" y="702.28" width="24.4" height="32.42" fill="#689cf4"/>
<rect x="971.3" y="734.40" width="24.4" height="32.42" fill="#64a4ec"/>
<rect x="971.3" y="766.52" width="24.4" height="32.42" fill="#7cb8dc"/>
<rect x="971.3" y="798.64" width="24.4" height="32.42" fill="#98c8cc"/>
<rect x="971.3" y="830.77" width="24.4" height="32.42" fill="#b0d8c0"/>
<rect x="971.3" y="862.89" width="24.4" height="32.42" fill="#cce8b0"/>
<rect x="971.3" y="895.01" width="24.4" height="32.42" fill="#d8ecac"/>
<rect x="971.3" y="927.13" width="24.4" height="32.42" fill="#e4f0a8"/>
<rect x="971.3" y="959.26" width="24.4" height="32.42" fill="#f0f0a0"/>
<rect x="971.3" y="991.38" width="24.4" height="32.42" fill="#f8f4a0"/>
<line x1="971.3" y1="445.30" x2="1007" y2="445.30" stroke="#222" stroke-width="1.1"/>
<text transform="translate(1041.3 448.70) scale(1.1 1)" text-anchor="end" class="lg">1400</text>
<line x1="971.3" y1="477.42" x2="1007" y2="477.42" stroke="#222" stroke-width="1.1"/>
<text transform="translate(1041.3 480.82) scale(1.1 1)" text-anchor="end" class="lg">1300</text>
<line x1="971.3" y1="509.54" x2="1007" y2="509.54" stroke="#222" stroke-width="1.1"/>
<text transform="translate(1041.3 512.94) scale(1.1 1)" text-anchor="end" class="lg">1200</text>
<line x1="971.3" y1="541.67" x2="1007" y2="541.67" stroke="#222" stroke-width="1.1"/>
<text transform="translate(1041.3 545.07) scale(1.1 1)" text-anchor="end" class="lg">1100</text>
<line x1="971.3" y1="573.79" x2="1007" y2="573.79" stroke="#222" stroke-width="1.1"/>
<text transform="translate(1041.3 577.19) scale(1.1 1)" text-anchor="end" class="lg">1000</text>
<line x1="971.3" y1="605.91" x2="1007" y2="605.91" stroke="#222" stroke-width="1.1"/>
<text transform="translate(1041.3 609.31) scale(1.1 1)" text-anchor="end" class="lg">900</text>
<line x1="971.3" y1="638.03" x2="1007" y2="638.03" stroke="#222" stroke-width="1.1"/>
<text transform="translate(1041.3 641.43) scale(1.1 1)" text-anchor="end" class="lg">800</text>
<line x1="971.3" y1="670.16" x2="1007" y2="670.16" stroke="#222" stroke-width="1.1"/>
<text transform="translate(1041.3 673.56) scale(1.1 1)" text-anchor="end" class="lg">700</text>
<line x1="971.3" y1="702.28" x2="1007" y2="702.28" stroke="#222" stroke-width="1.1"/>
<text transform="translate(1041.3 705.68) scale(1.1 1)" text-anchor="end" class="lg">600</text>
<line x1="971.3" y1="734.40" x2="1007" y2="734.40" stroke="#222" stroke-width="1.1"/>
<text transform="translate(1041.3 737.80) scale(1.1 1)" text-anchor="end" class="lg">500</text>
<line x1="971.3" y1="766.52" x2="1007" y2="766.52" stroke="#222" stroke-width="1.1"/>
<text transform="translate(1041.3 769.92) scale(1.1 1)" text-anchor="end" class="lg">400</text>
<line x1="971.3" y1="798.64" x2="1007" y2="798.64" stroke="#222" stroke-width="1.1"/>
<text transform="translate(1041.3 802.04) scale(1.1 1)" text-anchor="end" class="lg">350</text>
<line x1="971.3" y1="830.77" x2="1007" y2="830.77" stroke="#222" stroke-width="1.1"/>
<text transform="translate(1041.3 834.17) scale(1.1 1)" text-anchor="end" class="lg">300</text>
<line x1="971.3" y1="862.89" x2="1007" y2="862.89" stroke="#222" stroke-width="1.1"/>
<text transform="translate(1041.3 866.29) scale(1.1 1)" text-anchor="end" class="lg">250</text>
<line x1="971.3" y1="895.01" x2="1007" y2="895.01" stroke="#222" stroke-width="1.1"/>
<text transform="translate(1041.3 898.41) scale(1.1 1)" text-anchor="end" class="lg">200</text>
<line x1="971.3" y1="927.13" x2="1007" y2="927.13" stroke="#222" stroke-width="1.1"/>
<text transform="translate(1041.3 930.53) scale(1.1 1)" text-anchor="end" class="lg">150</text>
<line x1="971.3" y1="959.26" x2="1007" y2="959.26" stroke="#222" stroke-width="1.1"/>
<text transform="translate(1041.3 962.66) scale(1.1 1)" text-anchor="end" class="lg">100</text>
<line x1="971.3" y1="991.38" x2="1007" y2="991.38" stroke="#222" stroke-width="1.1"/>
<text transform="translate(1041.3 994.78) scale(1.1 1)" text-anchor="end" class="lg">50</text>
<line x1="971.3" y1="1023.50" x2="1007" y2="1023.50" stroke="#222" stroke-width="1.1"/>
<text transform="translate(1041.3 1026.90) scale(1.1 1)" text-anchor="end" class="lg">20</text>
<rect x="971.3" y="445.3" width="24.4" height="578.2" fill="none" stroke="#000" stroke-width="2.6"/>
<text x="983.3" y="420.8" text-anchor="middle" class="lg" style="font-size:10px">mm</text>
</svg>
<div class="logo">
<svg class="ic" width="16" height="16" viewBox="0 0 16 16"><rect x="0" y="0" width="16" height="16" rx="1.5" fill="#fff"/><path d="M8.3 2.1 A6 6 0 0 0 8.3 13.9" fill="none" stroke="#05508f" stroke-width="1.5"/><path d="M8.5 1.2 V14.8" stroke="#05508f" stroke-width="1"/><path d="M9 2.4 A5.8 5.8 0 0 1 9 13.6" fill="none" stroke="#05508f" stroke-width="0.45" opacity="0.8"/></svg>
<div class="w" style="top:30px;letter-spacing:0.45px">METEO</div>
<div class="w" style="top:41px;font-size:9.3px;letter-spacing:0px">FRANCE</div>
</div>
<div class="ft">Edité le : 27/11/2020 - Produit élaboré avec les données<br>disponibles du : 27/11/2020 à 10:02 UTC</div>
</body></html>
